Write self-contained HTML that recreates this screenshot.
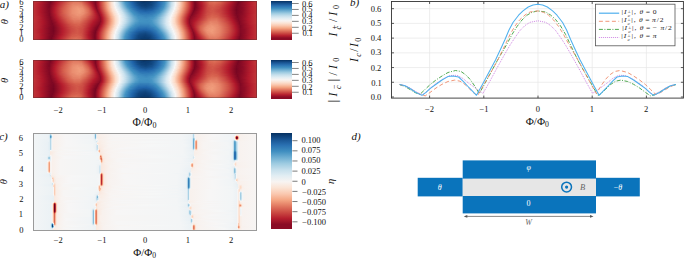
<!DOCTYPE html>
<html><head><meta charset="utf-8"><style>
html,body{margin:0;padding:0;background:#fff;}
body{width:685px;height:259px;position:relative;overflow:hidden;font-family:"Liberation Serif",serif;color:#111;}

.t{position:absolute;white-space:nowrap;line-height:1;left:0;top:0;}
.t .sb{font-size:70%;vertical-align:-0.3em;line-height:0;}
.t .sb0{font-size:70%;vertical-align:-0.3em;line-height:0;}
.t .ss{display:inline-block;vertical-align:middle;line-height:1.12;font-size:70%;text-align:left;margin-left:0.04em;}
.t .ss .sp{display:block;}
.t .ss .sb{display:block;font-size:100%;vertical-align:0;}
.frame{position:absolute;box-sizing:border-box;border:0.8px solid #444;}
</style></head><body>
<div style="position:absolute;left:33px;top:1px;width:224px;height:39px;overflow:hidden;">
<div style="position:absolute;left:0;top:0.00px;width:224px;height:1.60px;background:linear-gradient(90deg,#bf3338 0.5px,#b82531 5.5px,#a81529 9.5px,#840924 15.5px,#7c0722 17.5px,#b3192c 24.5px,#db6b55 37.5px,#e17860 42.5px,#db6b55 48.5px,#ae172a 57.5px,#840924 61.5px,#7f0823 62.5px,#b41c2d 65.5px,#dd7059 70.5px,#f6b191 74.5px,#fce2d2 78.5px,#f5f6f7 81.5px,#d5e7f1 84.5px,#8ac0db 88.5px,#4f9bc7 91.5px,#4291c2 92.5px,#1e61a5 99.5px,#0f437b 105.5px,#08366a 111.5px,#0d3f76 117.5px,#1a5899 123.5px,#2267ac 125.5px,#408fc1 131.5px,#5fa5cd 133.5px,#c5dfec 138.5px,#f5f6f7 142.5px,#fdd9c4 146.5px,#ec9374 151.5px,#ce4f45 155.5px,#b41c2d 158.5px,#810823 161.5px,#810823 162.5px,#b1182b 167.5px,#db6b55 176.5px,#de735c 181.5px,#d86551 186.5px,#c84440 192.5px,#ae172a 199.5px,#7c0722 205.5px,#8a0b25 209.5px,#b61f2e 217.5px,#bf3338 222.5px,#bf3338 223.5px)"></div>
<div style="position:absolute;left:0;top:1.00px;width:224px;height:1.60px;background:linear-gradient(90deg,#bf3338 0.5px,#b82531 5.5px,#a81529 9.5px,#7f0823 16.5px,#7c0722 17.5px,#b1182b 23.5px,#db6b55 36.5px,#e27b62 40.5px,#e27b62 45.5px,#dd7059 48.5px,#c2383a 54.5px,#b3192c 57.5px,#810823 62.5px,#b3192c 65.5px,#dd7059 70.5px,#f6b191 74.5px,#fce2d2 78.5px,#f6f7f7 81.5px,#d7e8f1 84.5px,#68abd0 90.5px,#4393c3 92.5px,#1f63a8 99.5px,#114781 104.5px,#09386d 110.5px,#0d3f76 117.5px,#1a5899 123.5px,#2267ac 125.5px,#408fc1 131.5px,#5fa5cd 133.5px,#c2ddec 138.5px,#deebf2 140.5px,#f5f6f7 142.5px,#fdd9c4 146.5px,#ec9374 151.5px,#ce4f45 155.5px,#b41c2d 158.5px,#810823 161.5px,#7f0823 162.5px,#b41c2d 168.5px,#d86551 176.5px,#dc6e57 181.5px,#d55d4c 187.5px,#b1182b 198.5px,#790622 205.5px,#a81529 214.5px,#b3192c 216.5px,#be3036 221.5px,#bf3338 223.5px)"></div>
<div style="position:absolute;left:0;top:2.00px;width:224px;height:1.60px;background:linear-gradient(90deg,#bf3338 0.5px,#ae172a 8.5px,#7f0823 16.5px,#7f0823 17.5px,#b3192c 23.5px,#db6b55 35.5px,#e48066 40.5px,#e48066 45.5px,#e17860 48.5px,#c6413e 54.5px,#ae172a 58.5px,#810823 62.5px,#b3192c 65.5px,#dd7059 70.5px,#f2a17f 73.5px,#fce0d0 78.5px,#f7f6f6 81.5px,#cce2ef 85.5px,#6bacd1 90.5px,#4997c5 92.5px,#2065ab 99.5px,#124984 104.5px,#0c3d73 108.5px,#0c3d73 115.5px,#134c87 120.5px,#266caf 126.5px,#408fc1 131.5px,#4c99c6 132.5px,#c5dfec 138.5px,#f5f6f7 142.5px,#fcd7c2 146.5px,#eb9172 151.5px,#ce4f45 155.5px,#b41c2d 158.5px,#810823 161.5px,#7c0722 162.5px,#b3192c 168.5px,#d6604d 176.5px,#da6853 181.5px,#d25849 187.5px,#b3192c 197.5px,#7c0722 204.5px,#790622 205.5px,#a81529 214.5px,#b3192c 216.5px,#be3036 221.5px,#bf3338 223.5px)"></div>
<div style="position:absolute;left:0;top:3.00px;width:224px;height:1.60px;background:linear-gradient(90deg,#bf3338 0.5px,#b41c2d 6.5px,#870a24 14.5px,#7f0823 16.5px,#930e26 19.5px,#ae172a 22.5px,#ce4f45 30.5px,#e58368 39.5px,#e6866a 45.5px,#e48066 48.5px,#cb4942 54.5px,#ab162a 59.5px,#810823 62.5px,#b3192c 65.5px,#dc6e57 70.5px,#f6af8e 74.5px,#fcdfcf 78.5px,#f7f5f4 81.5px,#d1e5f0 85.5px,#62a7ce 91.5px,#4393c3 93.5px,#2369ad 99.5px,#10457e 106.5px,#0c3d73 112.5px,#10457e 118.5px,#276eb0 126.5px,#4291c2 131.5px,#65a9cf 133.5px,#c7e0ed 138.5px,#f6f7f7 142.5px,#fcd7c2 146.5px,#eb9172 151.5px,#ce4f45 155.5px,#b41c2d 158.5px,#810823 161.5px,#7c0722 162.5px,#b1182b 168.5px,#d55d4c 176.5px,#d7634f 181.5px,#cf5246 187.5px,#ae172a 197.5px,#790622 204.5px,#960f27 211.5px,#b3192c 216.5px,#be3036 221.5px,#bf3338 223.5px)"></div>
<div style="position:absolute;left:0;top:4.00px;width:224px;height:1.60px;background:linear-gradient(90deg,#bf3338 0.5px,#b41c2d 6.5px,#870a24 14.5px,#7f0823 16.5px,#b3192c 22.5px,#dc6e57 34.5px,#e8896c 40.5px,#e98b6e 45.5px,#e6866a 48.5px,#d55d4c 53.5px,#b1182b 59.5px,#870a24 62.5px,#8d0c25 63.5px,#b1182b 65.5px,#d35a4a 69.5px,#f5ac8b 74.5px,#fcdecd 78.5px,#f8f4f2 81.5px,#deebf2 84.5px,#b3d6e8 87.5px,#59a1ca 92.5px,#3f8ec0 94.5px,#1e61a5 101.5px,#15508d 104.5px,#0f437b 108.5px,#0d3f76 112.5px,#114781 118.5px,#246aae 125.5px,#4695c4 131.5px,#cae1ee 138.5px,#f7f6f6 142.5px,#fac8af 147.5px,#f19e7d 150.5px,#d55d4c 154.5px,#b41c2d 158.5px,#810823 161.5px,#7c0722 162.5px,#ae172a 168.5px,#cf5246 175.5px,#d6604d 180.5px,#cf5246 186.5px,#b1182b 196.5px,#790622 204.5px,#960f27 211.5px,#b61f2e 217.5px,#be3036 221.5px,#bf3338 223.5px)"></div>
<div style="position:absolute;left:0;top:5.00px;width:224px;height:1.60px;background:linear-gradient(90deg,#bf3338 0.5px,#b61f2e 5.5px,#810823 15.5px,#7f0823 16.5px,#b41c2d 22.5px,#d55d4c 31.5px,#e8896c 39.5px,#ec9374 44.5px,#e6866a 49.5px,#d86551 53.5px,#c2383a 57.5px,#b41c2d 59.5px,#8a0b25 62.5px,#8a0b25 63.5px,#ae172a 65.5px,#db6b55 70.5px,#f5aa89 74.5px,#fdddcb 78.5px,#f5f6f7 82.5px,#cae1ee 86.5px,#75b2d4 91.5px,#4393c3 94.5px,#2065ab 101.5px,#114781 108.5px,#0f437b 113.5px,#15508d 119.5px,#266caf 125.5px,#408fc1 130.5px,#6eaed2 133.5px,#cce2ef 138.5px,#f0f4f6 141.5px,#f8f4f2 142.5px,#fcd3bc 146.5px,#f09c7b 150.5px,#d55d4c 154.5px,#b3192c 158.5px,#7f0823 161.5px,#7c0722 162.5px,#ae172a 168.5px,#cf5246 175.5px,#d55d4c 180.5px,#cb4942 187.5px,#ae172a 196.5px,#7c0722 203.5px,#7f0823 206.5px,#b3192c 216.5px,#bd2d35 221.5px,#bf3338 223.5px)"></div>
<div style="position:absolute;left:0;top:6.00px;width:224px;height:1.60px;background:linear-gradient(90deg,#bf3338 0.5px,#ae172a 7.5px,#810823 15.5px,#810823 16.5px,#b61f2e 22.5px,#d6604d 31.5px,#e98b6e 39.5px,#ee9677 44.5px,#e98b6e 49.5px,#d7634f 54.5px,#b1182b 60.5px,#900d26 62.5px,#870a24 63.5px,#ab162a 65.5px,#d86551 70.5px,#f5a886 74.5px,#fddcc9 78.5px,#f7f6f6 82.5px,#d1e5f0 86.5px,#7eb8d7 91.5px,#4c99c6 94.5px,#307ab6 98.5px,#2065ab 102.5px,#15508d 107.5px,#114781 112.5px,#15508d 118.5px,#266caf 124.5px,#4393c3 130.5px,#d2e6f0 138.5px,#f3f5f6 141.5px,#fbe3d4 144.5px,#f7b596 148.5px,#da6853 153.5px,#b1182b 158.5px,#7c0722 161.5px,#810823 163.5px,#b61f2e 169.5px,#cb4942 174.5px,#d05548 177.5px,#d25849 181.5px,#cb4942 186.5px,#b3192c 195.5px,#790622 203.5px,#8a0b25 209.5px,#b61f2e 217.5px,#bf3338 223.5px)"></div>
<div style="position:absolute;left:0;top:7.00px;width:224px;height:1.60px;background:linear-gradient(90deg,#bf3338 0.5px,#ae172a 7.5px,#870a24 14.5px,#840924 16.5px,#b1182b 21.5px,#ce4f45 28.5px,#e58368 37.5px,#eb9172 40.5px,#ef9979 45.5px,#eb9172 49.5px,#d6604d 55.5px,#b41c2d 60.5px,#870a24 63.5px,#b61f2e 66.5px,#de735c 71.5px,#f6b394 75.5px,#fce0d0 79.5px,#f8f4f2 82.5px,#e0ecf3 85.5px,#cae1ee 87.5px,#59a1ca 94.5px,#408fc1 96.5px,#1e61a5 104.5px,#175290 108.5px,#144e8a 113.5px,#1a5899 119.5px,#2870b1 124.5px,#4291c2 129.5px,#5ca3cb 131.5px,#c7e0ed 137.5px,#f6f7f7 141.5px,#fdd9c4 145.5px,#ec9374 150.5px,#d05548 154.5px,#ae172a 158.5px,#790622 161.5px,#930e26 165.5px,#b1182b 168.5px,#cb4942 174.5px,#d25849 179.5px,#cc4c44 185.5px,#b1182b 195.5px,#790622 203.5px,#8a0b25 209.5px,#b61f2e 217.5px,#bf3338 223.5px)"></div>
<div style="position:absolute;left:0;top:8.00px;width:224px;height:1.60px;background:linear-gradient(90deg,#bf3338 0.5px,#ae172a 7.5px,#870a24 14.5px,#840924 16.5px,#b3192c 21.5px,#d55d4c 30.5px,#ea8e70 39.5px,#f09c7b 45.5px,#ea8e70 50.5px,#d86551 55.5px,#ae172a 61.5px,#900d26 63.5px,#900d26 64.5px,#b3192c 66.5px,#dc6e57 71.5px,#f6af8e 75.5px,#fcdecd 79.5px,#f6f7f7 83.5px,#d1e5f0 87.5px,#4997c5 96.5px,#307ab6 100.5px,#1d5fa2 106.5px,#185493 112.5px,#1d5fa2 119.5px,#307ab6 125.5px,#4997c5 129.5px,#a9d1e5 135.5px,#cfe4ef 137.5px,#f7f5f4 141.5px,#fcd5bf 145.5px,#eb9172 150.5px,#d6604d 153.5px,#b61f2e 157.5px,#790622 161.5px,#9f1228 166.5px,#b72230 169.5px,#cb4942 174.5px,#d25849 179.5px,#c6413e 187.5px,#b1182b 195.5px,#760521 203.5px,#900d26 210.5px,#b61f2e 217.5px,#bf3338 223.5px)"></div>
<div style="position:absolute;left:0;top:9.00px;width:224px;height:1.60px;background:linear-gradient(90deg,#bf3338 0.5px,#ae172a 7.5px,#840924 15.5px,#840924 16.5px,#b3192c 21.5px,#d6604d 30.5px,#ea8e70 39.5px,#f09c7b 46.5px,#eb9172 50.5px,#db6b55 55.5px,#bb2a34 60.5px,#b41c2d 61.5px,#960f27 63.5px,#8d0c25 64.5px,#ae172a 66.5px,#da6853 71.5px,#f5aa89 75.5px,#fddcc9 79.5px,#f7f5f4 83.5px,#cce2ef 88.5px,#81bad8 93.5px,#4695c4 97.5px,#266caf 104.5px,#1c5c9f 112.5px,#1f63a8 118.5px,#3a87bd 126.5px,#4695c4 128.5px,#84bcd9 132.5px,#d4e6f1 137.5px,#f3f5f6 140.5px,#fbe3d4 143.5px,#f7b596 147.5px,#e27b62 151.5px,#cc4c44 154.5px,#b3192c 157.5px,#810823 160.5px,#7c0722 161.5px,#991027 165.5px,#b41c2d 168.5px,#c84440 173.5px,#cf5246 176.5px,#d05548 180.5px,#c6413e 187.5px,#ae172a 195.5px,#760521 203.5px,#900d26 210.5px,#b61f2e 217.5px,#bf3338 223.5px)"></div>
<div style="position:absolute;left:0;top:10.00px;width:224px;height:1.60px;background:linear-gradient(90deg,#bf3338 0.5px,#ae172a 7.5px,#840924 15.5px,#840924 16.5px,#b3192c 21.5px,#d6604d 30.5px,#ea8e70 39.5px,#f09c7b 46.5px,#eb9172 50.5px,#db6b55 55.5px,#c53e3d 59.5px,#ae172a 62.5px,#8d0c25 64.5px,#960f27 65.5px,#b61f2e 67.5px,#de735c 72.5px,#f3a481 75.5px,#fdd9c4 79.5px,#f5f6f7 84.5px,#d2e6f0 88.5px,#7bb6d6 94.5px,#4393c3 98.5px,#266caf 106.5px,#1f63a8 112.5px,#2870b1 120.5px,#3e8cbf 126.5px,#6eaed2 130.5px,#cfe4ef 136.5px,#f7f6f6 140.5px,#facab1 145.5px,#ec9374 149.5px,#d05548 153.5px,#ae172a 157.5px,#7c0722 160.5px,#9f1228 165.5px,#b61f2e 168.5px,#c84440 173.5px,#d05548 177.5px,#d05548 180.5px,#c53e3d 188.5px,#b1182b 195.5px,#790622 203.5px,#870a24 208.5px,#b61f2e 217.5px,#bf3338 223.5px)"></div>
<div style="position:absolute;left:0;top:11.00px;width:224px;height:1.60px;background:linear-gradient(90deg,#bf3338 0.5px,#ae172a 7.5px,#8d0c25 13.5px,#840924 16.5px,#b3192c 21.5px,#d86551 31.5px,#ea8e70 39.5px,#f09c7b 46.5px,#e8896c 51.5px,#df765e 54.5px,#cc4c44 58.5px,#b3192c 62.5px,#960f27 64.5px,#900d26 65.5px,#b1182b 67.5px,#db6b55 72.5px,#f5ac8b 76.5px,#fdddcb 80.5px,#f7f5f4 84.5px,#cfe4ef 89.5px,#4393c3 99.5px,#2870b1 107.5px,#266caf 115.5px,#307ab6 121.5px,#4393c3 126.5px,#7bb6d6 130.5px,#d5e7f1 136.5px,#f3f5f6 139.5px,#fdddcb 143.5px,#f19e7d 148.5px,#ce4f45 153.5px,#b61f2e 156.5px,#840924 159.5px,#7f0823 160.5px,#a21328 165.5px,#b72230 168.5px,#cc4c44 174.5px,#d25849 180.5px,#c84440 187.5px,#ab162a 196.5px,#790622 203.5px,#870a24 208.5px,#b61f2e 217.5px,#bf3338 223.5px)"></div>
<div style="position:absolute;left:0;top:12.00px;width:224px;height:1.60px;background:linear-gradient(90deg,#bf3338 0.5px,#b61f2e 5.5px,#a51429 9.5px,#810823 16.5px,#b61f2e 22.5px,#d25849 29.5px,#ea8e70 39.5px,#ef9979 46.5px,#ea8e70 50.5px,#d7634f 56.5px,#b61f2e 62.5px,#900d26 65.5px,#991027 66.5px,#b72230 68.5px,#df765e 73.5px,#f4a683 76.5px,#fdd9c4 80.5px,#f5f6f7 85.5px,#c7e0ed 90.5px,#84bcd9 95.5px,#4393c3 100.5px,#2e77b5 107.5px,#2b73b3 115.5px,#3681ba 121.5px,#4695c4 125.5px,#87beda 130.5px,#d1e5f0 135.5px,#f7f6f6 139.5px,#fdd9c4 143.5px,#ee9677 148.5px,#c94741 153.5px,#b1182b 156.5px,#7f0823 159.5px,#960f27 163.5px,#b41c2d 167.5px,#ce4f45 174.5px,#d35a4a 179.5px,#ce4f45 185.5px,#b3192c 195.5px,#790622 203.5px,#8d0c25 209.5px,#b3192c 216.5px,#bd2d35 221.5px,#bf3338 223.5px)"></div>
<div style="position:absolute;left:0;top:13.00px;width:224px;height:1.60px;background:linear-gradient(90deg,#bf3338 0.5px,#b41c2d 6.5px,#810823 16.5px,#b41c2d 22.5px,#c94741 27.5px,#e58368 37.5px,#ee9677 44.5px,#ea8e70 49.5px,#d6604d 56.5px,#ae172a 63.5px,#960f27 65.5px,#930e26 66.5px,#b3192c 68.5px,#dc6e57 73.5px,#f6af8e 77.5px,#fcdecd 81.5px,#f7f5f4 85.5px,#cfe4ef 90.5px,#59a1ca 99.5px,#4393c3 101.5px,#307ab6 109.5px,#337eb8 118.5px,#4291c2 123.5px,#68abd0 127.5px,#cae1ee 134.5px,#f3f5f6 138.5px,#f9ebe3 140.5px,#fcd3bc 143.5px,#eb9172 148.5px,#ce4f45 152.5px,#b61f2e 155.5px,#870a24 158.5px,#810823 159.5px,#b61f2e 167.5px,#cc4c44 173.5px,#d55d4c 179.5px,#cf5246 185.5px,#ba2832 193.5px,#a81529 197.5px,#7c0722 203.5px,#8d0c25 209.5px,#b41c2d 216.5px,#be3036 221.5px,#bf3338 223.5px)"></div>
<div style="position:absolute;left:0;top:14.00px;width:224px;height:1.60px;background:linear-gradient(90deg,#bf3338 0.5px,#ae172a 8.5px,#900d26 13.5px,#810823 16.5px,#b3192c 22.5px,#c84440 27.5px,#e48066 37.5px,#ec9374 44.5px,#eb9172 47.5px,#db6b55 54.5px,#b72230 62.5px,#a51429 64.5px,#8d0c25 66.5px,#ae172a 68.5px,#da6853 73.5px,#f5aa89 77.5px,#fddbc7 81.5px,#f5f6f7 86.5px,#c7e0ed 91.5px,#4c99c6 101.5px,#3b88be 105.5px,#3480b9 113.5px,#3a87bd 119.5px,#4997c5 123.5px,#75b2d4 127.5px,#dbeaf2 135.5px,#f7f6f6 138.5px,#fddbc7 142.5px,#ef9979 147.5px,#cb4942 152.5px,#b3192c 155.5px,#810823 158.5px,#b41c2d 166.5px,#cf5246 174.5px,#d6604d 178.5px,#d55d4c 183.5px,#bf3338 192.5px,#ab162a 197.5px,#840924 202.5px,#7c0722 204.5px,#991027 211.5px,#b41c2d 216.5px,#be3036 221.5px,#bf3338 223.5px)"></div>
<div style="position:absolute;left:0;top:15.00px;width:224px;height:1.60px;background:linear-gradient(90deg,#bf3338 0.5px,#b82531 5.5px,#a81529 9.5px,#840924 16.5px,#840924 17.5px,#b61f2e 23.5px,#d05548 30.5px,#e6866a 39.5px,#ea8e70 46.5px,#de735c 52.5px,#b1182b 63.5px,#930e26 66.5px,#960f27 67.5px,#b61f2e 69.5px,#d7634f 73.5px,#f6b191 78.5px,#fcdfcf 82.5px,#f6f7f7 86.5px,#cce2ef 91.5px,#5fa5cd 100.5px,#4291c2 104.5px,#3783bb 112.5px,#3e8cbf 119.5px,#4393c3 121.5px,#71b0d3 126.5px,#cce2ef 133.5px,#f2f5f6 137.5px,#f8f4f2 138.5px,#fcd7c2 142.5px,#ec9374 147.5px,#cf5246 151.5px,#ab162a 155.5px,#870a24 157.5px,#960f27 161.5px,#b61f2e 166.5px,#d25849 174.5px,#d86551 179.5px,#d35a4a 185.5px,#b41c2d 196.5px,#7c0722 204.5px,#9f1228 212.5px,#b3192c 215.5px,#bf3338 222.5px,#bf3338 223.5px)"></div>
<div style="position:absolute;left:0;top:16.00px;width:224px;height:1.60px;background:linear-gradient(90deg,#bf3338 0.5px,#b82531 5.5px,#ab162a 9.5px,#8d0c25 14.5px,#810823 17.5px,#b41c2d 23.5px,#d55d4c 32.5px,#e6866a 40.5px,#e8896c 46.5px,#dc6e57 52.5px,#b1182b 63.5px,#930e26 66.5px,#900d26 67.5px,#b3192c 69.5px,#dc6e57 74.5px,#f6af8e 78.5px,#fdddcb 82.5px,#f7f5f4 86.5px,#c5dfec 92.5px,#5ca3cb 101.5px,#4291c2 105.5px,#3b88be 113.5px,#4695c4 120.5px,#5ca3cb 123.5px,#96c7df 128.5px,#dbeaf2 134.5px,#f5f6f7 137.5px,#fcd3bc 142.5px,#f19e7d 146.5px,#cc4c44 151.5px,#b41c2d 154.5px,#870a24 157.5px,#b41c2d 165.5px,#d35a4a 174.5px,#da6853 178.5px,#d7634f 184.5px,#c43b3c 192.5px,#ab162a 198.5px,#7c0722 204.5px,#9c1127 211.5px,#b41c2d 216.5px,#bf3338 222.5px,#bf3338 223.5px)"></div>
<div style="position:absolute;left:0;top:17.00px;width:224px;height:1.60px;background:linear-gradient(90deg,#bf3338 0.5px,#b72230 6.5px,#9f1228 11.5px,#810823 17.5px,#b1182b 23.5px,#cc4c44 30.5px,#e37e64 39.5px,#e6866a 46.5px,#d86551 52.5px,#ae172a 63.5px,#8d0c25 67.5px,#b1182b 69.5px,#da6853 74.5px,#f5aa89 78.5px,#fddcc9 82.5px,#f8f4f2 86.5px,#dae9f2 90.5px,#6bacd1 100.5px,#59a1ca 102.5px,#4393c3 105.5px,#3e8cbf 113.5px,#4695c4 119.5px,#59a1ca 122.5px,#81bad8 126.5px,#d5e7f1 133.5px,#f7f6f6 137.5px,#fddcc9 141.5px,#f09c7b 146.5px,#cb4942 151.5px,#b1182b 154.5px,#900d26 156.5px,#8a0b25 157.5px,#b41c2d 164.5px,#d86551 175.5px,#dc6e57 178.5px,#dc6e57 183.5px,#c94741 191.5px,#b1182b 198.5px,#8d0c25 202.5px,#7f0823 205.5px,#b3192c 215.5px,#c13639 223.5px)"></div>
<div style="position:absolute;left:0;top:18.00px;width:224px;height:1.60px;background:linear-gradient(90deg,#c13639 0.5px,#b1182b 8.5px,#810823 17.5px,#991027 21.5px,#b41c2d 24.5px,#d6604d 34.5px,#e37e64 40.5px,#e48066 46.5px,#d6604d 52.5px,#b1182b 62.5px,#8d0c25 67.5px,#ae172a 69.5px,#da6853 74.5px,#f7b596 79.5px,#fddbc7 82.5px,#f8f4f2 86.5px,#e1edf3 89.5px,#c7e0ed 92.5px,#81bad8 98.5px,#529dc8 103.5px,#4291c2 107.5px,#4291c2 116.5px,#529dc8 120.5px,#68abd0 123.5px,#d8e9f1 133.5px,#f7f5f4 137.5px,#fddbc7 141.5px,#ef9979 146.5px,#d25849 150.5px,#ae172a 154.5px,#8a0b25 156.5px,#b3192c 163.5px,#db6b55 175.5px,#de735c 178.5px,#de735c 183.5px,#cf5246 190.5px,#b41c2d 198.5px,#8a0b25 203.5px,#7f0823 205.5px,#b3192c 215.5px,#c13639 223.5px)"></div>
<div style="position:absolute;left:0;top:19.00px;width:224px;height:1.60px;background:linear-gradient(90deg,#c13639 0.5px,#b72230 6.5px,#a81529 10.5px,#8a0b25 15.5px,#810823 18.5px,#b1182b 24.5px,#d55d4c 34.5px,#e17860 41.5px,#df765e 47.5px,#cb4942 54.5px,#b3192c 61.5px,#8d0c25 67.5px,#ae172a 69.5px,#d86551 74.5px,#f5a886 78.5px,#fddbc7 82.5px,#f8f4f2 86.5px,#dae9f2 90.5px,#62a7ce 101.5px,#4393c3 106.5px,#408fc1 114.5px,#4695c4 118.5px,#75b2d4 124.5px,#dae9f2 133.5px,#f8f4f2 137.5px,#fddbc7 141.5px,#ef9979 146.5px,#d05548 150.5px,#ae172a 154.5px,#8d0c25 156.5px,#b3192c 162.5px,#dd7059 175.5px,#e17860 178.5px,#e17860 183.5px,#ce4f45 191.5px,#b1182b 199.5px,#810823 205.5px,#991027 211.5px,#b3192c 215.5px,#c13639 223.5px)"></div>
<div style="position:absolute;left:0;top:20.00px;width:224px;height:1.60px;background:linear-gradient(90deg,#c13639 0.5px,#ae172a 9.5px,#870a24 16.5px,#7f0823 18.5px,#a21328 23.5px,#b41c2d 25.5px,#d55d4c 35.5px,#de735c 41.5px,#de735c 46.5px,#cc4c44 53.5px,#b3192c 60.5px,#8a0b25 67.5px,#ae172a 69.5px,#da6853 74.5px,#f7b596 79.5px,#fddbc7 82.5px,#f7f5f4 86.5px,#c5dfec 92.5px,#7eb8d7 98.5px,#59a1ca 102.5px,#4393c3 106.5px,#408fc1 114.5px,#4695c4 118.5px,#6bacd1 123.5px,#dae9f2 133.5px,#f3f5f6 136.5px,#f9eee7 138.5px,#fddbc7 141.5px,#ef9979 146.5px,#c84440 151.5px,#ae172a 154.5px,#8d0c25 156.5px,#b1182b 161.5px,#d6604d 171.5px,#e48066 177.5px,#e37e64 183.5px,#c43b3c 195.5px,#ae172a 200.5px,#8a0b25 204.5px,#810823 206.5px,#b41c2d 216.5px,#c13639 223.5px)"></div>
<div style="position:absolute;left:0;top:21.00px;width:224px;height:1.60px;background:linear-gradient(90deg,#c13639 0.5px,#ae172a 9.5px,#870a24 16.5px,#7f0823 18.5px,#930e26 22.5px,#b1182b 25.5px,#d25849 35.5px,#dc6e57 41.5px,#dc6e57 46.5px,#c94741 53.5px,#ae172a 60.5px,#8a0b25 66.5px,#900d26 67.5px,#b1182b 69.5px,#db6b55 74.5px,#f5aa89 78.5px,#fddcc9 82.5px,#f7f6f6 86.5px,#c0dceb 92.5px,#78b4d5 98.5px,#529dc8 102.5px,#408fc1 106.5px,#408fc1 116.5px,#4997c5 119.5px,#6bacd1 123.5px,#dae9f2 133.5px,#f8f4f2 137.5px,#fddcc9 141.5px,#f09c7b 146.5px,#d25849 150.5px,#b1182b 154.5px,#8d0c25 156.5px,#b41c2d 161.5px,#d86551 171.5px,#e6866a 177.5px,#e37e64 184.5px,#c94741 194.5px,#b1182b 200.5px,#810823 206.5px,#b41c2d 216.5px,#bf3338 222.5px,#bf3338 223.5px)"></div>
<div style="position:absolute;left:0;top:22.00px;width:224px;height:1.60px;background:linear-gradient(90deg,#bf3338 0.5px,#b72230 6.5px,#a81529 10.5px,#870a24 16.5px,#7c0722 19.5px,#b3192c 26.5px,#cf5246 35.5px,#da6853 41.5px,#da6853 46.5px,#c6413e 53.5px,#b1182b 59.5px,#870a24 66.5px,#b41c2d 69.5px,#dc6e57 74.5px,#f5ac8b 78.5px,#fdddcb 82.5px,#f5f6f7 86.5px,#c7e0ed 91.5px,#71b0d3 98.5px,#4c99c6 102.5px,#3e8cbf 106.5px,#3e8cbf 115.5px,#4695c4 119.5px,#65a9cf 123.5px,#d1e5f0 132.5px,#f7f5f4 137.5px,#fcd3bc 142.5px,#f19e7d 146.5px,#cc4c44 151.5px,#b3192c 154.5px,#900d26 156.5px,#9c1127 158.5px,#b61f2e 161.5px,#de735c 172.5px,#e98b6e 178.5px,#e48066 184.5px,#d25849 192.5px,#ae172a 201.5px,#810823 206.5px,#a21328 213.5px,#b41c2d 216.5px,#bf3338 222.5px,#bf3338 223.5px)"></div>
<div style="position:absolute;left:0;top:23.00px;width:224px;height:1.60px;background:linear-gradient(90deg,#bf3338 0.5px,#b72230 6.5px,#a81529 10.5px,#810823 17.5px,#7c0722 19.5px,#9f1228 24.5px,#b72230 28.5px,#d35a4a 38.5px,#d86551 45.5px,#cc4c44 51.5px,#b3192c 58.5px,#870a24 65.5px,#870a24 66.5px,#ab162a 68.5px,#d7634f 73.5px,#f6b191 78.5px,#fcdfcf 82.5px,#f8f4f2 85.5px,#e0ecf3 88.5px,#81bad8 96.5px,#68abd0 98.5px,#4393c3 102.5px,#3a87bd 107.5px,#3a87bd 115.5px,#4695c4 120.5px,#6bacd1 124.5px,#d7e8f1 133.5px,#f6f7f7 137.5px,#fcd7c2 142.5px,#ec9374 147.5px,#ce4f45 151.5px,#b61f2e 154.5px,#960f27 156.5px,#930e26 157.5px,#b1182b 160.5px,#de735c 171.5px,#ea8e70 177.5px,#e6866a 184.5px,#ce4f45 194.5px,#b1182b 201.5px,#840924 206.5px,#900d26 210.5px,#b61f2e 217.5px,#be3036 222.5px,#bf3338 223.5px)"></div>
<div style="position:absolute;left:0;top:24.00px;width:224px;height:1.60px;background:linear-gradient(90deg,#bf3338 0.5px,#b72230 6.5px,#9f1228 11.5px,#7f0823 18.5px,#7f0823 20.5px,#a21328 25.5px,#b61f2e 28.5px,#cf5246 37.5px,#d6604d 42.5px,#d6604d 46.5px,#c6413e 52.5px,#ae172a 58.5px,#810823 65.5px,#b3192c 68.5px,#db6b55 73.5px,#f7b596 78.5px,#fddbc7 81.5px,#f7f6f6 85.5px,#c5dfec 90.5px,#529dc8 99.5px,#3f8ec0 102.5px,#3681ba 107.5px,#3681ba 115.5px,#4695c4 121.5px,#6eaed2 125.5px,#d4e6f1 133.5px,#f5f6f7 137.5px,#fddbc7 142.5px,#f5aa89 146.5px,#d25849 151.5px,#ae172a 155.5px,#8d0c25 157.5px,#b1182b 160.5px,#d7634f 168.5px,#e8896c 174.5px,#ec9374 178.5px,#e8896c 184.5px,#cf5246 194.5px,#b82531 200.5px,#ab162a 202.5px,#810823 207.5px,#a51429 214.5px,#b41c2d 217.5px,#bf3338 223.5px)"></div>
<div style="position:absolute;left:0;top:25.00px;width:224px;height:1.60px;background:linear-gradient(90deg,#bf3338 0.5px,#b82531 5.5px,#a51429 10.5px,#810823 17.5px,#7c0722 20.5px,#b41c2d 28.5px,#cb4942 36.5px,#d55d4c 43.5px,#d05548 48.5px,#be3036 54.5px,#ab162a 58.5px,#810823 64.5px,#870a24 65.5px,#b61f2e 68.5px,#dd7059 73.5px,#f6af8e 77.5px,#fbe5d8 82.5px,#f8f3f0 84.5px,#e9f0f4 86.5px,#aed3e6 91.5px,#5ca3cb 97.5px,#3e8cbf 101.5px,#307ab6 107.5px,#327cb7 115.5px,#4393c3 122.5px,#b3d6e8 131.5px,#d8e9f1 134.5px,#f7f5f4 138.5px,#fcd5bf 143.5px,#eb9172 148.5px,#cc4c44 152.5px,#b3192c 155.5px,#930e26 157.5px,#960f27 158.5px,#ae172a 160.5px,#d6604d 167.5px,#ea8e70 174.5px,#ee9677 179.5px,#e58368 186.5px,#c94741 196.5px,#ae172a 202.5px,#810823 207.5px,#b41c2d 217.5px,#bf3338 223.5px)"></div>
<div style="position:absolute;left:0;top:26.00px;width:224px;height:1.60px;background:linear-gradient(90deg,#bf3338 0.5px,#b82531 5.5px,#ab162a 9.5px,#840924 16.5px,#790622 20.5px,#b61f2e 29.5px,#cf5246 39.5px,#d35a4a 45.5px,#cb4942 50.5px,#ae172a 57.5px,#870a24 62.5px,#7f0823 64.5px,#b1182b 67.5px,#df765e 73.5px,#f6b394 77.5px,#fce0d0 81.5px,#f7f6f6 84.5px,#d1e5f0 88.5px,#5fa5cd 96.5px,#4695c4 98.5px,#2e77b5 105.5px,#2b73b3 113.5px,#3783bb 120.5px,#4393c3 123.5px,#acd2e5 131.5px,#d4e6f1 134.5px,#f5f6f7 138.5px,#fdd9c4 143.5px,#f4a683 147.5px,#d05548 152.5px,#ab162a 156.5px,#991027 157.5px,#900d26 158.5px,#b61f2e 161.5px,#d7634f 167.5px,#ea8e70 173.5px,#ef9979 179.5px,#e8896c 185.5px,#d25849 194.5px,#b1182b 202.5px,#810823 207.5px,#b3192c 217.5px,#be3036 222.5px,#bf3338 223.5px)"></div>
<div style="position:absolute;left:0;top:27.00px;width:224px;height:1.60px;background:linear-gradient(90deg,#bf3338 0.5px,#b61f2e 6.5px,#870a24 15.5px,#790622 20.5px,#b41c2d 29.5px,#c84440 36.5px,#d25849 43.5px,#cc4c44 49.5px,#b3192c 56.5px,#840924 62.5px,#7f0823 63.5px,#840924 64.5px,#b61f2e 67.5px,#dc6e57 72.5px,#f5ac8b 76.5px,#fdddcb 80.5px,#f3f5f6 84.5px,#c7e0ed 88.5px,#7bb6d6 93.5px,#4393c3 97.5px,#2870b1 105.5px,#266caf 113.5px,#307ab6 119.5px,#4393c3 124.5px,#cfe4ef 134.5px,#f7f5f4 139.5px,#fcd3bc 144.5px,#f19e7d 148.5px,#d35a4a 152.5px,#b1182b 156.5px,#900d26 158.5px,#960f27 159.5px,#b3192c 161.5px,#d7634f 167.5px,#e58368 171.5px,#ef9979 176.5px,#ee9677 181.5px,#e48066 187.5px,#cb4942 196.5px,#b3192c 202.5px,#840924 207.5px,#9c1127 213.5px,#b61f2e 218.5px,#bf3338 223.5px)"></div>
<div style="position:absolute;left:0;top:28.00px;width:224px;height:1.60px;background:linear-gradient(90deg,#bf3338 0.5px,#ae172a 8.5px,#7f0823 17.5px,#790622 20.5px,#b41c2d 29.5px,#cb4942 38.5px,#d25849 44.5px,#cb4942 49.5px,#ba2832 54.5px,#a81529 57.5px,#810823 62.5px,#7c0722 63.5px,#ae172a 66.5px,#d86551 71.5px,#f6b191 76.5px,#fcdfcf 80.5px,#f7f6f6 83.5px,#cfe4ef 87.5px,#6eaed2 93.5px,#3e8cbf 97.5px,#2369ad 105.5px,#2065ab 113.5px,#2e77b5 120.5px,#4393c3 125.5px,#7bb6d6 129.5px,#d2e6f0 135.5px,#f5f6f7 139.5px,#fdd9c4 144.5px,#ec9374 149.5px,#cf5246 153.5px,#b61f2e 156.5px,#960f27 158.5px,#8d0c25 159.5px,#ae172a 161.5px,#d7634f 167.5px,#e98b6e 172.5px,#ee9677 175.5px,#f09c7b 179.5px,#e6866a 186.5px,#cf5246 195.5px,#ab162a 203.5px,#840924 207.5px,#900d26 211.5px,#b61f2e 218.5px,#bf3338 223.5px)"></div>
<div style="position:absolute;left:0;top:29.00px;width:224px;height:1.60px;background:linear-gradient(90deg,#bf3338 0.5px,#ae172a 8.5px,#7f0823 17.5px,#760521 20.5px,#b41c2d 29.5px,#cb4942 38.5px,#d25849 44.5px,#cb4942 49.5px,#b82531 54.5px,#a51429 57.5px,#810823 61.5px,#7c0722 62.5px,#810823 63.5px,#b3192c 66.5px,#db6b55 71.5px,#f5a886 75.5px,#fddbc7 79.5px,#f8f2ef 82.5px,#f3f5f6 83.5px,#c5dfec 87.5px,#71b0d3 92.5px,#4695c4 95.5px,#246aae 103.5px,#1c5c9f 110.5px,#1f63a8 116.5px,#307ab6 122.5px,#4695c4 126.5px,#81bad8 130.5px,#d7e8f1 136.5px,#f7f5f4 140.5px,#fddcc9 144.5px,#f09c7b 149.5px,#d25849 153.5px,#ae172a 157.5px,#8d0c25 159.5px,#a51429 161.5px,#b41c2d 162.5px,#d6604d 167.5px,#e58368 171.5px,#ee9677 174.5px,#f09c7b 179.5px,#e6866a 186.5px,#cf5246 195.5px,#ab162a 203.5px,#840924 207.5px,#900d26 211.5px,#b61f2e 218.5px,#bf3338 223.5px)"></div>
<div style="position:absolute;left:0;top:30.00px;width:224px;height:1.60px;background:linear-gradient(90deg,#bf3338 0.5px,#ae172a 8.5px,#7f0823 17.5px,#760521 20.5px,#b41c2d 29.5px,#cb4942 38.5px,#d25849 44.5px,#cb4942 49.5px,#b72230 54.5px,#9f1228 57.5px,#790622 62.5px,#b61f2e 66.5px,#dd7059 71.5px,#f6af8e 75.5px,#fcdecd 79.5px,#f7f5f4 82.5px,#cfe4ef 86.5px,#569fc9 93.5px,#3a87bd 96.5px,#1f63a8 103.5px,#1b5a9c 106.5px,#185493 112.5px,#1d5fa2 117.5px,#307ab6 123.5px,#4997c5 127.5px,#d1e5f0 136.5px,#f6f7f7 140.5px,#fcd5bf 145.5px,#eb9172 150.5px,#cc4c44 154.5px,#b3192c 157.5px,#900d26 159.5px,#900d26 160.5px,#ae172a 162.5px,#d86551 168.5px,#ea8e70 173.5px,#f09c7b 178.5px,#e6866a 186.5px,#cb4942 196.5px,#ab162a 203.5px,#840924 207.5px,#900d26 211.5px,#b61f2e 218.5px,#bf3338 223.5px)"></div>
<div style="position:absolute;left:0;top:31.00px;width:224px;height:1.60px;background:linear-gradient(90deg,#bf3338 0.5px,#ae172a 8.5px,#7f0823 17.5px,#790622 20.5px,#b41c2d 29.5px,#ce4f45 39.5px,#d25849 44.5px,#cb4942 49.5px,#b1182b 55.5px,#840924 60.5px,#790622 62.5px,#ae172a 65.5px,#d86551 70.5px,#f6b191 75.5px,#fdd9c4 78.5px,#f6f7f7 82.5px,#c7e0ed 86.5px,#4c99c6 93.5px,#307ab6 97.5px,#1c5c9f 103.5px,#185493 106.5px,#144e8a 112.5px,#1a5899 117.5px,#2870b1 122.5px,#4997c5 128.5px,#b8d8e9 135.5px,#d5e7f1 137.5px,#f2f5f6 140.5px,#f9eee7 142.5px,#fdd9c4 145.5px,#f4a683 149.5px,#cf5246 154.5px,#b61f2e 157.5px,#870a24 160.5px,#b41c2d 163.5px,#d6604d 168.5px,#eb9172 174.5px,#ef9979 179.5px,#e8896c 185.5px,#d55d4c 193.5px,#b72230 201.5px,#a81529 203.5px,#840924 207.5px,#900d26 211.5px,#b61f2e 218.5px,#bf3338 223.5px)"></div>
<div style="position:absolute;left:0;top:32.00px;width:224px;height:1.60px;background:linear-gradient(90deg,#bf3338 0.5px,#b61f2e 6.5px,#810823 16.5px,#790622 20.5px,#b61f2e 29.5px,#cf5246 39.5px,#d25849 44.5px,#ce4f45 48.5px,#bb2a34 53.5px,#b1182b 55.5px,#7c0722 61.5px,#7c0722 62.5px,#b1182b 65.5px,#e17860 71.5px,#f7b596 75.5px,#fbe3d4 79.5px,#f3f5f6 82.5px,#d2e6f0 85.5px,#4393c3 93.5px,#266caf 99.5px,#144e8a 106.5px,#114781 112.5px,#195696 118.5px,#246aae 122.5px,#4291c2 128.5px,#6bacd1 131.5px,#c2ddec 136.5px,#eff3f5 140.5px,#f7f6f6 141.5px,#fddcc9 145.5px,#ef9979 150.5px,#d05548 154.5px,#ab162a 158.5px,#870a24 160.5px,#900d26 161.5px,#b1182b 163.5px,#d7634f 169.5px,#e98b6e 174.5px,#ee9677 179.5px,#e58368 186.5px,#c53e3d 197.5px,#b1182b 202.5px,#810823 207.5px,#900d26 211.5px,#b61f2e 218.5px,#bf3338 223.5px)"></div>
<div style="position:absolute;left:0;top:33.00px;width:224px;height:1.60px;background:linear-gradient(90deg,#bf3338 0.5px,#b82531 5.5px,#a81529 9.5px,#7f0823 17.5px,#7c0722 20.5px,#b3192c 28.5px,#cf5246 38.5px,#d55d4c 43.5px,#cf5246 48.5px,#ae172a 55.5px,#7c0722 61.5px,#7f0823 62.5px,#b3192c 65.5px,#db6b55 70.5px,#f5aa89 74.5px,#fdddcb 78.5px,#f8f4f2 81.5px,#dae9f2 84.5px,#a7d0e4 87.5px,#4c99c6 92.5px,#3480b9 95.5px,#1f63a8 100.5px,#124984 106.5px,#0f437b 112.5px,#144e8a 117.5px,#246aae 123.5px,#4393c3 129.5px,#b8d8e9 136.5px,#e1edf3 139.5px,#f5f6f7 141.5px,#fdddcb 145.5px,#f09c7b 150.5px,#c94741 155.5px,#ae172a 158.5px,#8a0b25 160.5px,#8a0b25 161.5px,#b41c2d 164.5px,#d35a4a 169.5px,#df765e 172.5px,#e98b6e 175.5px,#eb9172 180.5px,#e48066 186.5px,#c43b3c 197.5px,#ae172a 202.5px,#7f0823 207.5px,#b3192c 217.5px,#be3036 222.5px,#bf3338 223.5px)"></div>
<div style="position:absolute;left:0;top:34.00px;width:224px;height:1.60px;background:linear-gradient(90deg,#bf3338 0.5px,#b82531 5.5px,#a81529 9.5px,#7f0823 17.5px,#790622 19.5px,#b1182b 27.5px,#d35a4a 39.5px,#d55d4c 45.5px,#cc4c44 49.5px,#ae172a 55.5px,#7c0722 61.5px,#810823 62.5px,#b41c2d 65.5px,#dc6e57 70.5px,#f5ac8b 74.5px,#fcdecd 78.5px,#f7f6f6 81.5px,#cae1ee 85.5px,#4695c4 92.5px,#246aae 98.5px,#114781 105.5px,#0d3f76 112.5px,#124984 117.5px,#1b5a9c 121.5px,#266caf 124.5px,#3f8ec0 129.5px,#68abd0 132.5px,#b3d6e8 136.5px,#deebf2 139.5px,#f8f4f2 142.5px,#fcd5bf 146.5px,#f19e7d 150.5px,#cb4942 155.5px,#b1182b 158.5px,#8d0c25 160.5px,#870a24 161.5px,#b1182b 164.5px,#dd7059 172.5px,#e8896c 176.5px,#e98b6e 181.5px,#e37e64 186.5px,#c2383a 197.5px,#ab162a 202.5px,#7f0823 207.5px,#9c1127 213.5px,#b41c2d 217.5px,#bf3338 223.5px)"></div>
<div style="position:absolute;left:0;top:35.00px;width:224px;height:1.60px;background:linear-gradient(90deg,#bf3338 0.5px,#b82531 5.5px,#b1182b 8.5px,#810823 16.5px,#790622 19.5px,#b41c2d 27.5px,#d35a4a 38.5px,#d7634f 44.5px,#d55d4c 47.5px,#bb2a34 53.5px,#b1182b 55.5px,#7c0722 61.5px,#810823 62.5px,#b41c2d 65.5px,#dd7059 70.5px,#f6af8e 74.5px,#fcdfcf 78.5px,#f6f7f7 81.5px,#c7e0ed 85.5px,#4f9bc7 91.5px,#4291c2 92.5px,#2369ad 98.5px,#10457e 105.5px,#0c3d73 111.5px,#10457e 117.5px,#276eb0 125.5px,#4393c3 130.5px,#62a7ce 132.5px,#d1e5f0 138.5px,#f7f5f4 142.5px,#fcd7c2 146.5px,#eb9172 151.5px,#cc4c44 155.5px,#b3192c 158.5px,#810823 161.5px,#b41c2d 165.5px,#dd7059 173.5px,#e58368 176.5px,#e6866a 181.5px,#e37e64 185.5px,#c43b3c 196.5px,#ae172a 201.5px,#810823 206.5px,#7f0823 207.5px,#9f1228 213.5px,#b72230 218.5px,#bf3338 223.5px)"></div>
<div style="position:absolute;left:0;top:36.00px;width:224px;height:1.60px;background:linear-gradient(90deg,#bf3338 0.5px,#b82531 5.5px,#b1182b 8.5px,#810823 16.5px,#790622 18.5px,#930e26 22.5px,#b3192c 26.5px,#d6604d 38.5px,#da6853 43.5px,#d35a4a 48.5px,#b3192c 55.5px,#7c0722 61.5px,#810823 62.5px,#b41c2d 65.5px,#dd7059 70.5px,#f2a17f 73.5px,#fce0d0 78.5px,#f5f6f7 81.5px,#c5dfec 85.5px,#4c99c6 91.5px,#3b88be 93.5px,#1e61a5 99.5px,#0f437b 105.5px,#0a3b70 111.5px,#0d3f76 116.5px,#1a5899 122.5px,#246aae 125.5px,#4997c5 131.5px,#cce2ef 138.5px,#f7f6f6 142.5px,#fcd7c2 146.5px,#eb9172 151.5px,#cc4c44 155.5px,#b3192c 158.5px,#810823 161.5px,#b61f2e 166.5px,#da6853 173.5px,#e37e64 176.5px,#e48066 183.5px,#d6604d 190.5px,#b3192c 200.5px,#7f0823 206.5px,#8d0c25 210.5px,#b3192c 216.5px,#bf3338 223.5px)"></div>
<div style="position:absolute;left:0;top:37.00px;width:224px;height:1.60px;background:linear-gradient(90deg,#bf3338 0.5px,#b82531 5.5px,#b1182b 8.5px,#810823 16.5px,#790622 18.5px,#b41c2d 26.5px,#d55d4c 36.5px,#dc6e57 42.5px,#d86551 47.5px,#ae172a 56.5px,#7f0823 61.5px,#810823 62.5px,#b41c2d 65.5px,#dd7059 70.5px,#f6b191 74.5px,#fce2d2 78.5px,#f5f6f7 81.5px,#d4e6f1 84.5px,#87beda 88.5px,#4c99c6 91.5px,#3b88be 93.5px,#2267ac 98.5px,#124984 103.5px,#0a3b70 108.5px,#0a3b70 115.5px,#175290 121.5px,#2870b1 126.5px,#4393c3 131.5px,#c7e0ed 138.5px,#ecf2f5 141.5px,#f6f7f7 142.5px,#fdd9c4 146.5px,#ec9374 151.5px,#ce4f45 155.5px,#b3192c 158.5px,#810823 161.5px,#b3192c 166.5px,#da6853 174.5px,#e17860 177.5px,#e27b62 182.5px,#dd7059 186.5px,#bf3338 196.5px,#b1182b 200.5px,#7c0722 206.5px,#9f1228 213.5px,#b61f2e 217.5px,#be3036 222.5px,#bf3338 223.5px)"></div>
<div style="position:absolute;left:0;top:38.00px;width:224px;height:1.60px;background:linear-gradient(90deg,#bf3338 0.5px,#b82531 5.5px,#a81529 9.5px,#7c0722 17.5px,#7c0722 18.5px,#b41c2d 25.5px,#d6604d 36.5px,#dd7059 40.5px,#dd7059 44.5px,#db6b55 47.5px,#b1182b 56.5px,#810823 61.5px,#810823 62.5px,#b41c2d 65.5px,#dd7059 70.5px,#f6b191 74.5px,#fce2d2 78.5px,#f5f6f7 81.5px,#c5dfec 85.5px,#4c99c6 91.5px,#3b88be 93.5px,#2267ac 98.5px,#124984 103.5px,#09386d 109.5px,#09386d 114.5px,#10457e 119.5px,#2267ac 125.5px,#4291c2 131.5px,#75b2d4 134.5px,#c5dfec 138.5px,#e0ecf3 140.5px,#f5f6f7 142.5px,#fdd9c4 146.5px,#ec9374 151.5px,#ce4f45 155.5px,#b41c2d 158.5px,#7f0823 161.5px,#a21328 165.5px,#b41c2d 167.5px,#db6b55 175.5px,#e17860 181.5px,#db6b55 186.5px,#b3192c 199.5px,#7c0722 206.5px,#a21328 213.5px,#b61f2e 217.5px,#bf3338 222.5px,#bf3338 223.5px)"></div>
</div>
<div style="position:absolute;left:33px;top:59.8px;width:224px;height:38.5px;overflow:hidden;">
<div style="position:absolute;left:0;top:0.00px;width:224px;height:1.59px;background:linear-gradient(90deg,#bf3338 0.5px,#b82531 5.5px,#a81529 9.5px,#840924 15.5px,#7c0722 17.5px,#b3192c 24.5px,#db6b55 37.5px,#e17860 42.5px,#db6b55 48.5px,#ae172a 57.5px,#840924 61.5px,#7f0823 62.5px,#b41c2d 65.5px,#dd7059 70.5px,#f6b191 74.5px,#fce2d2 78.5px,#f5f6f7 81.5px,#d5e7f1 84.5px,#8ac0db 88.5px,#4f9bc7 91.5px,#4291c2 92.5px,#1e61a5 99.5px,#0f437b 105.5px,#08366a 111.5px,#0d3f76 117.5px,#1a5899 123.5px,#2267ac 125.5px,#408fc1 131.5px,#5fa5cd 133.5px,#c5dfec 138.5px,#f5f6f7 142.5px,#fdd9c4 146.5px,#ec9374 151.5px,#ce4f45 155.5px,#b41c2d 158.5px,#810823 161.5px,#810823 162.5px,#b1182b 167.5px,#db6b55 176.5px,#de735c 181.5px,#d86551 186.5px,#c84440 192.5px,#ae172a 199.5px,#7c0722 205.5px,#8a0b25 209.5px,#b61f2e 217.5px,#bf3338 222.5px,#bf3338 223.5px)"></div>
<div style="position:absolute;left:0;top:0.99px;width:224px;height:1.59px;background:linear-gradient(90deg,#bf3338 0.5px,#b82531 5.5px,#a81529 9.5px,#7f0823 16.5px,#7c0722 17.5px,#b1182b 23.5px,#db6b55 36.5px,#e27b62 40.5px,#e27b62 45.5px,#dd7059 48.5px,#c2383a 54.5px,#b3192c 57.5px,#810823 62.5px,#b3192c 65.5px,#dd7059 70.5px,#f6b191 74.5px,#fce2d2 78.5px,#f6f7f7 81.5px,#d7e8f1 84.5px,#68abd0 90.5px,#4393c3 92.5px,#1f63a8 99.5px,#114781 104.5px,#09386d 110.5px,#0d3f76 117.5px,#1a5899 123.5px,#2267ac 125.5px,#408fc1 131.5px,#5fa5cd 133.5px,#c2ddec 138.5px,#deebf2 140.5px,#f5f6f7 142.5px,#fdd9c4 146.5px,#ec9374 151.5px,#ce4f45 155.5px,#b41c2d 158.5px,#810823 161.5px,#7f0823 162.5px,#b41c2d 168.5px,#d86551 176.5px,#dc6e57 181.5px,#d55d4c 187.5px,#b1182b 198.5px,#790622 205.5px,#a81529 214.5px,#b3192c 216.5px,#be3036 221.5px,#bf3338 223.5px)"></div>
<div style="position:absolute;left:0;top:1.97px;width:224px;height:1.59px;background:linear-gradient(90deg,#bf3338 0.5px,#ae172a 8.5px,#7f0823 16.5px,#7f0823 17.5px,#b3192c 23.5px,#db6b55 35.5px,#e48066 40.5px,#e48066 45.5px,#e17860 48.5px,#c6413e 54.5px,#ae172a 58.5px,#810823 62.5px,#b3192c 65.5px,#dd7059 70.5px,#f2a17f 73.5px,#fce0d0 78.5px,#f7f6f6 81.5px,#cce2ef 85.5px,#6bacd1 90.5px,#4997c5 92.5px,#2065ab 99.5px,#124984 104.5px,#0c3d73 108.5px,#0c3d73 115.5px,#134c87 120.5px,#266caf 126.5px,#408fc1 131.5px,#4c99c6 132.5px,#c5dfec 138.5px,#f5f6f7 142.5px,#fcd7c2 146.5px,#eb9172 151.5px,#ce4f45 155.5px,#b41c2d 158.5px,#810823 161.5px,#7c0722 162.5px,#b3192c 168.5px,#d6604d 176.5px,#da6853 181.5px,#d25849 187.5px,#b3192c 197.5px,#7c0722 204.5px,#790622 205.5px,#a81529 214.5px,#b3192c 216.5px,#be3036 221.5px,#bf3338 223.5px)"></div>
<div style="position:absolute;left:0;top:2.96px;width:224px;height:1.59px;background:linear-gradient(90deg,#bf3338 0.5px,#b41c2d 6.5px,#870a24 14.5px,#7f0823 16.5px,#930e26 19.5px,#ae172a 22.5px,#ce4f45 30.5px,#e58368 39.5px,#e6866a 45.5px,#e48066 48.5px,#cb4942 54.5px,#ab162a 59.5px,#810823 62.5px,#b3192c 65.5px,#dc6e57 70.5px,#f6af8e 74.5px,#fcdfcf 78.5px,#f7f5f4 81.5px,#d1e5f0 85.5px,#62a7ce 91.5px,#4393c3 93.5px,#2369ad 99.5px,#10457e 106.5px,#0c3d73 112.5px,#10457e 118.5px,#276eb0 126.5px,#4291c2 131.5px,#65a9cf 133.5px,#c7e0ed 138.5px,#f6f7f7 142.5px,#fcd7c2 146.5px,#eb9172 151.5px,#ce4f45 155.5px,#b41c2d 158.5px,#810823 161.5px,#7c0722 162.5px,#b1182b 168.5px,#d55d4c 176.5px,#d7634f 181.5px,#cf5246 187.5px,#ae172a 197.5px,#790622 204.5px,#960f27 211.5px,#b3192c 216.5px,#be3036 221.5px,#bf3338 223.5px)"></div>
<div style="position:absolute;left:0;top:3.95px;width:224px;height:1.59px;background:linear-gradient(90deg,#bf3338 0.5px,#b41c2d 6.5px,#870a24 14.5px,#7f0823 16.5px,#b3192c 22.5px,#dc6e57 34.5px,#e8896c 40.5px,#e98b6e 45.5px,#e6866a 48.5px,#d55d4c 53.5px,#b1182b 59.5px,#870a24 62.5px,#8d0c25 63.5px,#b1182b 65.5px,#d35a4a 69.5px,#f5ac8b 74.5px,#fcdecd 78.5px,#f8f4f2 81.5px,#deebf2 84.5px,#b3d6e8 87.5px,#59a1ca 92.5px,#3f8ec0 94.5px,#1e61a5 101.5px,#15508d 104.5px,#0f437b 108.5px,#0d3f76 112.5px,#114781 118.5px,#246aae 125.5px,#4695c4 131.5px,#cae1ee 138.5px,#f7f6f6 142.5px,#fac8af 147.5px,#f19e7d 150.5px,#d55d4c 154.5px,#b41c2d 158.5px,#810823 161.5px,#7c0722 162.5px,#ae172a 168.5px,#cf5246 175.5px,#d6604d 180.5px,#cf5246 186.5px,#b1182b 196.5px,#790622 204.5px,#960f27 211.5px,#b61f2e 217.5px,#be3036 221.5px,#bf3338 223.5px)"></div>
<div style="position:absolute;left:0;top:4.94px;width:224px;height:1.59px;background:linear-gradient(90deg,#bf3338 0.5px,#b61f2e 5.5px,#810823 15.5px,#7f0823 16.5px,#b41c2d 22.5px,#d55d4c 31.5px,#e8896c 39.5px,#ec9374 44.5px,#e6866a 49.5px,#d86551 53.5px,#c2383a 57.5px,#b41c2d 59.5px,#8a0b25 62.5px,#8a0b25 63.5px,#ae172a 65.5px,#db6b55 70.5px,#f5aa89 74.5px,#fdddcb 78.5px,#f5f6f7 82.5px,#cae1ee 86.5px,#75b2d4 91.5px,#4393c3 94.5px,#2065ab 101.5px,#114781 108.5px,#0f437b 113.5px,#15508d 119.5px,#266caf 125.5px,#408fc1 130.5px,#6eaed2 133.5px,#cce2ef 138.5px,#f0f4f6 141.5px,#f8f4f2 142.5px,#fcd3bc 146.5px,#f09c7b 150.5px,#d55d4c 154.5px,#b3192c 158.5px,#7f0823 161.5px,#7c0722 162.5px,#ae172a 168.5px,#cf5246 175.5px,#d55d4c 180.5px,#cb4942 187.5px,#ae172a 196.5px,#7c0722 203.5px,#7f0823 206.5px,#b3192c 216.5px,#bd2d35 221.5px,#bf3338 223.5px)"></div>
<div style="position:absolute;left:0;top:5.92px;width:224px;height:1.59px;background:linear-gradient(90deg,#bf3338 0.5px,#ae172a 7.5px,#810823 15.5px,#810823 16.5px,#b61f2e 22.5px,#d6604d 31.5px,#e98b6e 39.5px,#ee9677 44.5px,#e98b6e 49.5px,#d7634f 54.5px,#b1182b 60.5px,#900d26 62.5px,#870a24 63.5px,#ab162a 65.5px,#d86551 70.5px,#f5a886 74.5px,#fddcc9 78.5px,#f7f6f6 82.5px,#d1e5f0 86.5px,#7eb8d7 91.5px,#4c99c6 94.5px,#307ab6 98.5px,#2065ab 102.5px,#15508d 107.5px,#114781 112.5px,#15508d 118.5px,#266caf 124.5px,#4393c3 130.5px,#d2e6f0 138.5px,#f3f5f6 141.5px,#fbe3d4 144.5px,#f7b596 148.5px,#da6853 153.5px,#b1182b 158.5px,#7c0722 161.5px,#810823 163.5px,#b61f2e 169.5px,#cb4942 174.5px,#d05548 177.5px,#d25849 181.5px,#cb4942 186.5px,#b3192c 195.5px,#790622 203.5px,#8a0b25 209.5px,#b61f2e 217.5px,#bf3338 223.5px)"></div>
<div style="position:absolute;left:0;top:6.91px;width:224px;height:1.59px;background:linear-gradient(90deg,#bf3338 0.5px,#ae172a 7.5px,#870a24 14.5px,#840924 16.5px,#b1182b 21.5px,#ce4f45 28.5px,#e58368 37.5px,#eb9172 40.5px,#ef9979 45.5px,#eb9172 49.5px,#d6604d 55.5px,#b41c2d 60.5px,#870a24 63.5px,#b61f2e 66.5px,#de735c 71.5px,#f6b394 75.5px,#fce0d0 79.5px,#f8f4f2 82.5px,#e0ecf3 85.5px,#cae1ee 87.5px,#59a1ca 94.5px,#408fc1 96.5px,#1e61a5 104.5px,#175290 108.5px,#144e8a 113.5px,#1a5899 119.5px,#2870b1 124.5px,#4291c2 129.5px,#5ca3cb 131.5px,#c7e0ed 137.5px,#f6f7f7 141.5px,#fdd9c4 145.5px,#ec9374 150.5px,#d05548 154.5px,#ae172a 158.5px,#790622 161.5px,#930e26 165.5px,#b1182b 168.5px,#cb4942 174.5px,#d25849 179.5px,#cc4c44 185.5px,#b1182b 195.5px,#790622 203.5px,#8a0b25 209.5px,#b61f2e 217.5px,#bf3338 223.5px)"></div>
<div style="position:absolute;left:0;top:7.90px;width:224px;height:1.59px;background:linear-gradient(90deg,#bf3338 0.5px,#ae172a 7.5px,#870a24 14.5px,#840924 16.5px,#b3192c 21.5px,#d55d4c 30.5px,#ea8e70 39.5px,#f09c7b 45.5px,#ea8e70 50.5px,#d86551 55.5px,#ae172a 61.5px,#900d26 63.5px,#900d26 64.5px,#b3192c 66.5px,#dc6e57 71.5px,#f6af8e 75.5px,#fcdecd 79.5px,#f6f7f7 83.5px,#d1e5f0 87.5px,#4997c5 96.5px,#307ab6 100.5px,#1d5fa2 106.5px,#185493 112.5px,#1d5fa2 119.5px,#307ab6 125.5px,#4997c5 129.5px,#a9d1e5 135.5px,#cfe4ef 137.5px,#f7f5f4 141.5px,#fcd5bf 145.5px,#eb9172 150.5px,#d6604d 153.5px,#b61f2e 157.5px,#790622 161.5px,#9f1228 166.5px,#b72230 169.5px,#cb4942 174.5px,#d25849 179.5px,#c6413e 187.5px,#b1182b 195.5px,#760521 203.5px,#900d26 210.5px,#b61f2e 217.5px,#bf3338 223.5px)"></div>
<div style="position:absolute;left:0;top:8.88px;width:224px;height:1.59px;background:linear-gradient(90deg,#bf3338 0.5px,#ae172a 7.5px,#840924 15.5px,#840924 16.5px,#b3192c 21.5px,#d6604d 30.5px,#ea8e70 39.5px,#f09c7b 46.5px,#eb9172 50.5px,#db6b55 55.5px,#bb2a34 60.5px,#b41c2d 61.5px,#960f27 63.5px,#8d0c25 64.5px,#ae172a 66.5px,#da6853 71.5px,#f5aa89 75.5px,#fddcc9 79.5px,#f7f5f4 83.5px,#cce2ef 88.5px,#81bad8 93.5px,#4695c4 97.5px,#266caf 104.5px,#1c5c9f 112.5px,#1f63a8 118.5px,#3a87bd 126.5px,#4695c4 128.5px,#84bcd9 132.5px,#d4e6f1 137.5px,#f3f5f6 140.5px,#fbe3d4 143.5px,#f7b596 147.5px,#e27b62 151.5px,#cc4c44 154.5px,#b3192c 157.5px,#810823 160.5px,#7c0722 161.5px,#991027 165.5px,#b41c2d 168.5px,#c84440 173.5px,#cf5246 176.5px,#d05548 180.5px,#c6413e 187.5px,#ae172a 195.5px,#760521 203.5px,#900d26 210.5px,#b61f2e 217.5px,#bf3338 223.5px)"></div>
<div style="position:absolute;left:0;top:9.87px;width:224px;height:1.59px;background:linear-gradient(90deg,#bf3338 0.5px,#ae172a 7.5px,#840924 15.5px,#840924 16.5px,#b3192c 21.5px,#d6604d 30.5px,#ea8e70 39.5px,#f09c7b 46.5px,#eb9172 50.5px,#db6b55 55.5px,#c53e3d 59.5px,#ae172a 62.5px,#8d0c25 64.5px,#960f27 65.5px,#b61f2e 67.5px,#de735c 72.5px,#f3a481 75.5px,#fdd9c4 79.5px,#f5f6f7 84.5px,#d2e6f0 88.5px,#7bb6d6 94.5px,#4393c3 98.5px,#266caf 106.5px,#1f63a8 112.5px,#2870b1 120.5px,#3e8cbf 126.5px,#6eaed2 130.5px,#cfe4ef 136.5px,#f7f6f6 140.5px,#facab1 145.5px,#ec9374 149.5px,#d05548 153.5px,#ae172a 157.5px,#7c0722 160.5px,#9f1228 165.5px,#b61f2e 168.5px,#c84440 173.5px,#d05548 177.5px,#d05548 180.5px,#c53e3d 188.5px,#b1182b 195.5px,#790622 203.5px,#870a24 208.5px,#b61f2e 217.5px,#bf3338 223.5px)"></div>
<div style="position:absolute;left:0;top:10.86px;width:224px;height:1.59px;background:linear-gradient(90deg,#bf3338 0.5px,#ae172a 7.5px,#8d0c25 13.5px,#840924 16.5px,#b3192c 21.5px,#d86551 31.5px,#ea8e70 39.5px,#f09c7b 46.5px,#e8896c 51.5px,#df765e 54.5px,#cc4c44 58.5px,#b3192c 62.5px,#960f27 64.5px,#900d26 65.5px,#b1182b 67.5px,#db6b55 72.5px,#f5ac8b 76.5px,#fdddcb 80.5px,#f7f5f4 84.5px,#cfe4ef 89.5px,#4393c3 99.5px,#2870b1 107.5px,#266caf 115.5px,#307ab6 121.5px,#4393c3 126.5px,#7bb6d6 130.5px,#d5e7f1 136.5px,#f3f5f6 139.5px,#fdddcb 143.5px,#f19e7d 148.5px,#ce4f45 153.5px,#b61f2e 156.5px,#840924 159.5px,#7f0823 160.5px,#a21328 165.5px,#b72230 168.5px,#cc4c44 174.5px,#d25849 180.5px,#c84440 187.5px,#ab162a 196.5px,#790622 203.5px,#870a24 208.5px,#b61f2e 217.5px,#bf3338 223.5px)"></div>
<div style="position:absolute;left:0;top:11.85px;width:224px;height:1.59px;background:linear-gradient(90deg,#bf3338 0.5px,#b61f2e 5.5px,#a51429 9.5px,#810823 16.5px,#b61f2e 22.5px,#d25849 29.5px,#ea8e70 39.5px,#ef9979 46.5px,#ea8e70 50.5px,#d7634f 56.5px,#b61f2e 62.5px,#900d26 65.5px,#991027 66.5px,#b72230 68.5px,#df765e 73.5px,#f4a683 76.5px,#fdd9c4 80.5px,#f5f6f7 85.5px,#c7e0ed 90.5px,#84bcd9 95.5px,#4393c3 100.5px,#2e77b5 107.5px,#2b73b3 115.5px,#3681ba 121.5px,#4695c4 125.5px,#87beda 130.5px,#d1e5f0 135.5px,#f7f6f6 139.5px,#fdd9c4 143.5px,#ee9677 148.5px,#c94741 153.5px,#b1182b 156.5px,#7f0823 159.5px,#960f27 163.5px,#b41c2d 167.5px,#ce4f45 174.5px,#d35a4a 179.5px,#ce4f45 185.5px,#b3192c 195.5px,#790622 203.5px,#8d0c25 209.5px,#b3192c 216.5px,#bd2d35 221.5px,#bf3338 223.5px)"></div>
<div style="position:absolute;left:0;top:12.83px;width:224px;height:1.59px;background:linear-gradient(90deg,#bf3338 0.5px,#b41c2d 6.5px,#810823 16.5px,#b41c2d 22.5px,#c94741 27.5px,#e58368 37.5px,#ee9677 44.5px,#ea8e70 49.5px,#d6604d 56.5px,#ae172a 63.5px,#960f27 65.5px,#930e26 66.5px,#b3192c 68.5px,#dc6e57 73.5px,#f6af8e 77.5px,#fcdecd 81.5px,#f7f5f4 85.5px,#cfe4ef 90.5px,#59a1ca 99.5px,#4393c3 101.5px,#307ab6 109.5px,#337eb8 118.5px,#4291c2 123.5px,#68abd0 127.5px,#cae1ee 134.5px,#f3f5f6 138.5px,#f9ebe3 140.5px,#fcd3bc 143.5px,#eb9172 148.5px,#ce4f45 152.5px,#b61f2e 155.5px,#870a24 158.5px,#810823 159.5px,#b61f2e 167.5px,#cc4c44 173.5px,#d55d4c 179.5px,#cf5246 185.5px,#ba2832 193.5px,#a81529 197.5px,#7c0722 203.5px,#8d0c25 209.5px,#b41c2d 216.5px,#be3036 221.5px,#bf3338 223.5px)"></div>
<div style="position:absolute;left:0;top:13.82px;width:224px;height:1.59px;background:linear-gradient(90deg,#bf3338 0.5px,#ae172a 8.5px,#900d26 13.5px,#810823 16.5px,#b3192c 22.5px,#c84440 27.5px,#e48066 37.5px,#ec9374 44.5px,#eb9172 47.5px,#db6b55 54.5px,#b72230 62.5px,#a51429 64.5px,#8d0c25 66.5px,#ae172a 68.5px,#da6853 73.5px,#f5aa89 77.5px,#fddbc7 81.5px,#f5f6f7 86.5px,#c7e0ed 91.5px,#4c99c6 101.5px,#3b88be 105.5px,#3480b9 113.5px,#3a87bd 119.5px,#4997c5 123.5px,#75b2d4 127.5px,#dbeaf2 135.5px,#f7f6f6 138.5px,#fddbc7 142.5px,#ef9979 147.5px,#cb4942 152.5px,#b3192c 155.5px,#810823 158.5px,#b41c2d 166.5px,#cf5246 174.5px,#d6604d 178.5px,#d55d4c 183.5px,#bf3338 192.5px,#ab162a 197.5px,#840924 202.5px,#7c0722 204.5px,#991027 211.5px,#b41c2d 216.5px,#be3036 221.5px,#bf3338 223.5px)"></div>
<div style="position:absolute;left:0;top:14.81px;width:224px;height:1.59px;background:linear-gradient(90deg,#bf3338 0.5px,#b82531 5.5px,#a81529 9.5px,#840924 16.5px,#840924 17.5px,#b61f2e 23.5px,#d05548 30.5px,#e6866a 39.5px,#ea8e70 46.5px,#de735c 52.5px,#b1182b 63.5px,#930e26 66.5px,#960f27 67.5px,#b61f2e 69.5px,#d7634f 73.5px,#f6b191 78.5px,#fcdfcf 82.5px,#f6f7f7 86.5px,#cce2ef 91.5px,#5fa5cd 100.5px,#4291c2 104.5px,#3783bb 112.5px,#3e8cbf 119.5px,#4393c3 121.5px,#71b0d3 126.5px,#cce2ef 133.5px,#f2f5f6 137.5px,#f8f4f2 138.5px,#fcd7c2 142.5px,#ec9374 147.5px,#cf5246 151.5px,#ab162a 155.5px,#870a24 157.5px,#960f27 161.5px,#b61f2e 166.5px,#d25849 174.5px,#d86551 179.5px,#d35a4a 185.5px,#b41c2d 196.5px,#7c0722 204.5px,#9f1228 212.5px,#b3192c 215.5px,#bf3338 222.5px,#bf3338 223.5px)"></div>
<div style="position:absolute;left:0;top:15.79px;width:224px;height:1.59px;background:linear-gradient(90deg,#bf3338 0.5px,#b82531 5.5px,#ab162a 9.5px,#8d0c25 14.5px,#810823 17.5px,#b41c2d 23.5px,#d55d4c 32.5px,#e6866a 40.5px,#e8896c 46.5px,#dc6e57 52.5px,#b1182b 63.5px,#930e26 66.5px,#900d26 67.5px,#b3192c 69.5px,#dc6e57 74.5px,#f6af8e 78.5px,#fdddcb 82.5px,#f7f5f4 86.5px,#c5dfec 92.5px,#5ca3cb 101.5px,#4291c2 105.5px,#3b88be 113.5px,#4695c4 120.5px,#5ca3cb 123.5px,#96c7df 128.5px,#dbeaf2 134.5px,#f5f6f7 137.5px,#fcd3bc 142.5px,#f19e7d 146.5px,#cc4c44 151.5px,#b41c2d 154.5px,#870a24 157.5px,#b41c2d 165.5px,#d35a4a 174.5px,#da6853 178.5px,#d7634f 184.5px,#c43b3c 192.5px,#ab162a 198.5px,#7c0722 204.5px,#9c1127 211.5px,#b41c2d 216.5px,#bf3338 222.5px,#bf3338 223.5px)"></div>
<div style="position:absolute;left:0;top:16.78px;width:224px;height:1.59px;background:linear-gradient(90deg,#bf3338 0.5px,#b72230 6.5px,#9f1228 11.5px,#810823 17.5px,#b1182b 23.5px,#cc4c44 30.5px,#e37e64 39.5px,#e6866a 46.5px,#d86551 52.5px,#ae172a 63.5px,#8d0c25 67.5px,#b1182b 69.5px,#da6853 74.5px,#f5aa89 78.5px,#fddcc9 82.5px,#f8f4f2 86.5px,#dae9f2 90.5px,#6bacd1 100.5px,#59a1ca 102.5px,#4393c3 105.5px,#3e8cbf 113.5px,#4695c4 119.5px,#59a1ca 122.5px,#81bad8 126.5px,#d5e7f1 133.5px,#f7f6f6 137.5px,#fddcc9 141.5px,#f09c7b 146.5px,#cb4942 151.5px,#b1182b 154.5px,#900d26 156.5px,#8a0b25 157.5px,#b41c2d 164.5px,#d86551 175.5px,#dc6e57 178.5px,#dc6e57 183.5px,#c94741 191.5px,#b1182b 198.5px,#8d0c25 202.5px,#7f0823 205.5px,#b3192c 215.5px,#c13639 223.5px)"></div>
<div style="position:absolute;left:0;top:17.77px;width:224px;height:1.59px;background:linear-gradient(90deg,#c13639 0.5px,#b1182b 8.5px,#810823 17.5px,#991027 21.5px,#b41c2d 24.5px,#d6604d 34.5px,#e37e64 40.5px,#e48066 46.5px,#d6604d 52.5px,#b1182b 62.5px,#8d0c25 67.5px,#ae172a 69.5px,#da6853 74.5px,#f7b596 79.5px,#fddbc7 82.5px,#f8f4f2 86.5px,#e1edf3 89.5px,#c7e0ed 92.5px,#81bad8 98.5px,#529dc8 103.5px,#4291c2 107.5px,#4291c2 116.5px,#529dc8 120.5px,#68abd0 123.5px,#d8e9f1 133.5px,#f7f5f4 137.5px,#fddbc7 141.5px,#ef9979 146.5px,#d25849 150.5px,#ae172a 154.5px,#8a0b25 156.5px,#b3192c 163.5px,#db6b55 175.5px,#de735c 178.5px,#de735c 183.5px,#cf5246 190.5px,#b41c2d 198.5px,#8a0b25 203.5px,#7f0823 205.5px,#b3192c 215.5px,#c13639 223.5px)"></div>
<div style="position:absolute;left:0;top:18.76px;width:224px;height:1.59px;background:linear-gradient(90deg,#c13639 0.5px,#b72230 6.5px,#a81529 10.5px,#8a0b25 15.5px,#810823 18.5px,#b1182b 24.5px,#d55d4c 34.5px,#e17860 41.5px,#df765e 47.5px,#cb4942 54.5px,#b3192c 61.5px,#8d0c25 67.5px,#ae172a 69.5px,#d86551 74.5px,#f5a886 78.5px,#fddbc7 82.5px,#f8f4f2 86.5px,#dae9f2 90.5px,#62a7ce 101.5px,#4393c3 106.5px,#408fc1 114.5px,#4695c4 118.5px,#75b2d4 124.5px,#dae9f2 133.5px,#f8f4f2 137.5px,#fddbc7 141.5px,#ef9979 146.5px,#d05548 150.5px,#ae172a 154.5px,#8d0c25 156.5px,#b3192c 162.5px,#dd7059 175.5px,#e17860 178.5px,#e17860 183.5px,#ce4f45 191.5px,#b1182b 199.5px,#810823 205.5px,#991027 211.5px,#b3192c 215.5px,#c13639 223.5px)"></div>
<div style="position:absolute;left:0;top:19.74px;width:224px;height:1.59px;background:linear-gradient(90deg,#c13639 0.5px,#ae172a 9.5px,#870a24 16.5px,#7f0823 18.5px,#a21328 23.5px,#b41c2d 25.5px,#d55d4c 35.5px,#de735c 41.5px,#de735c 46.5px,#cc4c44 53.5px,#b3192c 60.5px,#8a0b25 67.5px,#ae172a 69.5px,#da6853 74.5px,#f7b596 79.5px,#fddbc7 82.5px,#f7f5f4 86.5px,#c5dfec 92.5px,#7eb8d7 98.5px,#59a1ca 102.5px,#4393c3 106.5px,#408fc1 114.5px,#4695c4 118.5px,#6bacd1 123.5px,#dae9f2 133.5px,#f3f5f6 136.5px,#f9eee7 138.5px,#fddbc7 141.5px,#ef9979 146.5px,#c84440 151.5px,#ae172a 154.5px,#8d0c25 156.5px,#b1182b 161.5px,#d6604d 171.5px,#e48066 177.5px,#e37e64 183.5px,#c43b3c 195.5px,#ae172a 200.5px,#8a0b25 204.5px,#810823 206.5px,#b41c2d 216.5px,#c13639 223.5px)"></div>
<div style="position:absolute;left:0;top:20.73px;width:224px;height:1.59px;background:linear-gradient(90deg,#c13639 0.5px,#ae172a 9.5px,#870a24 16.5px,#7f0823 18.5px,#930e26 22.5px,#b1182b 25.5px,#d25849 35.5px,#dc6e57 41.5px,#dc6e57 46.5px,#c94741 53.5px,#ae172a 60.5px,#8a0b25 66.5px,#900d26 67.5px,#b1182b 69.5px,#db6b55 74.5px,#f5aa89 78.5px,#fddcc9 82.5px,#f7f6f6 86.5px,#c0dceb 92.5px,#78b4d5 98.5px,#529dc8 102.5px,#408fc1 106.5px,#408fc1 116.5px,#4997c5 119.5px,#6bacd1 123.5px,#dae9f2 133.5px,#f8f4f2 137.5px,#fddcc9 141.5px,#f09c7b 146.5px,#d25849 150.5px,#b1182b 154.5px,#8d0c25 156.5px,#b41c2d 161.5px,#d86551 171.5px,#e6866a 177.5px,#e37e64 184.5px,#c94741 194.5px,#b1182b 200.5px,#810823 206.5px,#b41c2d 216.5px,#bf3338 222.5px,#bf3338 223.5px)"></div>
<div style="position:absolute;left:0;top:21.72px;width:224px;height:1.59px;background:linear-gradient(90deg,#bf3338 0.5px,#b72230 6.5px,#a81529 10.5px,#870a24 16.5px,#7c0722 19.5px,#b3192c 26.5px,#cf5246 35.5px,#da6853 41.5px,#da6853 46.5px,#c6413e 53.5px,#b1182b 59.5px,#870a24 66.5px,#b41c2d 69.5px,#dc6e57 74.5px,#f5ac8b 78.5px,#fdddcb 82.5px,#f5f6f7 86.5px,#c7e0ed 91.5px,#71b0d3 98.5px,#4c99c6 102.5px,#3e8cbf 106.5px,#3e8cbf 115.5px,#4695c4 119.5px,#65a9cf 123.5px,#d1e5f0 132.5px,#f7f5f4 137.5px,#fcd3bc 142.5px,#f19e7d 146.5px,#cc4c44 151.5px,#b3192c 154.5px,#900d26 156.5px,#9c1127 158.5px,#b61f2e 161.5px,#de735c 172.5px,#e98b6e 178.5px,#e48066 184.5px,#d25849 192.5px,#ae172a 201.5px,#810823 206.5px,#a21328 213.5px,#b41c2d 216.5px,#bf3338 222.5px,#bf3338 223.5px)"></div>
<div style="position:absolute;left:0;top:22.71px;width:224px;height:1.59px;background:linear-gradient(90deg,#bf3338 0.5px,#b72230 6.5px,#a81529 10.5px,#810823 17.5px,#7c0722 19.5px,#9f1228 24.5px,#b72230 28.5px,#d35a4a 38.5px,#d86551 45.5px,#cc4c44 51.5px,#b3192c 58.5px,#870a24 65.5px,#870a24 66.5px,#ab162a 68.5px,#d7634f 73.5px,#f6b191 78.5px,#fcdfcf 82.5px,#f8f4f2 85.5px,#e0ecf3 88.5px,#81bad8 96.5px,#68abd0 98.5px,#4393c3 102.5px,#3a87bd 107.5px,#3a87bd 115.5px,#4695c4 120.5px,#6bacd1 124.5px,#d7e8f1 133.5px,#f6f7f7 137.5px,#fcd7c2 142.5px,#ec9374 147.5px,#ce4f45 151.5px,#b61f2e 154.5px,#960f27 156.5px,#930e26 157.5px,#b1182b 160.5px,#de735c 171.5px,#ea8e70 177.5px,#e6866a 184.5px,#ce4f45 194.5px,#b1182b 201.5px,#840924 206.5px,#900d26 210.5px,#b61f2e 217.5px,#be3036 222.5px,#bf3338 223.5px)"></div>
<div style="position:absolute;left:0;top:23.69px;width:224px;height:1.59px;background:linear-gradient(90deg,#bf3338 0.5px,#b72230 6.5px,#9f1228 11.5px,#7f0823 18.5px,#7f0823 20.5px,#a21328 25.5px,#b61f2e 28.5px,#cf5246 37.5px,#d6604d 42.5px,#d6604d 46.5px,#c6413e 52.5px,#ae172a 58.5px,#810823 65.5px,#b3192c 68.5px,#db6b55 73.5px,#f7b596 78.5px,#fddbc7 81.5px,#f7f6f6 85.5px,#c5dfec 90.5px,#529dc8 99.5px,#3f8ec0 102.5px,#3681ba 107.5px,#3681ba 115.5px,#4695c4 121.5px,#6eaed2 125.5px,#d4e6f1 133.5px,#f5f6f7 137.5px,#fddbc7 142.5px,#f5aa89 146.5px,#d25849 151.5px,#ae172a 155.5px,#8d0c25 157.5px,#b1182b 160.5px,#d7634f 168.5px,#e8896c 174.5px,#ec9374 178.5px,#e8896c 184.5px,#cf5246 194.5px,#b82531 200.5px,#ab162a 202.5px,#810823 207.5px,#a51429 214.5px,#b41c2d 217.5px,#bf3338 223.5px)"></div>
<div style="position:absolute;left:0;top:24.68px;width:224px;height:1.59px;background:linear-gradient(90deg,#bf3338 0.5px,#b82531 5.5px,#a51429 10.5px,#810823 17.5px,#7c0722 20.5px,#b41c2d 28.5px,#cb4942 36.5px,#d55d4c 43.5px,#d05548 48.5px,#be3036 54.5px,#ab162a 58.5px,#810823 64.5px,#870a24 65.5px,#b61f2e 68.5px,#dd7059 73.5px,#f6af8e 77.5px,#fbe5d8 82.5px,#f8f3f0 84.5px,#e9f0f4 86.5px,#aed3e6 91.5px,#5ca3cb 97.5px,#3e8cbf 101.5px,#307ab6 107.5px,#327cb7 115.5px,#4393c3 122.5px,#b3d6e8 131.5px,#d8e9f1 134.5px,#f7f5f4 138.5px,#fcd5bf 143.5px,#eb9172 148.5px,#cc4c44 152.5px,#b3192c 155.5px,#930e26 157.5px,#960f27 158.5px,#ae172a 160.5px,#d6604d 167.5px,#ea8e70 174.5px,#ee9677 179.5px,#e58368 186.5px,#c94741 196.5px,#ae172a 202.5px,#810823 207.5px,#b41c2d 217.5px,#bf3338 223.5px)"></div>
<div style="position:absolute;left:0;top:25.67px;width:224px;height:1.59px;background:linear-gradient(90deg,#bf3338 0.5px,#b82531 5.5px,#ab162a 9.5px,#840924 16.5px,#790622 20.5px,#b61f2e 29.5px,#cf5246 39.5px,#d35a4a 45.5px,#cb4942 50.5px,#ae172a 57.5px,#870a24 62.5px,#7f0823 64.5px,#b1182b 67.5px,#df765e 73.5px,#f6b394 77.5px,#fce0d0 81.5px,#f7f6f6 84.5px,#d1e5f0 88.5px,#5fa5cd 96.5px,#4695c4 98.5px,#2e77b5 105.5px,#2b73b3 113.5px,#3783bb 120.5px,#4393c3 123.5px,#acd2e5 131.5px,#d4e6f1 134.5px,#f5f6f7 138.5px,#fdd9c4 143.5px,#f4a683 147.5px,#d05548 152.5px,#ab162a 156.5px,#991027 157.5px,#900d26 158.5px,#b61f2e 161.5px,#d7634f 167.5px,#ea8e70 173.5px,#ef9979 179.5px,#e8896c 185.5px,#d25849 194.5px,#b1182b 202.5px,#810823 207.5px,#b3192c 217.5px,#be3036 222.5px,#bf3338 223.5px)"></div>
<div style="position:absolute;left:0;top:26.65px;width:224px;height:1.59px;background:linear-gradient(90deg,#bf3338 0.5px,#b61f2e 6.5px,#870a24 15.5px,#790622 20.5px,#b41c2d 29.5px,#c84440 36.5px,#d25849 43.5px,#cc4c44 49.5px,#b3192c 56.5px,#840924 62.5px,#7f0823 63.5px,#840924 64.5px,#b61f2e 67.5px,#dc6e57 72.5px,#f5ac8b 76.5px,#fdddcb 80.5px,#f3f5f6 84.5px,#c7e0ed 88.5px,#7bb6d6 93.5px,#4393c3 97.5px,#2870b1 105.5px,#266caf 113.5px,#307ab6 119.5px,#4393c3 124.5px,#cfe4ef 134.5px,#f7f5f4 139.5px,#fcd3bc 144.5px,#f19e7d 148.5px,#d35a4a 152.5px,#b1182b 156.5px,#900d26 158.5px,#960f27 159.5px,#b3192c 161.5px,#d7634f 167.5px,#e58368 171.5px,#ef9979 176.5px,#ee9677 181.5px,#e48066 187.5px,#cb4942 196.5px,#b3192c 202.5px,#840924 207.5px,#9c1127 213.5px,#b61f2e 218.5px,#bf3338 223.5px)"></div>
<div style="position:absolute;left:0;top:27.64px;width:224px;height:1.59px;background:linear-gradient(90deg,#bf3338 0.5px,#ae172a 8.5px,#7f0823 17.5px,#790622 20.5px,#b41c2d 29.5px,#cb4942 38.5px,#d25849 44.5px,#cb4942 49.5px,#ba2832 54.5px,#a81529 57.5px,#810823 62.5px,#7c0722 63.5px,#ae172a 66.5px,#d86551 71.5px,#f6b191 76.5px,#fcdfcf 80.5px,#f7f6f6 83.5px,#cfe4ef 87.5px,#6eaed2 93.5px,#3e8cbf 97.5px,#2369ad 105.5px,#2065ab 113.5px,#2e77b5 120.5px,#4393c3 125.5px,#7bb6d6 129.5px,#d2e6f0 135.5px,#f5f6f7 139.5px,#fdd9c4 144.5px,#ec9374 149.5px,#cf5246 153.5px,#b61f2e 156.5px,#960f27 158.5px,#8d0c25 159.5px,#ae172a 161.5px,#d7634f 167.5px,#e98b6e 172.5px,#ee9677 175.5px,#f09c7b 179.5px,#e6866a 186.5px,#cf5246 195.5px,#ab162a 203.5px,#840924 207.5px,#900d26 211.5px,#b61f2e 218.5px,#bf3338 223.5px)"></div>
<div style="position:absolute;left:0;top:28.63px;width:224px;height:1.59px;background:linear-gradient(90deg,#bf3338 0.5px,#ae172a 8.5px,#7f0823 17.5px,#760521 20.5px,#b41c2d 29.5px,#cb4942 38.5px,#d25849 44.5px,#cb4942 49.5px,#b82531 54.5px,#a51429 57.5px,#810823 61.5px,#7c0722 62.5px,#810823 63.5px,#b3192c 66.5px,#db6b55 71.5px,#f5a886 75.5px,#fddbc7 79.5px,#f8f2ef 82.5px,#f3f5f6 83.5px,#c5dfec 87.5px,#71b0d3 92.5px,#4695c4 95.5px,#246aae 103.5px,#1c5c9f 110.5px,#1f63a8 116.5px,#307ab6 122.5px,#4695c4 126.5px,#81bad8 130.5px,#d7e8f1 136.5px,#f7f5f4 140.5px,#fddcc9 144.5px,#f09c7b 149.5px,#d25849 153.5px,#ae172a 157.5px,#8d0c25 159.5px,#a51429 161.5px,#b41c2d 162.5px,#d6604d 167.5px,#e58368 171.5px,#ee9677 174.5px,#f09c7b 179.5px,#e6866a 186.5px,#cf5246 195.5px,#ab162a 203.5px,#840924 207.5px,#900d26 211.5px,#b61f2e 218.5px,#bf3338 223.5px)"></div>
<div style="position:absolute;left:0;top:29.62px;width:224px;height:1.59px;background:linear-gradient(90deg,#bf3338 0.5px,#ae172a 8.5px,#7f0823 17.5px,#760521 20.5px,#b41c2d 29.5px,#cb4942 38.5px,#d25849 44.5px,#cb4942 49.5px,#b72230 54.5px,#9f1228 57.5px,#790622 62.5px,#b61f2e 66.5px,#dd7059 71.5px,#f6af8e 75.5px,#fcdecd 79.5px,#f7f5f4 82.5px,#cfe4ef 86.5px,#569fc9 93.5px,#3a87bd 96.5px,#1f63a8 103.5px,#1b5a9c 106.5px,#185493 112.5px,#1d5fa2 117.5px,#307ab6 123.5px,#4997c5 127.5px,#d1e5f0 136.5px,#f6f7f7 140.5px,#fcd5bf 145.5px,#eb9172 150.5px,#cc4c44 154.5px,#b3192c 157.5px,#900d26 159.5px,#900d26 160.5px,#ae172a 162.5px,#d86551 168.5px,#ea8e70 173.5px,#f09c7b 178.5px,#e6866a 186.5px,#cb4942 196.5px,#ab162a 203.5px,#840924 207.5px,#900d26 211.5px,#b61f2e 218.5px,#bf3338 223.5px)"></div>
<div style="position:absolute;left:0;top:30.60px;width:224px;height:1.59px;background:linear-gradient(90deg,#bf3338 0.5px,#ae172a 8.5px,#7f0823 17.5px,#790622 20.5px,#b41c2d 29.5px,#ce4f45 39.5px,#d25849 44.5px,#cb4942 49.5px,#b1182b 55.5px,#840924 60.5px,#790622 62.5px,#ae172a 65.5px,#d86551 70.5px,#f6b191 75.5px,#fdd9c4 78.5px,#f6f7f7 82.5px,#c7e0ed 86.5px,#4c99c6 93.5px,#307ab6 97.5px,#1c5c9f 103.5px,#185493 106.5px,#144e8a 112.5px,#1a5899 117.5px,#2870b1 122.5px,#4997c5 128.5px,#b8d8e9 135.5px,#d5e7f1 137.5px,#f2f5f6 140.5px,#f9eee7 142.5px,#fdd9c4 145.5px,#f4a683 149.5px,#cf5246 154.5px,#b61f2e 157.5px,#870a24 160.5px,#b41c2d 163.5px,#d6604d 168.5px,#eb9172 174.5px,#ef9979 179.5px,#e8896c 185.5px,#d55d4c 193.5px,#b72230 201.5px,#a81529 203.5px,#840924 207.5px,#900d26 211.5px,#b61f2e 218.5px,#bf3338 223.5px)"></div>
<div style="position:absolute;left:0;top:31.59px;width:224px;height:1.59px;background:linear-gradient(90deg,#bf3338 0.5px,#b61f2e 6.5px,#810823 16.5px,#790622 20.5px,#b61f2e 29.5px,#cf5246 39.5px,#d25849 44.5px,#ce4f45 48.5px,#bb2a34 53.5px,#b1182b 55.5px,#7c0722 61.5px,#7c0722 62.5px,#b1182b 65.5px,#e17860 71.5px,#f7b596 75.5px,#fbe3d4 79.5px,#f3f5f6 82.5px,#d2e6f0 85.5px,#4393c3 93.5px,#266caf 99.5px,#144e8a 106.5px,#114781 112.5px,#195696 118.5px,#246aae 122.5px,#4291c2 128.5px,#6bacd1 131.5px,#c2ddec 136.5px,#eff3f5 140.5px,#f7f6f6 141.5px,#fddcc9 145.5px,#ef9979 150.5px,#d05548 154.5px,#ab162a 158.5px,#870a24 160.5px,#900d26 161.5px,#b1182b 163.5px,#d7634f 169.5px,#e98b6e 174.5px,#ee9677 179.5px,#e58368 186.5px,#c53e3d 197.5px,#b1182b 202.5px,#810823 207.5px,#900d26 211.5px,#b61f2e 218.5px,#bf3338 223.5px)"></div>
<div style="position:absolute;left:0;top:32.58px;width:224px;height:1.59px;background:linear-gradient(90deg,#bf3338 0.5px,#b82531 5.5px,#a81529 9.5px,#7f0823 17.5px,#7c0722 20.5px,#b3192c 28.5px,#cf5246 38.5px,#d55d4c 43.5px,#cf5246 48.5px,#ae172a 55.5px,#7c0722 61.5px,#7f0823 62.5px,#b3192c 65.5px,#db6b55 70.5px,#f5aa89 74.5px,#fdddcb 78.5px,#f8f4f2 81.5px,#dae9f2 84.5px,#a7d0e4 87.5px,#4c99c6 92.5px,#3480b9 95.5px,#1f63a8 100.5px,#124984 106.5px,#0f437b 112.5px,#144e8a 117.5px,#246aae 123.5px,#4393c3 129.5px,#b8d8e9 136.5px,#e1edf3 139.5px,#f5f6f7 141.5px,#fdddcb 145.5px,#f09c7b 150.5px,#c94741 155.5px,#ae172a 158.5px,#8a0b25 160.5px,#8a0b25 161.5px,#b41c2d 164.5px,#d35a4a 169.5px,#df765e 172.5px,#e98b6e 175.5px,#eb9172 180.5px,#e48066 186.5px,#c43b3c 197.5px,#ae172a 202.5px,#7f0823 207.5px,#b3192c 217.5px,#be3036 222.5px,#bf3338 223.5px)"></div>
<div style="position:absolute;left:0;top:33.56px;width:224px;height:1.59px;background:linear-gradient(90deg,#bf3338 0.5px,#b82531 5.5px,#a81529 9.5px,#7f0823 17.5px,#790622 19.5px,#b1182b 27.5px,#d35a4a 39.5px,#d55d4c 45.5px,#cc4c44 49.5px,#ae172a 55.5px,#7c0722 61.5px,#810823 62.5px,#b41c2d 65.5px,#dc6e57 70.5px,#f5ac8b 74.5px,#fcdecd 78.5px,#f7f6f6 81.5px,#cae1ee 85.5px,#4695c4 92.5px,#246aae 98.5px,#114781 105.5px,#0d3f76 112.5px,#124984 117.5px,#1b5a9c 121.5px,#266caf 124.5px,#3f8ec0 129.5px,#68abd0 132.5px,#b3d6e8 136.5px,#deebf2 139.5px,#f8f4f2 142.5px,#fcd5bf 146.5px,#f19e7d 150.5px,#cb4942 155.5px,#b1182b 158.5px,#8d0c25 160.5px,#870a24 161.5px,#b1182b 164.5px,#dd7059 172.5px,#e8896c 176.5px,#e98b6e 181.5px,#e37e64 186.5px,#c2383a 197.5px,#ab162a 202.5px,#7f0823 207.5px,#9c1127 213.5px,#b41c2d 217.5px,#bf3338 223.5px)"></div>
<div style="position:absolute;left:0;top:34.55px;width:224px;height:1.59px;background:linear-gradient(90deg,#bf3338 0.5px,#b82531 5.5px,#b1182b 8.5px,#810823 16.5px,#790622 19.5px,#b41c2d 27.5px,#d35a4a 38.5px,#d7634f 44.5px,#d55d4c 47.5px,#bb2a34 53.5px,#b1182b 55.5px,#7c0722 61.5px,#810823 62.5px,#b41c2d 65.5px,#dd7059 70.5px,#f6af8e 74.5px,#fcdfcf 78.5px,#f6f7f7 81.5px,#c7e0ed 85.5px,#4f9bc7 91.5px,#4291c2 92.5px,#2369ad 98.5px,#10457e 105.5px,#0c3d73 111.5px,#10457e 117.5px,#276eb0 125.5px,#4393c3 130.5px,#62a7ce 132.5px,#d1e5f0 138.5px,#f7f5f4 142.5px,#fcd7c2 146.5px,#eb9172 151.5px,#cc4c44 155.5px,#b3192c 158.5px,#810823 161.5px,#b41c2d 165.5px,#dd7059 173.5px,#e58368 176.5px,#e6866a 181.5px,#e37e64 185.5px,#c43b3c 196.5px,#ae172a 201.5px,#810823 206.5px,#7f0823 207.5px,#9f1228 213.5px,#b72230 218.5px,#bf3338 223.5px)"></div>
<div style="position:absolute;left:0;top:35.54px;width:224px;height:1.59px;background:linear-gradient(90deg,#bf3338 0.5px,#b82531 5.5px,#b1182b 8.5px,#810823 16.5px,#790622 18.5px,#930e26 22.5px,#b3192c 26.5px,#d6604d 38.5px,#da6853 43.5px,#d35a4a 48.5px,#b3192c 55.5px,#7c0722 61.5px,#810823 62.5px,#b41c2d 65.5px,#dd7059 70.5px,#f2a17f 73.5px,#fce0d0 78.5px,#f5f6f7 81.5px,#c5dfec 85.5px,#4c99c6 91.5px,#3b88be 93.5px,#1e61a5 99.5px,#0f437b 105.5px,#0a3b70 111.5px,#0d3f76 116.5px,#1a5899 122.5px,#246aae 125.5px,#4997c5 131.5px,#cce2ef 138.5px,#f7f6f6 142.5px,#fcd7c2 146.5px,#eb9172 151.5px,#cc4c44 155.5px,#b3192c 158.5px,#810823 161.5px,#b61f2e 166.5px,#da6853 173.5px,#e37e64 176.5px,#e48066 183.5px,#d6604d 190.5px,#b3192c 200.5px,#7f0823 206.5px,#8d0c25 210.5px,#b3192c 216.5px,#bf3338 223.5px)"></div>
<div style="position:absolute;left:0;top:36.53px;width:224px;height:1.59px;background:linear-gradient(90deg,#bf3338 0.5px,#b82531 5.5px,#b1182b 8.5px,#810823 16.5px,#790622 18.5px,#b41c2d 26.5px,#d55d4c 36.5px,#dc6e57 42.5px,#d86551 47.5px,#ae172a 56.5px,#7f0823 61.5px,#810823 62.5px,#b41c2d 65.5px,#dd7059 70.5px,#f6b191 74.5px,#fce2d2 78.5px,#f5f6f7 81.5px,#d4e6f1 84.5px,#87beda 88.5px,#4c99c6 91.5px,#3b88be 93.5px,#2267ac 98.5px,#124984 103.5px,#0a3b70 108.5px,#0a3b70 115.5px,#175290 121.5px,#2870b1 126.5px,#4393c3 131.5px,#c7e0ed 138.5px,#ecf2f5 141.5px,#f6f7f7 142.5px,#fdd9c4 146.5px,#ec9374 151.5px,#ce4f45 155.5px,#b3192c 158.5px,#810823 161.5px,#b3192c 166.5px,#da6853 174.5px,#e17860 177.5px,#e27b62 182.5px,#dd7059 186.5px,#bf3338 196.5px,#b1182b 200.5px,#7c0722 206.5px,#9f1228 213.5px,#b61f2e 217.5px,#be3036 222.5px,#bf3338 223.5px)"></div>
<div style="position:absolute;left:0;top:37.51px;width:224px;height:1.59px;background:linear-gradient(90deg,#bf3338 0.5px,#b82531 5.5px,#a81529 9.5px,#7c0722 17.5px,#7c0722 18.5px,#b41c2d 25.5px,#d6604d 36.5px,#dd7059 40.5px,#dd7059 44.5px,#db6b55 47.5px,#b1182b 56.5px,#810823 61.5px,#810823 62.5px,#b41c2d 65.5px,#dd7059 70.5px,#f6b191 74.5px,#fce2d2 78.5px,#f5f6f7 81.5px,#c5dfec 85.5px,#4c99c6 91.5px,#3b88be 93.5px,#2267ac 98.5px,#124984 103.5px,#09386d 109.5px,#09386d 114.5px,#10457e 119.5px,#2267ac 125.5px,#4291c2 131.5px,#75b2d4 134.5px,#c5dfec 138.5px,#e0ecf3 140.5px,#f5f6f7 142.5px,#fdd9c4 146.5px,#ec9374 151.5px,#ce4f45 155.5px,#b41c2d 158.5px,#7f0823 161.5px,#a21328 165.5px,#b41c2d 167.5px,#db6b55 175.5px,#e17860 181.5px,#db6b55 186.5px,#b3192c 199.5px,#7c0722 206.5px,#a21328 213.5px,#b61f2e 217.5px,#bf3338 222.5px,#bf3338 223.5px)"></div>
</div>
<div class="frame" style="left:33px;top:1px;width:224px;height:39px;border-color:rgba(40,40,40,0.3)"></div>
<div class="frame" style="left:33px;top:59.8px;width:224px;height:38.5px;border-color:rgba(40,40,40,0.3)"></div>
<div style="position:absolute;left:33px;top:132.5px;width:224px;height:98px;overflow:hidden;">
<div style="position:absolute;left:0;top:0.00px;width:224px;height:1.60px;background:linear-gradient(90deg,#f2f5f6 0.5px,#eaf1f5 15.5px,#e6eff4 16.5px,#d2e6f0 17.5px,#f3f5f6 18.5px,#f9f0eb 19.5px,#f8f1ed 21.5px,#f7f6f6 33.5px,#f0f4f6 58.5px,#edf2f5 60.5px,#e0ecf3 61.5px,#bddbea 62.5px,#f6f7f7 63.5px,#f9ede5 64.5px,#f7f5f4 76.5px,#f3f5f6 148.5px,#ecf2f5 158.5px,#e6eff4 159.5px,#d2e6f0 160.5px,#f3f5f6 161.5px,#f8f1ed 162.5px,#f7f6f6 182.5px,#f0f4f6 198.5px,#eaf1f5 202.5px,#f9f0eb 203.5px,#f7f5f4 223.5px)"></div>
<div style="position:absolute;left:0;top:1.00px;width:224px;height:1.60px;background:linear-gradient(90deg,#f2f5f6 0.5px,#eaf1f5 15.5px,#e1edf3 16.5px,#b1d5e7 17.5px,#deebf2 18.5px,#f8f3f0 19.5px,#f9efe9 20.5px,#f7f5f4 27.5px,#f2f5f6 57.5px,#edf2f5 60.5px,#d5e7f1 61.5px,#87beda 62.5px,#e6eff4 63.5px,#f9eee7 64.5px,#f9f0eb 68.5px,#f7f5f4 78.5px,#f3f5f6 148.5px,#ecf2f5 158.5px,#e1edf3 159.5px,#b8d8e9 160.5px,#e7f0f4 161.5px,#f8f2ef 162.5px,#f8f1ed 164.5px,#f7f6f6 180.5px,#f0f4f6 198.5px,#ecf2f5 202.5px,#f9eee7 203.5px,#f8f3f0 211.5px,#f7f5f4 223.5px)"></div>
<div style="position:absolute;left:0;top:2.00px;width:224px;height:1.60px;background:linear-gradient(90deg,#f2f5f6 0.5px,#ecf2f5 14.5px,#e9f0f4 15.5px,#d8e9f1 16.5px,#7bb6d6 17.5px,#b3d6e8 18.5px,#f5f6f7 19.5px,#f9f0eb 20.5px,#f7f6f6 32.5px,#f0f4f6 59.5px,#edf2f5 60.5px,#d2e6f0 61.5px,#78b4d5 62.5px,#e4eef4 63.5px,#f9eee7 64.5px,#f9f0eb 68.5px,#f7f5f4 79.5px,#f3f5f6 148.5px,#ecf2f5 158.5px,#e0ecf3 159.5px,#b1d5e7 160.5px,#e4eef4 161.5px,#f8f2ef 162.5px,#f8f1ed 164.5px,#f7f6f6 180.5px,#f0f4f6 198.5px,#eff3f5 201.5px,#f7f5f4 202.5px,#fcd7c2 203.5px,#fdddcb 204.5px,#fae9df 205.5px,#f9f0eb 206.5px,#f8f3f0 213.5px,#f7f5f4 223.5px)"></div>
<div style="position:absolute;left:0;top:3.00px;width:224px;height:1.60px;background:linear-gradient(90deg,#f2f5f6 0.5px,#ecf2f5 14.5px,#e9f0f4 15.5px,#d2e6f0 16.5px,#4695c4 17.5px,#87beda 18.5px,#edf2f5 19.5px,#f9f0eb 20.5px,#f7f6f6 32.5px,#f0f4f6 59.5px,#edf2f5 60.5px,#d2e6f0 61.5px,#78b4d5 62.5px,#e4eef4 63.5px,#f9eee7 64.5px,#f9f0eb 68.5px,#f7f6f6 82.5px,#f3f5f6 148.5px,#ecf2f5 158.5px,#e0ecf3 159.5px,#b3d6e8 160.5px,#e4eef4 161.5px,#f8f2ef 162.5px,#f8f1ed 164.5px,#f7f6f6 180.5px,#f0f4f6 198.5px,#eff3f5 200.5px,#f8f3f0 201.5px,#f9c4a9 202.5px,#be3036 203.5px,#d05548 204.5px,#fac8af 205.5px,#f9ebe3 206.5px,#f8f1ed 207.5px,#f7f5f4 223.5px)"></div>
<div style="position:absolute;left:0;top:4.00px;width:224px;height:1.60px;background:linear-gradient(90deg,#f2f5f6 0.5px,#ecf2f5 14.5px,#e9f0f4 15.5px,#d4e6f1 16.5px,#569fc9 17.5px,#98c8e0 18.5px,#f0f4f6 19.5px,#f9f0eb 20.5px,#f7f6f6 32.5px,#f0f4f6 59.5px,#edf2f5 60.5px,#d4e6f1 61.5px,#7eb8d7 62.5px,#e4eef4 63.5px,#f9ede5 64.5px,#f7f5f4 78.5px,#f3f5f6 148.5px,#ecf2f5 158.5px,#e0ecf3 159.5px,#b3d6e8 160.5px,#e0ecf3 161.5px,#f8f4f2 162.5px,#f9f0eb 163.5px,#f7f5f4 175.5px,#f2f5f6 196.5px,#eff3f5 200.5px,#f9eee7 201.5px,#e98b6e 202.5px,#67001f 203.5px,#810823 204.5px,#f5a886 205.5px,#fae9df 206.5px,#f8f1ed 207.5px,#f7f5f4 223.5px)"></div>
<div style="position:absolute;left:0;top:5.00px;width:224px;height:1.60px;background:linear-gradient(90deg,#f2f5f6 0.5px,#ecf2f5 14.5px,#e9f0f4 15.5px,#ddebf2 16.5px,#9bc9e0 17.5px,#cfe4ef 18.5px,#f7f5f4 19.5px,#f9f0eb 20.5px,#f7f6f6 32.5px,#f0f4f6 59.5px,#edf2f5 60.5px,#dae9f2 61.5px,#9dcbe1 62.5px,#ecf2f5 63.5px,#f9efe9 64.5px,#f9eee7 66.5px,#f8f4f2 75.5px,#f6f7f7 116.5px,#f2f5f6 151.5px,#eaf1f5 158.5px,#d8e9f1 159.5px,#8dc2dc 160.5px,#bbdaea 161.5px,#f2f5f6 162.5px,#f9f0eb 163.5px,#f7f5f4 175.5px,#f2f5f6 196.5px,#eff3f5 200.5px,#f8f1ed 201.5px,#f2a17f 202.5px,#6a011f 203.5px,#9f1228 204.5px,#f6b394 205.5px,#faeae1 206.5px,#f8f1ed 207.5px,#f7f5f4 223.5px)"></div>
<div style="position:absolute;left:0;top:6.00px;width:224px;height:1.60px;background:linear-gradient(90deg,#f2f5f6 0.5px,#eaf1f5 15.5px,#e1edf3 16.5px,#b1d5e7 17.5px,#deebf2 18.5px,#f8f3f0 19.5px,#f9f0eb 20.5px,#f7f6f6 32.5px,#f2f5f6 57.5px,#eff3f5 60.5px,#e7f0f4 61.5px,#d8e9f1 62.5px,#f5f6f7 63.5px,#f6f7f7 64.5px,#f9efe9 65.5px,#f7f5f4 80.5px,#f3f5f6 148.5px,#eaf1f5 158.5px,#d5e7f1 159.5px,#71b0d3 160.5px,#a7d0e4 161.5px,#f7f6f6 162.5px,#fae8de 163.5px,#f9efe9 164.5px,#f8f4f2 170.5px,#f3f5f6 194.5px,#eaf1f5 201.5px,#f9ebe3 202.5px,#e6866a 203.5px,#ee9677 204.5px,#fcdecd 205.5px,#f9efe9 206.5px,#f8f2ef 208.5px,#f7f5f4 223.5px)"></div>
<div style="position:absolute;left:0;top:7.00px;width:224px;height:1.60px;background:linear-gradient(90deg,#f2f5f6 0.5px,#eaf1f5 15.5px,#e1edf3 16.5px,#b6d7e8 17.5px,#e0ecf3 18.5px,#f8f2ef 19.5px,#f8f1ed 21.5px,#f7f6f6 33.5px,#f0f4f6 59.5px,#e7f0f4 62.5px,#f3f5f6 63.5px,#e9f0f4 64.5px,#f8f1ed 65.5px,#f9eee7 66.5px,#f7f5f4 78.5px,#f3f5f6 148.5px,#eaf1f5 158.5px,#d5e7f1 159.5px,#6eaed2 160.5px,#b3d6e8 161.5px,#fddbc7 162.5px,#f8bfa4 163.5px,#fae7dc 164.5px,#f8f1ed 165.5px,#f7f6f6 179.5px,#f0f4f6 197.5px,#eaf1f5 199.5px,#dae9f2 200.5px,#b1d5e7 201.5px,#d5e7f1 202.5px,#f9efe9 203.5px,#fae7dc 204.5px,#f8f1ed 205.5px,#f7f5f4 223.5px)"></div>
<div style="position:absolute;left:0;top:8.00px;width:224px;height:1.60px;background:linear-gradient(90deg,#f2f5f6 0.5px,#eaf1f5 15.5px,#e1edf3 16.5px,#b6d7e8 17.5px,#e0ecf3 18.5px,#f8f2ef 19.5px,#f8f1ed 21.5px,#f7f6f6 33.5px,#f0f4f6 60.5px,#eaf1f5 62.5px,#d7e8f1 63.5px,#eaf1f5 64.5px,#f8f1ed 65.5px,#f9ede5 66.5px,#f8f4f2 75.5px,#f6f7f7 116.5px,#f2f5f6 151.5px,#eaf1f5 158.5px,#d5e7f1 159.5px,#6eaed2 160.5px,#c0dceb 161.5px,#f7b596 162.5px,#ee9677 163.5px,#fce2d2 164.5px,#f8f1ed 165.5px,#f7f6f6 179.5px,#f0f4f6 197.5px,#e7f0f4 199.5px,#c7e0ed 200.5px,#68abd0 201.5px,#7eb8d7 202.5px,#c7e0ed 203.5px,#e1edf3 204.5px,#f3f5f6 205.5px,#f8f2ef 206.5px,#f7f5f4 223.5px)"></div>
<div style="position:absolute;left:0;top:9.00px;width:224px;height:1.60px;background:linear-gradient(90deg,#f2f5f6 0.5px,#eaf1f5 14.5px,#e1edf3 16.5px,#b6d7e8 17.5px,#e0ecf3 18.5px,#f8f2ef 19.5px,#f8f1ed 21.5px,#f7f6f6 33.5px,#f0f4f6 60.5px,#e7f0f4 63.5px,#f9efe9 64.5px,#f9ede5 66.5px,#f8f4f2 76.5px,#f6f7f7 111.5px,#f3f5f6 149.5px,#eaf1f5 158.5px,#d5e7f1 159.5px,#6eaed2 160.5px,#c2ddec 161.5px,#f6af8e 162.5px,#ea8e70 163.5px,#fce0d0 164.5px,#f9f0eb 165.5px,#f8f4f2 170.5px,#f3f5f6 194.5px,#eff3f5 198.5px,#e7f0f4 199.5px,#c2ddec 200.5px,#59a1ca 201.5px,#65a9cf 202.5px,#aed3e6 203.5px,#d4e6f1 204.5px,#f0f4f6 205.5px,#f8f2ef 206.5px,#f7f5f4 223.5px)"></div>
<div style="position:absolute;left:0;top:10.00px;width:224px;height:1.60px;background:linear-gradient(90deg,#f2f5f6 0.5px,#eaf1f5 14.5px,#e1edf3 16.5px,#b6d7e8 17.5px,#e0ecf3 18.5px,#f8f2ef 19.5px,#f8f1ed 21.5px,#f7f6f6 33.5px,#f0f4f6 60.5px,#eff3f5 63.5px,#fbe6da 64.5px,#f9efe9 68.5px,#f7f5f4 80.5px,#f3f5f6 149.5px,#eaf1f5 158.5px,#d5e7f1 159.5px,#6eaed2 160.5px,#c2ddec 161.5px,#f6af8e 162.5px,#ea8e70 163.5px,#fce0d0 164.5px,#f9f0eb 165.5px,#f8f4f2 170.5px,#f3f5f6 194.5px,#eff3f5 198.5px,#e7f0f4 199.5px,#c2ddec 200.5px,#569fc9 201.5px,#62a7ce 202.5px,#acd2e5 203.5px,#d2e6f0 204.5px,#f0f4f6 205.5px,#f8f2ef 206.5px,#f7f5f4 223.5px)"></div>
<div style="position:absolute;left:0;top:11.00px;width:224px;height:1.60px;background:linear-gradient(90deg,#f2f5f6 0.5px,#eaf1f5 14.5px,#e1edf3 16.5px,#b6d7e8 17.5px,#e0ecf3 18.5px,#f8f3f0 19.5px,#f9f0eb 20.5px,#f7f6f6 32.5px,#f2f5f6 59.5px,#ecf2f5 62.5px,#ddebf2 63.5px,#f5f6f7 64.5px,#f9eee7 65.5px,#f9ede5 67.5px,#f8f4f2 75.5px,#f6f7f7 122.5px,#f2f5f6 152.5px,#eaf1f5 158.5px,#d5e7f1 159.5px,#6eaed2 160.5px,#c2ddec 161.5px,#f6af8e 162.5px,#ea8e70 163.5px,#fce0d0 164.5px,#f9f0eb 165.5px,#f8f4f2 170.5px,#f3f5f6 194.5px,#eff3f5 198.5px,#e7f0f4 199.5px,#c2ddec 200.5px,#569fc9 201.5px,#62a7ce 202.5px,#a9d1e5 203.5px,#d2e6f0 204.5px,#f0f4f6 205.5px,#f8f2ef 206.5px,#f7f5f4 223.5px)"></div>
<div style="position:absolute;left:0;top:12.00px;width:224px;height:1.60px;background:linear-gradient(90deg,#f2f5f6 0.5px,#eaf1f5 14.5px,#e1edf3 16.5px,#b6d7e8 17.5px,#e0ecf3 18.5px,#f8f3f0 19.5px,#f9f0eb 20.5px,#f7f6f6 32.5px,#f2f5f6 59.5px,#ecf2f5 62.5px,#c5dfec 64.5px,#f9f0eb 65.5px,#f9ebe3 66.5px,#f8f4f2 76.5px,#f6f7f7 117.5px,#f2f5f6 152.5px,#eaf1f5 158.5px,#d5e7f1 159.5px,#6eaed2 160.5px,#c2ddec 161.5px,#f6af8e 162.5px,#ea8e70 163.5px,#fce0d0 164.5px,#f9f0eb 165.5px,#f8f4f2 170.5px,#f3f5f6 194.5px,#eff3f5 198.5px,#e7f0f4 199.5px,#c2ddec 200.5px,#569fc9 201.5px,#62a7ce 202.5px,#a9d1e5 203.5px,#d2e6f0 204.5px,#f0f4f6 205.5px,#f8f2ef 206.5px,#f7f5f4 223.5px)"></div>
<div style="position:absolute;left:0;top:13.00px;width:224px;height:1.60px;background:linear-gradient(90deg,#f2f5f6 0.5px,#eaf1f5 14.5px,#e1edf3 16.5px,#b6d7e8 17.5px,#e0ecf3 18.5px,#f8f3f0 19.5px,#f9f0eb 20.5px,#f7f6f6 32.5px,#f2f5f6 59.5px,#ecf2f5 62.5px,#d4e6f1 63.5px,#c2ddec 64.5px,#f9efe9 65.5px,#f9ebe3 66.5px,#f8f4f2 76.5px,#f6f7f7 117.5px,#f2f5f6 152.5px,#eaf1f5 158.5px,#d5e7f1 159.5px,#6eaed2 160.5px,#c2ddec 161.5px,#f6af8e 162.5px,#ea8e70 163.5px,#fce0d0 164.5px,#f9f0eb 165.5px,#f8f4f2 170.5px,#f2f5f6 196.5px,#eff3f5 198.5px,#e7f0f4 199.5px,#c2ddec 200.5px,#569fc9 201.5px,#62a7ce 202.5px,#a9d1e5 203.5px,#d2e6f0 204.5px,#f0f4f6 205.5px,#f8f2ef 206.5px,#f7f5f4 223.5px)"></div>
<div style="position:absolute;left:0;top:14.00px;width:224px;height:1.60px;background:linear-gradient(90deg,#f2f5f6 0.5px,#eaf1f5 14.5px,#e1edf3 16.5px,#b6d7e8 17.5px,#e0ecf3 18.5px,#f8f3f0 19.5px,#f9f0eb 20.5px,#f7f5f4 28.5px,#f2f5f6 59.5px,#ecf2f5 62.5px,#d4e6f1 63.5px,#c2ddec 64.5px,#f9efe9 65.5px,#faeae1 66.5px,#f8f3f0 74.5px,#f7f6f6 95.5px,#f3f5f6 149.5px,#eaf1f5 158.5px,#d5e7f1 159.5px,#71b0d3 160.5px,#c5dfec 161.5px,#f6af8e 162.5px,#ea8e70 163.5px,#fce0d0 164.5px,#f9f0eb 165.5px,#f8f4f2 170.5px,#f2f5f6 196.5px,#eff3f5 198.5px,#e7f0f4 199.5px,#c2ddec 200.5px,#569fc9 201.5px,#62a7ce 202.5px,#a9d1e5 203.5px,#d2e6f0 204.5px,#f0f4f6 205.5px,#f8f2ef 206.5px,#f7f5f4 223.5px)"></div>
<div style="position:absolute;left:0;top:15.00px;width:224px;height:1.60px;background:linear-gradient(90deg,#f2f5f6 0.5px,#eaf1f5 14.5px,#e1edf3 16.5px,#b6d7e8 17.5px,#e0ecf3 18.5px,#f8f3f0 19.5px,#f9f0eb 20.5px,#f7f5f4 28.5px,#f2f5f6 60.5px,#ecf2f5 62.5px,#c5dfec 64.5px,#f9ede5 65.5px,#fae8de 66.5px,#f8f1ed 71.5px,#f7f6f6 87.5px,#f3f5f6 149.5px,#eaf1f5 158.5px,#d7e8f1 159.5px,#81bad8 160.5px,#cce2ef 161.5px,#f7b596 162.5px,#f09c7b 163.5px,#fce2d2 164.5px,#f9f0eb 165.5px,#f8f4f2 170.5px,#f2f5f6 196.5px,#eff3f5 198.5px,#e7f0f4 199.5px,#c2ddec 200.5px,#569fc9 201.5px,#62a7ce 202.5px,#a9d1e5 203.5px,#d1e5f0 204.5px,#f0f4f6 205.5px,#f8f2ef 206.5px,#f7f5f4 223.5px)"></div>
<div style="position:absolute;left:0;top:16.00px;width:224px;height:1.60px;background:linear-gradient(90deg,#f2f5f6 0.5px,#eaf1f5 14.5px,#e1edf3 16.5px,#bbdaea 17.5px,#e3edf3 18.5px,#f8f2ef 19.5px,#f8f1ed 21.5px,#f7f6f6 31.5px,#f2f5f6 60.5px,#edf2f5 62.5px,#d7e8f1 63.5px,#cfe4ef 64.5px,#f3f5f6 65.5px,#fcdecd 66.5px,#fae9df 67.5px,#f9f0eb 71.5px,#f7f5f4 81.5px,#f3f5f6 149.5px,#ecf2f5 158.5px,#e0ecf3 159.5px,#b8d8e9 160.5px,#e6eff4 161.5px,#fcd7c2 162.5px,#facab1 163.5px,#fae8de 164.5px,#f8f1ed 165.5px,#f7f6f6 181.5px,#f0f4f6 197.5px,#e7f0f4 199.5px,#c2ddec 200.5px,#529dc8 201.5px,#62a7ce 202.5px,#a9d1e5 203.5px,#d1e5f0 204.5px,#f0f4f6 205.5px,#f8f2ef 206.5px,#f7f5f4 223.5px)"></div>
<div style="position:absolute;left:0;top:17.00px;width:224px;height:1.60px;background:linear-gradient(90deg,#f2f5f6 0.5px,#eaf1f5 14.5px,#e4eef4 16.5px,#f6f7f7 17.5px,#f3f5f6 18.5px,#f8f1ed 19.5px,#f8f3f0 23.5px,#f6f7f7 40.5px,#f0f4f6 61.5px,#eff3f5 62.5px,#e3edf3 63.5px,#e3edf3 64.5px,#fcdfcf 65.5px,#f7b596 66.5px,#fbe5d8 67.5px,#f9ede5 68.5px,#f8f4f2 78.5px,#f6f7f7 113.5px,#f3f5f6 149.5px,#e9f0f4 159.5px,#e3edf3 160.5px,#f8f2ef 161.5px,#faeae1 162.5px,#faeae1 163.5px,#f8f1ed 165.5px,#f7f6f6 181.5px,#f0f4f6 197.5px,#eff3f5 198.5px,#e6eff4 199.5px,#c0dceb 200.5px,#4c99c6 201.5px,#59a1ca 202.5px,#a7d0e4 203.5px,#d1e5f0 204.5px,#f0f4f6 205.5px,#f8f2ef 206.5px,#f7f5f4 223.5px)"></div>
<div style="position:absolute;left:0;top:18.00px;width:224px;height:1.60px;background:linear-gradient(90deg,#f2f5f6 0.5px,#eaf1f5 14.5px,#e7f0f4 16.5px,#f9ede5 17.5px,#f7f5f4 27.5px,#f2f5f6 60.5px,#edf2f5 63.5px,#f2f5f6 64.5px,#fdddcb 65.5px,#f6b394 66.5px,#fbe5d8 67.5px,#f9ebe3 68.5px,#f8f3f0 75.5px,#f7f6f6 96.5px,#f3f5f6 149.5px,#e9f0f4 160.5px,#f9efe9 161.5px,#f7f5f4 175.5px,#f2f5f6 195.5px,#edf2f5 198.5px,#e6eff4 199.5px,#b6d7e8 200.5px,#3885bc 201.5px,#3c8abe 202.5px,#96c7df 203.5px,#cce2ef 204.5px,#f0f4f6 205.5px,#f8f2ef 206.5px,#f7f5f4 223.5px)"></div>
<div style="position:absolute;left:0;top:19.00px;width:224px;height:1.60px;background:linear-gradient(90deg,#f2f5f6 0.5px,#eaf1f5 14.5px,#e7f0f4 16.5px,#faeae1 17.5px,#f8f4f2 24.5px,#f5f6f7 55.5px,#f0f4f6 64.5px,#f8f3f0 65.5px,#fddcc9 66.5px,#fae8de 67.5px,#f8f1ed 72.5px,#f7f6f6 88.5px,#f3f5f6 149.5px,#eaf1f5 160.5px,#f9eee7 161.5px,#f8f4f2 171.5px,#f2f5f6 195.5px,#edf2f5 198.5px,#e4eef4 199.5px,#a9d1e5 200.5px,#2b73b3 201.5px,#2b73b3 202.5px,#84bcd9 203.5px,#cae1ee 204.5px,#eff3f5 205.5px,#f8f2ef 206.5px,#f7f5f4 223.5px)"></div>
<div style="position:absolute;left:0;top:20.00px;width:224px;height:1.60px;background:linear-gradient(90deg,#f2f5f6 0.5px,#eaf1f5 14.5px,#e7f0f4 16.5px,#faeae1 17.5px,#f8f2ef 22.5px,#f7f6f6 33.5px,#f2f5f6 61.5px,#eff3f5 66.5px,#fae8de 67.5px,#f8f3f0 75.5px,#f7f6f6 96.5px,#f3f5f6 149.5px,#eaf1f5 160.5px,#f9eee7 161.5px,#f8f4f2 170.5px,#f2f5f6 195.5px,#edf2f5 198.5px,#e4eef4 199.5px,#a9d1e5 200.5px,#276eb0 201.5px,#2870b1 202.5px,#7eb8d7 203.5px,#cae1ee 204.5px,#eff3f5 205.5px,#f8f2ef 206.5px,#f7f5f4 223.5px)"></div>
<div style="position:absolute;left:0;top:21.00px;width:224px;height:1.60px;background:linear-gradient(90deg,#f2f5f6 0.5px,#e9f0f4 15.5px,#e6eff4 16.5px,#f9ede5 17.5px,#f8f4f2 24.5px,#f5f6f7 55.5px,#f0f4f6 66.5px,#fbe3d4 67.5px,#f9eee7 70.5px,#f8f4f2 79.5px,#f6f7f7 114.5px,#f2f5f6 151.5px,#e9f0f4 160.5px,#f9efe9 161.5px,#f7f5f4 175.5px,#f2f5f6 195.5px,#edf2f5 198.5px,#e4eef4 199.5px,#a7d0e4 200.5px,#276eb0 201.5px,#276eb0 202.5px,#7eb8d7 203.5px,#c7e0ed 204.5px,#eff3f5 205.5px,#f8f2ef 206.5px,#f7f5f4 223.5px)"></div>
<div style="position:absolute;left:0;top:22.00px;width:224px;height:1.60px;background:linear-gradient(90deg,#f2f5f6 0.5px,#eaf1f5 14.5px,#e1edf3 16.5px,#f7f6f6 17.5px,#f9efe9 19.5px,#f7f5f4 26.5px,#f2f5f6 61.5px,#f0f4f6 65.5px,#f8f1ed 66.5px,#f6b394 67.5px,#fbccb4 68.5px,#fae8de 69.5px,#f9eee7 70.5px,#f8f4f2 79.5px,#f6f7f7 120.5px,#f2f5f6 151.5px,#e7f0f4 160.5px,#f9f0eb 161.5px,#f7f6f6 180.5px,#f0f4f6 197.5px,#e4eef4 199.5px,#a7d0e4 200.5px,#276eb0 201.5px,#276eb0 202.5px,#7eb8d7 203.5px,#c7e0ed 204.5px,#eff3f5 205.5px,#f8f2ef 206.5px,#f7f5f4 223.5px)"></div>
<div style="position:absolute;left:0;top:23.00px;width:224px;height:1.60px;background:linear-gradient(90deg,#f2f5f6 0.5px,#ecf2f5 13.5px,#e7f0f4 14.5px,#d8e9f1 15.5px,#d1e5f0 16.5px,#e7f0f4 17.5px,#f7f5f4 18.5px,#f9f0eb 19.5px,#f7f6f6 31.5px,#f2f5f6 61.5px,#f2f5f6 65.5px,#fbe6da 66.5px,#dd7059 67.5px,#f4a683 68.5px,#fbe4d6 69.5px,#f9ede5 70.5px,#f8f4f2 78.5px,#f6f7f7 125.5px,#f0f4f6 154.5px,#e9f0f4 159.5px,#ddebf2 160.5px,#f6f7f7 161.5px,#f8f1ed 162.5px,#f7f6f6 182.5px,#f0f4f6 197.5px,#e4eef4 199.5px,#a7d0e4 200.5px,#276eb0 201.5px,#276eb0 202.5px,#7eb8d7 203.5px,#c7e0ed 204.5px,#eff3f5 205.5px,#f8f2ef 206.5px,#f7f5f4 223.5px)"></div>
<div style="position:absolute;left:0;top:24.00px;width:224px;height:1.60px;background:linear-gradient(90deg,#f2f5f6 0.5px,#eaf1f5 13.5px,#e1edf3 14.5px,#acd2e5 15.5px,#9dcbe1 16.5px,#e0ecf3 17.5px,#f7f6f6 18.5px,#f9f0eb 19.5px,#f7f6f6 31.5px,#f2f5f6 62.5px,#f2f5f6 65.5px,#fbe3d4 66.5px,#ef9979 67.5px,#ec9374 68.5px,#fce0d0 69.5px,#f9ede5 70.5px,#f8f4f2 79.5px,#f6f7f7 120.5px,#f2f5f6 151.5px,#ecf2f5 158.5px,#e7f0f4 159.5px,#d4e6f1 160.5px,#eff3f5 161.5px,#f8f2ef 162.5px,#f8f1ed 164.5px,#f7f6f6 180.5px,#f0f4f6 197.5px,#e4eef4 199.5px,#a7d0e4 200.5px,#276eb0 201.5px,#2870b1 202.5px,#7eb8d7 203.5px,#cae1ee 204.5px,#eff3f5 205.5px,#f8f2ef 206.5px,#f7f5f4 223.5px)"></div>
<div style="position:absolute;left:0;top:25.00px;width:224px;height:1.60px;background:linear-gradient(90deg,#f2f5f6 0.5px,#eaf1f5 13.5px,#e1edf3 14.5px,#a9d1e5 15.5px,#9dcbe1 16.5px,#deebf2 17.5px,#f7f6f6 18.5px,#f9f0eb 19.5px,#f7f6f6 31.5px,#f2f5f6 62.5px,#f2f5f6 65.5px,#fbe4d6 66.5px,#e98b6e 67.5px,#dc6e57 68.5px,#fcd5bf 69.5px,#faeae1 70.5px,#f8f1ed 74.5px,#f7f6f6 88.5px,#f3f5f6 148.5px,#e9f0f4 159.5px,#ddebf2 160.5px,#f6f7f7 161.5px,#f8f1ed 162.5px,#f7f6f6 182.5px,#f0f4f6 197.5px,#e4eef4 199.5px,#a9d1e5 200.5px,#2b73b3 201.5px,#2c75b4 202.5px,#84bcd9 203.5px,#cae1ee 204.5px,#f0f4f6 205.5px,#f8f2ef 206.5px,#f7f5f4 223.5px)"></div>
<div style="position:absolute;left:0;top:26.00px;width:224px;height:1.60px;background:linear-gradient(90deg,#f2f5f6 0.5px,#eaf1f5 13.5px,#e7f0f4 14.5px,#d8e9f1 15.5px,#d1e5f0 16.5px,#f7f6f6 18.5px,#f9f0eb 19.5px,#f7f5f4 27.5px,#f2f5f6 62.5px,#f0f4f6 65.5px,#f9ede5 66.5px,#f6b394 67.5px,#db6b55 68.5px,#fac8af 69.5px,#fae9df 70.5px,#f9efe9 72.5px,#f7f5f4 84.5px,#f3f5f6 148.5px,#eaf1f5 159.5px,#f9f0eb 160.5px,#f7f6f6 181.5px,#f0f4f6 197.5px,#e6eff4 199.5px,#bddbea 200.5px,#4695c4 201.5px,#529dc8 202.5px,#a5cee3 203.5px,#d4e6f1 204.5px,#f2f5f6 205.5px,#f8f2ef 206.5px,#f7f5f4 223.5px)"></div>
<div style="position:absolute;left:0;top:27.00px;width:224px;height:1.60px;background:linear-gradient(90deg,#f2f5f6 0.5px,#ecf2f5 15.5px,#f9ebe3 16.5px,#e9f0f4 17.5px,#f7f6f6 18.5px,#f9f0eb 19.5px,#f7f5f4 27.5px,#f2f5f6 62.5px,#eff3f5 65.5px,#f6f7f7 66.5px,#fce0d0 67.5px,#eb9172 68.5px,#facab1 69.5px,#fae9df 70.5px,#f9efe9 72.5px,#f7f5f4 84.5px,#f3f5f6 148.5px,#eaf1f5 159.5px,#f9eee7 160.5px,#f8f4f2 169.5px,#f2f5f6 195.5px,#eaf1f5 199.5px,#deebf2 200.5px,#c2ddec 201.5px,#dae9f2 202.5px,#eaf1f5 204.5px,#f7f6f6 205.5px,#f8f2ef 206.5px,#f7f5f4 223.5px)"></div>
<div style="position:absolute;left:0;top:28.00px;width:224px;height:1.60px;background:linear-gradient(90deg,#f2f5f6 0.5px,#ecf2f5 13.5px,#f6f7f7 14.5px,#fae8de 15.5px,#fbd0b9 16.5px,#f3f5f6 17.5px,#f7f5f4 18.5px,#f9f0eb 19.5px,#f7f5f4 27.5px,#f2f5f6 62.5px,#f2f5f6 66.5px,#fae8de 67.5px,#f2a17f 68.5px,#fbceb7 69.5px,#fae9df 70.5px,#f9efe9 72.5px,#f7f5f4 84.5px,#f3f5f6 147.5px,#eaf1f5 159.5px,#f9eee7 160.5px,#f8f4f2 169.5px,#f2f5f6 195.5px,#e9f0f4 200.5px,#e4eef4 201.5px,#f8f3f0 202.5px,#f8f4f2 204.5px,#f8f2ef 208.5px,#f7f5f4 223.5px)"></div>
<div style="position:absolute;left:0;top:29.00px;width:224px;height:1.60px;background:linear-gradient(90deg,#f2f5f6 0.5px,#edf2f5 13.5px,#f9f0eb 14.5px,#fbccb4 15.5px,#f5a886 16.5px,#f8f2ef 17.5px,#f8f4f2 18.5px,#f9f0eb 19.5px,#f7f5f4 27.5px,#f2f5f6 62.5px,#f0f4f6 66.5px,#f8f2ef 67.5px,#fac8af 68.5px,#fcdecd 69.5px,#faeae1 70.5px,#f8f1ed 74.5px,#f7f6f6 90.5px,#f3f5f6 147.5px,#eff3f5 157.5px,#f3f5f6 158.5px,#f0f4f6 159.5px,#f9eee7 160.5px,#f8f4f2 169.5px,#f2f5f6 195.5px,#edf2f5 200.5px,#f0f4f6 201.5px,#faeae1 202.5px,#f8f1ed 204.5px,#f7f5f4 223.5px)"></div>
<div style="position:absolute;left:0;top:30.00px;width:224px;height:1.60px;background:linear-gradient(90deg,#f2f5f6 0.5px,#ecf2f5 12.5px,#eff3f5 13.5px,#f9efe9 14.5px,#f9c4a9 15.5px,#f09c7b 16.5px,#f8f1ed 17.5px,#f8f4f2 18.5px,#f9f0eb 19.5px,#f7f5f4 27.5px,#f2f5f6 62.5px,#f0f4f6 67.5px,#fbe4d6 68.5px,#f9eee7 71.5px,#f8f4f2 80.5px,#f6f7f7 121.5px,#f0f4f6 152.5px,#edf2f5 156.5px,#f7f5f4 157.5px,#fce0d0 158.5px,#facab1 159.5px,#fae8de 160.5px,#f9efe9 161.5px,#f7f5f4 173.5px,#f2f5f6 195.5px,#edf2f5 199.5px,#f2f5f6 200.5px,#f9efe9 201.5px,#fdddcb 202.5px,#f9ebe3 203.5px,#f8f1ed 204.5px,#f7f5f4 223.5px)"></div>
<div style="position:absolute;left:0;top:31.00px;width:224px;height:1.60px;background:linear-gradient(90deg,#f2f5f6 0.5px,#ecf2f5 12.5px,#eff3f5 13.5px,#f9eee7 14.5px,#f9c4a9 15.5px,#f09c7b 16.5px,#f9f0eb 17.5px,#f8f4f2 18.5px,#f9f0eb 19.5px,#f7f5f4 27.5px,#f2f5f6 62.5px,#ecf2f5 67.5px,#fae7dc 68.5px,#f8f1ed 74.5px,#f7f6f6 90.5px,#f3f5f6 147.5px,#eff3f5 156.5px,#f9efe9 157.5px,#f7b799 158.5px,#f19e7d 159.5px,#fbe3d4 160.5px,#f9efe9 161.5px,#f8f3f0 166.5px,#f6f7f7 187.5px,#edf2f5 199.5px,#f3f5f6 200.5px,#f9ede5 201.5px,#fddbc7 202.5px,#faeae1 203.5px,#f8f1ed 204.5px,#f7f5f4 223.5px)"></div>
<div style="position:absolute;left:0;top:32.00px;width:224px;height:1.60px;background:linear-gradient(90deg,#f2f5f6 0.5px,#ecf2f5 12.5px,#eff3f5 13.5px,#f9eee7 14.5px,#f9c4a9 15.5px,#f09c7b 16.5px,#f9f0eb 17.5px,#f8f4f2 18.5px,#f9f0eb 19.5px,#f7f5f4 27.5px,#f2f5f6 63.5px,#edf2f5 65.5px,#e0ecf3 66.5px,#e4eef4 67.5px,#fae8de 68.5px,#f8f3f0 77.5px,#f7f6f6 98.5px,#f3f5f6 146.5px,#edf2f5 156.5px,#f9eee7 157.5px,#f6af8e 158.5px,#ee9677 159.5px,#fbe3d4 160.5px,#f9f0eb 161.5px,#f7f5f4 173.5px,#f2f5f6 195.5px,#eff3f5 200.5px,#f7f5f4 201.5px,#fbe4d6 202.5px,#f9eee7 203.5px,#f8f1ed 205.5px,#f7f5f4 223.5px)"></div>
<div style="position:absolute;left:0;top:33.00px;width:224px;height:1.60px;background:linear-gradient(90deg,#f2f5f6 0.5px,#ecf2f5 12.5px,#eff3f5 13.5px,#f9eee7 14.5px,#f9c4a9 15.5px,#f09c7b 16.5px,#f9f0eb 17.5px,#f8f4f2 18.5px,#f9f0eb 19.5px,#f7f5f4 27.5px,#f2f5f6 62.5px,#ecf2f5 65.5px,#d5e7f1 66.5px,#deebf2 67.5px,#fae8de 68.5px,#f8f3f0 77.5px,#f7f6f6 98.5px,#f3f5f6 146.5px,#edf2f5 156.5px,#f8f1ed 157.5px,#f9c4a9 158.5px,#f5ac8b 159.5px,#fbe5d8 160.5px,#f9f0eb 161.5px,#f7f5f4 173.5px,#f2f5f6 195.5px,#e9f0f4 201.5px,#f9f0eb 202.5px,#f7f5f4 223.5px)"></div>
<div style="position:absolute;left:0;top:34.00px;width:224px;height:1.60px;background:linear-gradient(90deg,#f2f5f6 0.5px,#ecf2f5 12.5px,#eff3f5 13.5px,#f9eee7 14.5px,#f9c4a9 15.5px,#f09c7b 16.5px,#f9f0eb 17.5px,#f8f4f2 18.5px,#f9f0eb 19.5px,#f7f5f4 27.5px,#f2f5f6 62.5px,#ecf2f5 65.5px,#d2e6f0 66.5px,#ddebf2 67.5px,#fae8de 68.5px,#f8f3f0 77.5px,#f7f6f6 98.5px,#f3f5f6 146.5px,#ecf2f5 156.5px,#f2f5f6 157.5px,#f9efe9 158.5px,#fcdecd 159.5px,#f9ebe3 160.5px,#f8f1ed 162.5px,#f7f6f6 178.5px,#f0f4f6 197.5px,#e6eff4 200.5px,#d8e9f1 201.5px,#f0f4f6 202.5px,#f8f4f2 203.5px,#f8f1ed 205.5px,#f7f5f4 223.5px)"></div>
<div style="position:absolute;left:0;top:35.00px;width:224px;height:1.60px;background:linear-gradient(90deg,#f2f5f6 0.5px,#ecf2f5 12.5px,#eff3f5 13.5px,#f9eee7 14.5px,#f9c4a9 15.5px,#f09c7b 16.5px,#f9f0eb 17.5px,#f8f4f2 18.5px,#f9f0eb 19.5px,#f7f5f4 27.5px,#f2f5f6 62.5px,#ecf2f5 65.5px,#d2e6f0 66.5px,#ddebf2 67.5px,#fae8de 68.5px,#f8f1ed 75.5px,#f7f6f6 89.5px,#f3f5f6 146.5px,#eaf1f5 157.5px,#f9ebe3 158.5px,#f8f3f0 164.5px,#f5f6f7 189.5px,#ecf2f5 199.5px,#ddebf2 200.5px,#a5cee3 201.5px,#f2f5f6 203.5px,#f8f2ef 204.5px,#f7f5f4 223.5px)"></div>
<div style="position:absolute;left:0;top:36.00px;width:224px;height:1.60px;background:linear-gradient(90deg,#f2f5f6 0.5px,#ecf2f5 12.5px,#eff3f5 13.5px,#f9eee7 14.5px,#f9c4a9 15.5px,#f09c7b 16.5px,#f9f0eb 17.5px,#f8f4f2 18.5px,#f9f0eb 19.5px,#f7f5f4 27.5px,#f2f5f6 62.5px,#ecf2f5 65.5px,#d2e6f0 66.5px,#dbeaf2 67.5px,#fae8de 68.5px,#f8f1ed 75.5px,#f7f6f6 89.5px,#f3f5f6 145.5px,#eaf1f5 157.5px,#f9eee7 158.5px,#f8f4f2 167.5px,#f3f5f6 194.5px,#ecf2f5 199.5px,#d8e9f1 200.5px,#8ac0db 201.5px,#b3d6e8 202.5px,#edf2f5 203.5px,#f8f2ef 204.5px,#f7f5f4 223.5px)"></div>
<div style="position:absolute;left:0;top:37.00px;width:224px;height:1.60px;background:linear-gradient(90deg,#f2f5f6 0.5px,#ecf2f5 12.5px,#eff3f5 13.5px,#f9efe9 14.5px,#f9c4a9 15.5px,#f09c7b 16.5px,#f8f1ed 17.5px,#f8f4f2 18.5px,#f9f0eb 19.5px,#f7f5f4 27.5px,#f2f5f6 62.5px,#ecf2f5 65.5px,#d2e6f0 66.5px,#ddebf2 67.5px,#fae8de 68.5px,#f8f1ed 75.5px,#f7f6f6 89.5px,#f3f5f6 145.5px,#e9f0f4 157.5px,#f9efe9 158.5px,#f7f5f4 172.5px,#f2f5f6 195.5px,#ecf2f5 199.5px,#d8e9f1 200.5px,#87beda 201.5px,#b1d5e7 202.5px,#edf2f5 203.5px,#f8f2ef 204.5px,#f7f5f4 223.5px)"></div>
<div style="position:absolute;left:0;top:38.00px;width:224px;height:1.60px;background:linear-gradient(90deg,#f2f5f6 0.5px,#edf2f5 13.5px,#f9f0eb 14.5px,#fbccb4 15.5px,#f5a886 16.5px,#f8f2ef 17.5px,#f8f4f2 18.5px,#f9f0eb 19.5px,#f7f5f4 27.5px,#f2f5f6 62.5px,#ecf2f5 65.5px,#d2e6f0 66.5px,#ddebf2 67.5px,#fae7dc 68.5px,#f8f1ed 74.5px,#f7f6f6 90.5px,#f3f5f6 145.5px,#eaf1f5 155.5px,#e4eef4 157.5px,#f9f0eb 158.5px,#f7f6f6 177.5px,#f2f5f6 195.5px,#ecf2f5 199.5px,#d8e9f1 200.5px,#87beda 201.5px,#aed3e6 202.5px,#edf2f5 203.5px,#f8f2ef 204.5px,#f7f5f4 223.5px)"></div>
<div style="position:absolute;left:0;top:39.00px;width:224px;height:1.60px;background:linear-gradient(90deg,#f2f5f6 0.5px,#ecf2f5 13.5px,#f6f7f7 14.5px,#fae8de 15.5px,#fbceb7 16.5px,#f3f5f6 17.5px,#f7f5f4 18.5px,#f9f0eb 19.5px,#f7f5f4 27.5px,#f2f5f6 62.5px,#ecf2f5 65.5px,#d5e7f1 66.5px,#e6eff4 67.5px,#fcdfcf 68.5px,#faeae1 70.5px,#f8f1ed 74.5px,#f7f6f6 90.5px,#f3f5f6 145.5px,#ecf2f5 154.5px,#e4eef4 155.5px,#cfe4ef 156.5px,#e9f0f4 157.5px,#f8f4f2 158.5px,#f9f0eb 159.5px,#f7f6f6 176.5px,#f2f5f6 196.5px,#ecf2f5 199.5px,#dbeaf2 200.5px,#90c4dd 201.5px,#b3d6e8 202.5px,#edf2f5 203.5px,#f8f2ef 204.5px,#f7f5f4 223.5px)"></div>
<div style="position:absolute;left:0;top:40.00px;width:224px;height:1.60px;background:linear-gradient(90deg,#f2f5f6 0.5px,#ecf2f5 14.5px,#eff3f5 15.5px,#e7f0f4 16.5px,#eaf1f5 17.5px,#f7f5f4 18.5px,#f9efe9 19.5px,#f7f5f4 26.5px,#f2f5f6 62.5px,#eff3f5 65.5px,#e3edf3 66.5px,#fbe6da 67.5px,#ef9979 68.5px,#f9c4a9 69.5px,#fbe5d8 70.5px,#f9ede5 71.5px,#f8f4f2 79.5px,#f6f7f7 126.5px,#eff3f5 152.5px,#ecf2f5 154.5px,#deebf2 155.5px,#a9d1e5 156.5px,#d2e6f0 157.5px,#f5f6f7 158.5px,#f8f1ed 159.5px,#f7f6f6 179.5px,#f0f4f6 197.5px,#edf2f5 199.5px,#e3edf3 200.5px,#bbdaea 201.5px,#f2f5f6 203.5px,#f8f2ef 204.5px,#f7f5f4 223.5px)"></div>
<div style="position:absolute;left:0;top:41.00px;width:224px;height:1.60px;background:linear-gradient(90deg,#f2f5f6 0.5px,#eaf1f5 15.5px,#e3edf3 16.5px,#edf2f5 17.5px,#f8f3f0 18.5px,#f9efe9 19.5px,#f7f5f4 27.5px,#f2f5f6 62.5px,#f2f5f6 66.5px,#f7b99c 67.5px,#c53e3d 68.5px,#ef9979 69.5px,#fcdfcf 70.5px,#f9ebe3 71.5px,#f8f1ed 74.5px,#f7f6f6 90.5px,#f3f5f6 144.5px,#eaf1f5 154.5px,#ddebf2 155.5px,#a5cee3 156.5px,#f3f5f6 158.5px,#f8f1ed 159.5px,#f7f6f6 177.5px,#f0f4f6 197.5px,#edf2f5 199.5px,#e6eff4 200.5px,#d1e5f0 201.5px,#c2ddec 202.5px,#f5f6f7 203.5px,#f8f2ef 204.5px,#f7f5f4 223.5px)"></div>
<div style="position:absolute;left:0;top:42.00px;width:224px;height:1.60px;background:linear-gradient(90deg,#f2f5f6 0.5px,#eaf1f5 15.5px,#e6eff4 16.5px,#d7e8f1 17.5px,#f9efe9 18.5px,#f9ede5 19.5px,#f8f3f0 23.5px,#f7f6f6 37.5px,#f2f5f6 65.5px,#f5f6f7 66.5px,#f5ac8b 67.5px,#ba2832 68.5px,#ea8e70 69.5px,#fcdecd 70.5px,#f9ebe3 71.5px,#f8f1ed 74.5px,#f7f6f6 90.5px,#f3f5f6 144.5px,#eaf1f5 154.5px,#deebf2 155.5px,#b3d6e8 156.5px,#dae9f2 157.5px,#f6f7f7 158.5px,#f8f1ed 159.5px,#f7f6f6 177.5px,#f0f4f6 197.5px,#e7f0f4 200.5px,#d2e6f0 201.5px,#c5dfec 202.5px,#f6f7f7 203.5px,#f8f1ed 204.5px,#f7f5f4 223.5px)"></div>
<div style="position:absolute;left:0;top:43.00px;width:224px;height:1.60px;background:linear-gradient(90deg,#f2f5f6 0.5px,#eaf1f5 15.5px,#e4eef4 17.5px,#fae9df 18.5px,#f9ede5 20.5px,#f8f3f0 24.5px,#f6f7f7 41.5px,#f2f5f6 65.5px,#f5f6f7 66.5px,#f5aa89 67.5px,#b82531 68.5px,#e98b6e 69.5px,#fcdecd 70.5px,#f9ebe3 71.5px,#f8f1ed 74.5px,#f7f6f6 90.5px,#f3f5f6 144.5px,#ecf2f5 153.5px,#d1e5f0 156.5px,#f2f5f6 157.5px,#f8f2ef 158.5px,#f8f4f2 167.5px,#f3f5f6 194.5px,#edf2f5 199.5px,#e7f0f4 200.5px,#c5dfec 202.5px,#f6f7f7 203.5px,#f8f1ed 204.5px,#f7f5f4 223.5px)"></div>
<div style="position:absolute;left:0;top:44.00px;width:224px;height:1.60px;background:linear-gradient(90deg,#f2f5f6 0.5px,#ecf2f5 15.5px,#e9f0f4 17.5px,#edf2f5 18.5px,#fdddcb 19.5px,#fbe3d4 20.5px,#f9ede5 21.5px,#f8f2ef 23.5px,#f7f6f6 36.5px,#f2f5f6 65.5px,#f5f6f7 66.5px,#f5aa89 67.5px,#b82531 68.5px,#e98b6e 69.5px,#fcdecd 70.5px,#f9ebe3 71.5px,#f8f1ed 74.5px,#f7f6f6 90.5px,#f3f5f6 144.5px,#edf2f5 152.5px,#e9f0f4 153.5px,#d4e6f1 154.5px,#98c8e0 155.5px,#cae1ee 156.5px,#eff3f5 157.5px,#f8f2ef 158.5px,#f8f4f2 167.5px,#f3f5f6 195.5px,#edf2f5 199.5px,#e7f0f4 200.5px,#d4e6f1 201.5px,#c7e0ed 202.5px,#f7f6f6 203.5px,#f8f1ed 204.5px,#f7f5f4 223.5px)"></div>
<div style="position:absolute;left:0;top:45.00px;width:224px;height:1.60px;background:linear-gradient(90deg,#f2f5f6 0.5px,#ecf2f5 15.5px,#eaf1f5 17.5px,#f3f5f6 18.5px,#fac8af 19.5px,#fcd7c2 20.5px,#faeae1 21.5px,#f9f0eb 22.5px,#f7f6f6 34.5px,#f2f5f6 62.5px,#f5f6f7 66.5px,#f5aa89 67.5px,#b82531 68.5px,#e98b6e 69.5px,#fcdecd 70.5px,#f9ebe3 71.5px,#f8f1ed 74.5px,#f7f6f6 90.5px,#f3f5f6 144.5px,#edf2f5 152.5px,#e6eff4 153.5px,#b6d7e8 154.5px,#3e8cbf 155.5px,#81bad8 156.5px,#e1edf3 157.5px,#f8f3f0 158.5px,#f8f1ed 160.5px,#f7f6f6 176.5px,#f2f5f6 196.5px,#eff3f5 199.5px,#e9f0f4 200.5px,#d7e8f1 201.5px,#d2e6f0 202.5px,#f9efe9 203.5px,#f9ebe3 204.5px,#f8f1ed 206.5px,#f7f5f4 223.5px)"></div>
<div style="position:absolute;left:0;top:46.00px;width:224px;height:1.60px;background:linear-gradient(90deg,#f2f5f6 0.5px,#ecf2f5 16.5px,#eaf1f5 17.5px,#f5f6f7 18.5px,#fae8de 19.5px,#fcd3bc 20.5px,#fae9df 21.5px,#f8f1ed 23.5px,#f7f6f6 35.5px,#f2f5f6 62.5px,#f5f6f7 66.5px,#f5aa89 67.5px,#b82531 68.5px,#e98b6e 69.5px,#fcdecd 70.5px,#f9ebe3 71.5px,#f8f2ef 75.5px,#f7f6f6 94.5px,#f3f5f6 143.5px,#edf2f5 152.5px,#e4eef4 153.5px,#aed3e6 154.5px,#3681ba 155.5px,#6eaed2 156.5px,#deebf2 157.5px,#f8f3f0 158.5px,#f8f2ef 160.5px,#f6f7f7 183.5px,#f0f4f6 198.5px,#eaf1f5 200.5px,#e1edf3 201.5px,#e7f0f4 202.5px,#fddbc7 203.5px,#fce0d0 204.5px,#f9eee7 205.5px,#f8f2ef 207.5px,#f7f5f4 223.5px)"></div>
<div style="position:absolute;left:0;top:47.00px;width:224px;height:1.60px;background:linear-gradient(90deg,#f2f5f6 0.5px,#edf2f5 14.5px,#ecf2f5 17.5px,#f6f7f7 18.5px,#fae8de 19.5px,#fcd3bc 20.5px,#fae9df 21.5px,#f8f1ed 23.5px,#f7f6f6 35.5px,#f2f5f6 62.5px,#f5f6f7 66.5px,#f5aa89 67.5px,#b82531 68.5px,#e98b6e 69.5px,#fcdecd 70.5px,#f9ebe3 71.5px,#f8f2ef 75.5px,#f7f6f6 94.5px,#f3f5f6 143.5px,#ecf2f5 152.5px,#e4eef4 153.5px,#acd2e5 154.5px,#3480b9 155.5px,#6bacd1 156.5px,#deebf2 157.5px,#f8f3f0 158.5px,#f8f2ef 160.5px,#f7f6f6 179.5px,#f0f4f6 198.5px,#eaf1f5 201.5px,#f5f6f7 202.5px,#fcd5bf 203.5px,#fcdfcf 204.5px,#f9eee7 205.5px,#f8f2ef 207.5px,#f7f5f4 223.5px)"></div>
<div style="position:absolute;left:0;top:48.00px;width:224px;height:1.60px;background:linear-gradient(90deg,#f2f5f6 0.5px,#edf2f5 14.5px,#ecf2f5 17.5px,#f5f6f7 18.5px,#f9ebe3 19.5px,#fdd9c4 20.5px,#fae9df 21.5px,#f8f1ed 23.5px,#f7f6f6 35.5px,#f2f5f6 62.5px,#f5f6f7 66.5px,#f5aa89 67.5px,#b82531 68.5px,#e98b6e 69.5px,#fcdecd 70.5px,#f9ebe3 71.5px,#f8f2ef 75.5px,#f7f6f6 94.5px,#f3f5f6 143.5px,#ecf2f5 152.5px,#e4eef4 153.5px,#acd2e5 154.5px,#337eb8 155.5px,#6bacd1 156.5px,#deebf2 157.5px,#f8f3f0 158.5px,#f8f2ef 160.5px,#f7f6f6 179.5px,#f0f4f6 198.5px,#ecf2f5 201.5px,#f3f5f6 203.5px,#faeae1 204.5px,#f9f0eb 205.5px,#f7f5f4 223.5px)"></div>
<div style="position:absolute;left:0;top:49.00px;width:224px;height:1.60px;background:linear-gradient(90deg,#f2f5f6 0.5px,#ecf2f5 17.5px,#f0f4f6 19.5px,#fae9df 20.5px,#f8f2ef 24.5px,#f7f6f6 37.5px,#f2f5f6 65.5px,#f5f6f7 66.5px,#f5aa89 67.5px,#ba2832 68.5px,#ea8e70 69.5px,#fcdecd 70.5px,#f9ebe3 71.5px,#f8f2ef 75.5px,#f7f6f6 94.5px,#f3f5f6 143.5px,#ecf2f5 152.5px,#e4eef4 153.5px,#acd2e5 154.5px,#337eb8 155.5px,#6bacd1 156.5px,#deebf2 157.5px,#f8f3f0 158.5px,#f8f2ef 160.5px,#f7f6f6 179.5px,#f0f4f6 199.5px,#eaf1f5 203.5px,#f9f0eb 204.5px,#f7f5f4 223.5px)"></div>
<div style="position:absolute;left:0;top:50.00px;width:224px;height:1.60px;background:linear-gradient(90deg,#f2f5f6 0.5px,#ecf2f5 16.5px,#e9f0f4 18.5px,#d2e6f0 19.5px,#f6f7f7 20.5px,#fbe4d6 21.5px,#f9f0eb 23.5px,#f7f6f6 32.5px,#f2f5f6 62.5px,#f2f5f6 65.5px,#f6f7f7 66.5px,#f5ac8b 67.5px,#ba2832 68.5px,#ea8e70 69.5px,#fcdecd 70.5px,#f9ebe3 71.5px,#f8f2ef 75.5px,#f7f6f6 94.5px,#f3f5f6 143.5px,#ecf2f5 152.5px,#e4eef4 153.5px,#acd2e5 154.5px,#337eb8 155.5px,#6bacd1 156.5px,#deebf2 157.5px,#f8f3f0 158.5px,#f8f2ef 160.5px,#f7f6f6 179.5px,#f0f4f6 199.5px,#e9f0f4 203.5px,#f9f0eb 204.5px,#f7f5f4 223.5px)"></div>
<div style="position:absolute;left:0;top:51.00px;width:224px;height:1.60px;background:linear-gradient(90deg,#f3f5f6 0.5px,#eaf1f5 17.5px,#e6eff4 18.5px,#d5e7f1 19.5px,#f9eee7 20.5px,#fdd9c4 21.5px,#f9efe9 23.5px,#f7f5f4 30.5px,#f2f5f6 62.5px,#f0f4f6 64.5px,#f5f6f7 65.5px,#f8f3f0 66.5px,#f6b191 67.5px,#c43b3c 68.5px,#ef9979 69.5px,#fcdfcf 70.5px,#f9ebe3 71.5px,#f8f2ef 75.5px,#f7f6f6 94.5px,#f3f5f6 143.5px,#ecf2f5 152.5px,#e4eef4 153.5px,#acd2e5 154.5px,#337eb8 155.5px,#6bacd1 156.5px,#deebf2 157.5px,#f8f3f0 158.5px,#f8f2ef 160.5px,#f7f6f6 179.5px,#f0f4f6 199.5px,#e7f0f4 204.5px,#f9f0eb 205.5px,#f9f0eb 208.5px,#f8f4f2 217.5px,#f7f5f4 223.5px)"></div>
<div style="position:absolute;left:0;top:52.00px;width:224px;height:1.60px;background:linear-gradient(90deg,#f3f5f6 0.5px,#eaf1f5 17.5px,#e6eff4 19.5px,#fcdfcf 20.5px,#fbd0b9 21.5px,#fbe4d6 22.5px,#f9efe9 23.5px,#f7f5f4 30.5px,#f2f5f6 62.5px,#f3f5f6 64.5px,#f9ede5 65.5px,#fac8af 67.5px,#ec9374 68.5px,#f9c6ac 69.5px,#fbe5d8 70.5px,#f9ede5 71.5px,#f8f4f2 79.5px,#f6f7f7 126.5px,#eff3f5 150.5px,#ecf2f5 152.5px,#e4eef4 153.5px,#acd2e5 154.5px,#337eb8 155.5px,#6bacd1 156.5px,#deebf2 157.5px,#f8f3f0 158.5px,#f8f2ef 160.5px,#f7f6f6 179.5px,#f0f4f6 199.5px,#e9f0f4 204.5px,#f9f0eb 205.5px,#fbe6da 207.5px,#fae9df 208.5px,#f8f1ed 209.5px,#f7f5f4 223.5px)"></div>
<div style="position:absolute;left:0;top:53.00px;width:224px;height:1.60px;background:linear-gradient(90deg,#f3f5f6 0.5px,#ecf2f5 16.5px,#eaf1f5 19.5px,#fddcc9 20.5px,#fbceb7 21.5px,#fbe4d6 22.5px,#f9efe9 23.5px,#f7f5f4 30.5px,#f2f5f6 62.5px,#f5f6f7 64.5px,#fce2d2 65.5px,#f7b799 66.5px,#fdddcb 67.5px,#fddcc9 68.5px,#fbe6da 69.5px,#f9eee7 71.5px,#f7f5f4 82.5px,#f3f5f6 143.5px,#ecf2f5 152.5px,#e4eef4 153.5px,#acd2e5 154.5px,#3480b9 155.5px,#6eaed2 156.5px,#deebf2 157.5px,#f8f3f0 158.5px,#f8f2ef 160.5px,#f7f6f6 179.5px,#f2f5f6 198.5px,#e9f0f4 204.5px,#f9efe9 205.5px,#fae8de 206.5px,#fddcc9 207.5px,#f9efe9 209.5px,#f8f2ef 211.5px,#f7f5f4 223.5px)"></div>
<div style="position:absolute;left:0;top:54.00px;width:224px;height:1.60px;background:linear-gradient(90deg,#f3f5f6 0.5px,#ecf2f5 19.5px,#f7f5f4 20.5px,#fbceb7 21.5px,#fbe3d4 22.5px,#f9eee7 23.5px,#f8f3f0 26.5px,#f6f7f7 43.5px,#f0f4f6 63.5px,#f5f6f7 64.5px,#fcdfcf 65.5px,#f6af8e 66.5px,#fce0d0 67.5px,#faeae1 69.5px,#f8f1ed 73.5px,#f7f6f6 89.5px,#f3f5f6 143.5px,#ecf2f5 152.5px,#e4eef4 153.5px,#b1d5e7 154.5px,#3a87bd 155.5px,#7eb8d7 156.5px,#e1edf3 157.5px,#f8f3f0 158.5px,#f8f2ef 160.5px,#f7f6f6 179.5px,#f2f5f6 199.5px,#eaf1f5 204.5px,#f9eee7 205.5px,#fae7dc 206.5px,#fddbc7 207.5px,#fbe3d4 208.5px,#f9efe9 209.5px,#f8f2ef 211.5px,#f7f5f4 223.5px)"></div>
<div style="position:absolute;left:0;top:55.00px;width:224px;height:1.60px;background:linear-gradient(90deg,#f3f5f6 0.5px,#ecf2f5 19.5px,#f7f5f4 20.5px,#fbceb7 21.5px,#fbe3d4 22.5px,#f9eee7 23.5px,#f8f3f0 26.5px,#f6f7f7 43.5px,#f0f4f6 63.5px,#f5f6f7 64.5px,#fcdfcf 65.5px,#f6b191 66.5px,#f8bb9e 67.5px,#fbe6da 68.5px,#f9eee7 70.5px,#f8f4f2 79.5px,#f6f7f7 120.5px,#f0f4f6 148.5px,#e7f0f4 153.5px,#c2ddec 154.5px,#68abd0 155.5px,#bbdaea 156.5px,#eff3f5 157.5px,#f8f2ef 158.5px,#f7f6f6 182.5px,#f0f4f6 200.5px,#edf2f5 204.5px,#f2f5f6 205.5px,#fbe5d8 206.5px,#fcdecd 207.5px,#f9f0eb 209.5px,#f8f4f2 218.5px,#f7f5f4 223.5px)"></div>
<div style="position:absolute;left:0;top:56.00px;width:224px;height:1.60px;background:linear-gradient(90deg,#f3f5f6 0.5px,#ecf2f5 19.5px,#f7f5f4 20.5px,#fbccb4 21.5px,#fbe3d4 22.5px,#f9eee7 23.5px,#f8f3f0 27.5px,#f6f7f7 41.5px,#f0f4f6 63.5px,#f3f5f6 64.5px,#fbe3d4 65.5px,#f8bb9e 66.5px,#f9c2a7 67.5px,#fae7dc 68.5px,#f9ede5 69.5px,#f7f5f4 80.5px,#f3f5f6 143.5px,#eaf1f5 153.5px,#d4e6f1 154.5px,#a0cce2 155.5px,#e6eff4 156.5px,#f8f3f0 157.5px,#f8f1ed 159.5px,#f7f6f6 175.5px,#f2f5f6 199.5px,#edf2f5 203.5px,#f6f7f7 204.5px,#fcdfcf 206.5px,#fae9df 207.5px,#f8f1ed 209.5px,#f7f5f4 223.5px)"></div>
<div style="position:absolute;left:0;top:57.00px;width:224px;height:1.60px;background:linear-gradient(90deg,#f3f5f6 0.5px,#ecf2f5 19.5px,#f8f4f2 20.5px,#fbccb4 21.5px,#fbe3d4 22.5px,#f9eee7 23.5px,#f7f5f4 30.5px,#f2f5f6 61.5px,#f2f5f6 64.5px,#f9efe9 65.5px,#f8bb9e 66.5px,#fddbc7 67.5px,#fae9df 68.5px,#f8f1ed 72.5px,#f7f6f6 88.5px,#f3f5f6 143.5px,#eaf1f5 153.5px,#d7e8f1 154.5px,#a9d1e5 155.5px,#edf2f5 156.5px,#f8f1ed 157.5px,#f7f6f6 177.5px,#f2f5f6 199.5px,#edf2f5 203.5px,#f7f5f4 204.5px,#fae7dc 205.5px,#fcdecd 206.5px,#f9efe9 207.5px,#f8f2ef 209.5px,#f7f5f4 223.5px)"></div>
<div style="position:absolute;left:0;top:58.00px;width:224px;height:1.60px;background:linear-gradient(90deg,#f3f5f6 0.5px,#ecf2f5 19.5px,#f8f4f2 20.5px,#fbccb4 21.5px,#fbe3d4 22.5px,#f9eee7 23.5px,#f7f5f4 30.5px,#f2f5f6 60.5px,#f0f4f6 65.5px,#fbe3d4 66.5px,#f9eee7 69.5px,#f8f4f2 78.5px,#f6f7f7 119.5px,#f0f4f6 148.5px,#eaf1f5 153.5px,#d7e8f1 154.5px,#a9d1e5 155.5px,#eff3f5 156.5px,#f8f1ed 157.5px,#f7f6f6 177.5px,#f2f5f6 199.5px,#edf2f5 203.5px,#f7f5f4 204.5px,#fae8de 205.5px,#fbe6da 206.5px,#edf2f5 207.5px,#f8f4f2 209.5px,#f8f2ef 212.5px,#f7f5f4 223.5px)"></div>
<div style="position:absolute;left:0;top:59.00px;width:224px;height:1.60px;background:linear-gradient(90deg,#f3f5f6 0.5px,#ecf2f5 19.5px,#f8f4f2 20.5px,#fbccb4 21.5px,#fbe3d4 22.5px,#f9eee7 23.5px,#f7f5f4 30.5px,#f2f5f6 60.5px,#edf2f5 65.5px,#fae8de 66.5px,#f8f2ef 73.5px,#f7f6f6 91.5px,#f3f5f6 143.5px,#eaf1f5 153.5px,#d7e8f1 154.5px,#a9d1e5 155.5px,#eff3f5 156.5px,#f8f1ed 157.5px,#f7f6f6 177.5px,#f2f5f6 199.5px,#edf2f5 203.5px,#f7f5f4 204.5px,#faeae1 205.5px,#f7f6f6 206.5px,#bddbea 207.5px,#d5e7f1 208.5px,#f5f6f7 209.5px,#f8f2ef 210.5px,#f7f5f4 223.5px)"></div>
<div style="position:absolute;left:0;top:60.00px;width:224px;height:1.60px;background:linear-gradient(90deg,#f3f5f6 0.5px,#ecf2f5 19.5px,#f8f4f2 20.5px,#fbccb4 21.5px,#fbe3d4 22.5px,#f9eee7 23.5px,#f7f5f4 30.5px,#f2f5f6 60.5px,#ecf2f5 65.5px,#fae9df 66.5px,#f8f4f2 76.5px,#f6f7f7 123.5px,#f0f4f6 148.5px,#eaf1f5 153.5px,#d7e8f1 154.5px,#a9d1e5 155.5px,#eff3f5 156.5px,#f8f1ed 157.5px,#f7f6f6 177.5px,#f2f5f6 199.5px,#edf2f5 203.5px,#f7f5f4 204.5px,#f9ede5 205.5px,#f0f4f6 206.5px,#a7d0e4 207.5px,#c7e0ed 208.5px,#f2f5f6 209.5px,#f8f2ef 211.5px,#f7f5f4 223.5px)"></div>
<div style="position:absolute;left:0;top:61.00px;width:224px;height:1.60px;background:linear-gradient(90deg,#f3f5f6 0.5px,#ecf2f5 19.5px,#f7f6f6 20.5px,#fbd0b9 21.5px,#fbe3d4 22.5px,#f9eee7 23.5px,#f7f5f4 30.5px,#f2f5f6 60.5px,#e6eff4 64.5px,#faeae1 65.5px,#f8f4f2 77.5px,#f6f7f7 118.5px,#f0f4f6 148.5px,#eaf1f5 153.5px,#d7e8f1 154.5px,#a9d1e5 155.5px,#eff3f5 156.5px,#f8f1ed 157.5px,#f7f6f6 177.5px,#f2f5f6 199.5px,#edf2f5 203.5px,#f7f5f4 204.5px,#f9ede5 205.5px,#eff3f5 206.5px,#a2cde3 207.5px,#f2f5f6 209.5px,#f8f2ef 211.5px,#f7f5f4 223.5px)"></div>
<div style="position:absolute;left:0;top:62.00px;width:224px;height:1.60px;background:linear-gradient(90deg,#f3f5f6 0.5px,#eaf1f5 19.5px,#f0f4f6 20.5px,#fcdecd 21.5px,#f9eee7 23.5px,#f7f5f4 30.5px,#f2f5f6 59.5px,#ecf2f5 62.5px,#dae9f2 63.5px,#bddbea 64.5px,#f6f7f7 65.5px,#f9ede5 66.5px,#f7f5f4 80.5px,#f3f5f6 143.5px,#eaf1f5 153.5px,#d7e8f1 154.5px,#a9d1e5 155.5px,#eff3f5 156.5px,#f8f1ed 157.5px,#f7f6f6 177.5px,#f2f5f6 199.5px,#edf2f5 203.5px,#f7f5f4 204.5px,#f9ede5 205.5px,#eff3f5 206.5px,#a2cde3 207.5px,#c5dfec 208.5px,#f2f5f6 209.5px,#f8f2ef 211.5px,#f7f5f4 223.5px)"></div>
<div style="position:absolute;left:0;top:63.00px;width:224px;height:1.60px;background:linear-gradient(90deg,#f3f5f6 0.5px,#eaf1f5 18.5px,#e9f0f4 20.5px,#fae8de 21.5px,#f9f0eb 24.5px,#f7f6f6 33.5px,#f0f4f6 61.5px,#eaf1f5 62.5px,#c2ddec 63.5px,#84bcd9 64.5px,#e4eef4 65.5px,#f9efe9 66.5px,#f9eee7 68.5px,#f8f4f2 77.5px,#f6f7f7 112.5px,#f2f5f6 146.5px,#eaf1f5 153.5px,#d7e8f1 154.5px,#a9d1e5 155.5px,#eff3f5 156.5px,#f8f1ed 157.5px,#f7f6f6 177.5px,#f2f5f6 199.5px,#edf2f5 203.5px,#f7f5f4 204.5px,#f9ede5 205.5px,#eff3f5 206.5px,#a2cde3 207.5px,#c5dfec 208.5px,#f2f5f6 209.5px,#f8f2ef 211.5px,#f7f5f4 223.5px)"></div>
<div style="position:absolute;left:0;top:64.00px;width:224px;height:1.60px;background:linear-gradient(90deg,#f3f5f6 0.5px,#eaf1f5 18.5px,#e7f0f4 20.5px,#faeae1 21.5px,#f8f4f2 28.5px,#f3f5f6 54.5px,#eff3f5 61.5px,#e9f0f4 62.5px,#bddbea 63.5px,#78b4d5 64.5px,#e1edf3 65.5px,#f9f0eb 66.5px,#f9ede5 67.5px,#f8f4f2 76.5px,#f6f7f7 117.5px,#f0f4f6 148.5px,#eaf1f5 153.5px,#d7e8f1 154.5px,#a9d1e5 155.5px,#eff3f5 156.5px,#f8f1ed 157.5px,#f7f6f6 177.5px,#f2f5f6 199.5px,#edf2f5 203.5px,#f7f5f4 204.5px,#f9ede5 205.5px,#eff3f5 206.5px,#a2cde3 207.5px,#c5dfec 208.5px,#f2f5f6 209.5px,#f8f2ef 211.5px,#f7f5f4 223.5px)"></div>
<div style="position:absolute;left:0;top:65.00px;width:224px;height:1.60px;background:linear-gradient(90deg,#f3f5f6 0.5px,#eaf1f5 18.5px,#e7f0f4 20.5px,#faeae1 21.5px,#f8f4f2 28.5px,#f3f5f6 54.5px,#eff3f5 61.5px,#e9f0f4 62.5px,#bddbea 63.5px,#b1d5e7 64.5px,#e0ecf3 65.5px,#f9f0eb 66.5px,#f9efe9 68.5px,#f7f5f4 80.5px,#f3f5f6 143.5px,#eaf1f5 153.5px,#d7e8f1 154.5px,#a9d1e5 155.5px,#eff3f5 156.5px,#f8f1ed 157.5px,#f7f6f6 177.5px,#f2f5f6 199.5px,#edf2f5 203.5px,#f7f5f4 204.5px,#f9ede5 205.5px,#eff3f5 206.5px,#a5cee3 207.5px,#c7e0ed 208.5px,#f2f5f6 209.5px,#f8f2ef 211.5px,#f7f5f4 223.5px)"></div>
<div style="position:absolute;left:0;top:66.00px;width:224px;height:1.60px;background:linear-gradient(90deg,#f3f5f6 0.5px,#eaf1f5 18.5px,#e7f0f4 20.5px,#faeae1 21.5px,#f8f4f2 28.5px,#f3f5f6 54.5px,#eff3f5 61.5px,#e9f0f4 62.5px,#c2ddec 63.5px,#bbdaea 64.5px,#e3edf3 65.5px,#f9f0eb 66.5px,#f9efe9 68.5px,#f7f5f4 80.5px,#f3f5f6 143.5px,#eaf1f5 153.5px,#d8e9f1 154.5px,#b1d5e7 155.5px,#f0f4f6 156.5px,#f8f1ed 157.5px,#f7f6f6 177.5px,#f2f5f6 199.5px,#edf2f5 203.5px,#f7f5f4 204.5px,#f9ebe3 205.5px,#f3f5f6 206.5px,#b1d5e7 207.5px,#cfe4ef 208.5px,#f3f5f6 209.5px,#f8f2ef 211.5px,#f7f5f4 223.5px)"></div>
<div style="position:absolute;left:0;top:67.00px;width:224px;height:1.60px;background:linear-gradient(90deg,#f3f5f6 0.5px,#ecf2f5 17.5px,#e9f0f4 20.5px,#fae9df 21.5px,#f8f1ed 25.5px,#f7f6f6 35.5px,#f0f4f6 60.5px,#eaf1f5 62.5px,#d8e9f1 63.5px,#f3f5f6 65.5px,#f9efe9 66.5px,#f8f1ed 70.5px,#f7f6f6 86.5px,#f3f5f6 143.5px,#eaf1f5 153.5px,#e0ecf3 154.5px,#f7f5f4 156.5px,#f9f0eb 157.5px,#f7f6f6 174.5px,#f2f5f6 199.5px,#edf2f5 203.5px,#f7f5f4 204.5px,#fae9df 205.5px,#f9ede5 206.5px,#ddebf2 207.5px,#e4eef4 208.5px,#f7f6f6 209.5px,#f8f2ef 210.5px,#f7f5f4 223.5px)"></div>
<div style="position:absolute;left:0;top:68.00px;width:224px;height:1.60px;background:linear-gradient(90deg,#f3f5f6 0.5px,#ecf2f5 17.5px,#ecf2f5 20.5px,#fbe6da 21.5px,#f9f0eb 24.5px,#f7f6f6 33.5px,#f0f4f6 60.5px,#e9f0f4 63.5px,#f9efe9 64.5px,#f9eee7 67.5px,#f7f5f4 78.5px,#f3f5f6 143.5px,#e9f0f4 154.5px,#ecf2f5 155.5px,#f9eee7 156.5px,#f8f4f2 164.5px,#f3f5f6 197.5px,#edf2f5 203.5px,#f7f5f4 204.5px,#fbe6da 205.5px,#fce0d0 206.5px,#f8f3f0 207.5px,#f8f4f2 222.5px,#f7f5f4 223.5px)"></div>
<div style="position:absolute;left:0;top:69.00px;width:224px;height:1.60px;background:linear-gradient(90deg,#f3f5f6 0.5px,#ecf2f5 18.5px,#f2f5f6 19.5px,#f9efe9 20.5px,#f8bb9e 21.5px,#fbd0b9 22.5px,#fae7dc 23.5px,#f9efe9 24.5px,#f7f5f4 31.5px,#f0f4f6 59.5px,#eff3f5 63.5px,#fae9df 64.5px,#f8f2ef 71.5px,#f7f6f6 88.5px,#f3f5f6 143.5px,#ecf2f5 154.5px,#f7f6f6 155.5px,#faeae1 156.5px,#f9f0eb 157.5px,#f7f6f6 174.5px,#f2f5f6 199.5px,#edf2f5 203.5px,#f7f5f4 204.5px,#fbe6da 205.5px,#fdddcb 206.5px,#f9ede5 207.5px,#f8f2ef 209.5px,#f7f5f4 223.5px)"></div>
<div style="position:absolute;left:0;top:70.00px;width:224px;height:1.60px;background:linear-gradient(90deg,#f3f5f6 0.5px,#edf2f5 18.5px,#f9f0eb 19.5px,#f6b394 20.5px,#b61f2e 21.5px,#da6853 22.5px,#fcd3bc 23.5px,#f9ede5 24.5px,#f8f2ef 26.5px,#f7f6f6 37.5px,#f0f4f6 59.5px,#f2f5f6 61.5px,#f9f0eb 62.5px,#fdd9c4 63.5px,#fae8de 64.5px,#f9f0eb 68.5px,#f7f5f4 80.5px,#f3f5f6 143.5px,#ecf2f5 153.5px,#deebf2 155.5px,#f6f7f7 156.5px,#f8f2ef 157.5px,#f8f4f2 166.5px,#f3f5f6 197.5px,#edf2f5 203.5px,#f7f5f4 204.5px,#fbe5d8 205.5px,#fdd9c4 206.5px,#fbe6da 207.5px,#f9eee7 208.5px,#f8f2ef 210.5px,#f7f5f4 223.5px)"></div>
<div style="position:absolute;left:0;top:71.00px;width:224px;height:1.60px;background:linear-gradient(90deg,#f3f5f6 0.5px,#ecf2f5 17.5px,#eff3f5 18.5px,#f9ebe3 19.5px,#e98b6e 20.5px,#700320 21.5px,#bf3338 22.5px,#f9c6ac 23.5px,#f9ebe3 24.5px,#f8f1ed 25.5px,#f7f6f6 35.5px,#f0f4f6 59.5px,#f3f5f6 61.5px,#fbe6da 62.5px,#f9c6ac 63.5px,#fbe6da 64.5px,#f9eee7 66.5px,#f8f4f2 75.5px,#f6f7f7 116.5px,#f2f5f6 146.5px,#eaf1f5 153.5px,#dae9f2 154.5px,#a2cde3 155.5px,#d4e6f1 156.5px,#f6f7f7 157.5px,#f8f1ed 158.5px,#f7f6f6 176.5px,#f2f5f6 199.5px,#edf2f5 203.5px,#f7f5f4 204.5px,#fbe4d6 205.5px,#f8bb9e 206.5px,#f8bb9e 207.5px,#fcdfcf 208.5px,#f9efe9 209.5px,#f8f2ef 211.5px,#f7f5f4 223.5px)"></div>
<div style="position:absolute;left:0;top:72.00px;width:224px;height:1.60px;background:linear-gradient(90deg,#f3f5f6 0.5px,#ecf2f5 17.5px,#eff3f5 18.5px,#faeae1 19.5px,#e6866a 20.5px,#67001f 21.5px,#bd2d35 22.5px,#f9c4a9 23.5px,#f9ebe3 24.5px,#f8f1ed 25.5px,#f7f6f6 35.5px,#f0f4f6 59.5px,#f3f5f6 61.5px,#fae8de 62.5px,#fbccb4 63.5px,#fae7dc 64.5px,#f9ede5 65.5px,#f8f4f2 75.5px,#f6f7f7 110.5px,#f2f5f6 146.5px,#eaf1f5 153.5px,#d7e8f1 154.5px,#93c6de 155.5px,#cce2ef 156.5px,#f7f6f6 157.5px,#f9f0eb 158.5px,#f7f5f4 170.5px,#f3f5f6 197.5px,#edf2f5 203.5px,#f7f5f4 204.5px,#fce2d2 205.5px,#f4a683 206.5px,#e98b6e 207.5px,#fbccb4 208.5px,#f9eee7 209.5px,#f8f2ef 210.5px,#f7f5f4 223.5px)"></div>
<div style="position:absolute;left:0;top:73.00px;width:224px;height:1.60px;background:linear-gradient(90deg,#f3f5f6 0.5px,#ecf2f5 17.5px,#eff3f5 18.5px,#faeae1 19.5px,#e6866a 20.5px,#67001f 21.5px,#bb2a34 22.5px,#f9c4a9 23.5px,#f9ebe3 24.5px,#f8f1ed 25.5px,#f7f6f6 35.5px,#f0f4f6 59.5px,#f0f4f6 61.5px,#f7f6f6 62.5px,#fce0d0 63.5px,#fae9df 64.5px,#f9f0eb 68.5px,#f7f6f6 82.5px,#f3f5f6 143.5px,#eaf1f5 153.5px,#e0ecf3 154.5px,#c0dceb 155.5px,#eaf1f5 156.5px,#fae9df 157.5px,#f8f1ed 159.5px,#f7f6f6 176.5px,#f2f5f6 199.5px,#edf2f5 203.5px,#f7f5f4 204.5px,#fbe4d6 205.5px,#f8bda1 206.5px,#f8bfa4 207.5px,#fcdfcf 208.5px,#f9efe9 209.5px,#f8f2ef 211.5px,#f7f5f4 223.5px)"></div>
<div style="position:absolute;left:0;top:74.00px;width:224px;height:1.60px;background:linear-gradient(90deg,#f3f5f6 0.5px,#ecf2f5 17.5px,#eff3f5 18.5px,#faeae1 19.5px,#e6866a 20.5px,#67001f 21.5px,#bb2a34 22.5px,#f9c4a9 23.5px,#f9ebe3 24.5px,#f8f1ed 25.5px,#f7f6f6 35.5px,#f0f4f6 58.5px,#eff3f5 62.5px,#fae7dc 63.5px,#f9efe9 67.5px,#f7f5f4 79.5px,#f3f5f6 144.5px,#e9f0f4 154.5px,#e3edf3 155.5px,#faeae1 156.5px,#fddbc7 157.5px,#f9f0eb 159.5px,#f7f5f4 169.5px,#f3f5f6 197.5px,#edf2f5 203.5px,#f7f5f4 204.5px,#fbe6da 205.5px,#fddcc9 206.5px,#f9efe9 207.5px,#f8f2ef 208.5px,#f7f5f4 223.5px)"></div>
<div style="position:absolute;left:0;top:75.00px;width:224px;height:1.60px;background:linear-gradient(90deg,#f3f5f6 0.5px,#ecf2f5 17.5px,#eff3f5 18.5px,#faeae1 19.5px,#e6866a 20.5px,#67001f 21.5px,#bb2a34 22.5px,#f9c4a9 23.5px,#f9ebe3 24.5px,#f8f1ed 25.5px,#f7f6f6 35.5px,#f0f4f6 58.5px,#e7f0f4 60.5px,#f6f7f7 62.5px,#fbe3d4 63.5px,#f9ede5 65.5px,#f7f5f4 76.5px,#f3f5f6 144.5px,#eaf1f5 155.5px,#fbe6da 156.5px,#fdd9c4 157.5px,#fae7dc 158.5px,#f9f0eb 159.5px,#f7f5f4 169.5px,#f3f5f6 197.5px,#edf2f5 203.5px,#f7f5f4 204.5px,#fbe6da 205.5px,#fce2d2 206.5px,#f0f4f6 207.5px,#f5f6f7 208.5px,#f8f2ef 209.5px,#f7f5f4 223.5px)"></div>
<div style="position:absolute;left:0;top:76.00px;width:224px;height:1.60px;background:linear-gradient(90deg,#f3f5f6 0.5px,#ecf2f5 17.5px,#eff3f5 18.5px,#faeae1 19.5px,#e6866a 20.5px,#67001f 21.5px,#bb2a34 22.5px,#f9c4a9 23.5px,#f9ebe3 24.5px,#f8f1ed 25.5px,#f7f6f6 35.5px,#f2f5f6 57.5px,#eff3f5 58.5px,#deebf2 59.5px,#c7e0ed 60.5px,#ecf2f5 61.5px,#fdddcb 62.5px,#f8bda1 63.5px,#fce2d2 64.5px,#f9ebe3 65.5px,#f8f3f0 72.5px,#f7f6f6 91.5px,#f3f5f6 144.5px,#e9f0f4 156.5px,#fae8de 157.5px,#f8f1ed 159.5px,#f7f6f6 177.5px,#f2f5f6 199.5px,#edf2f5 203.5px,#f7f5f4 204.5px,#fbe6da 205.5px,#fbe3d4 206.5px,#edf2f5 207.5px,#f3f5f6 208.5px,#f8f2ef 209.5px,#f7f5f4 223.5px)"></div>
<div style="position:absolute;left:0;top:77.00px;width:224px;height:1.60px;background:linear-gradient(90deg,#f3f5f6 0.5px,#ecf2f5 17.5px,#eff3f5 18.5px,#faeae1 19.5px,#e6866a 20.5px,#67001f 21.5px,#bd2d35 22.5px,#f9c4a9 23.5px,#f9ebe3 24.5px,#f8f1ed 25.5px,#f7f6f6 35.5px,#f2f5f6 57.5px,#ecf2f5 58.5px,#cfe4ef 59.5px,#98c8e0 60.5px,#ecf2f5 61.5px,#f5aa89 62.5px,#e8896c 63.5px,#fddbc7 64.5px,#faeae1 65.5px,#f8f1ed 69.5px,#f7f6f6 83.5px,#f3f5f6 144.5px,#ecf2f5 154.5px,#e4eef4 155.5px,#c2ddec 156.5px,#d5e7f1 157.5px,#eff3f5 158.5px,#f8f2ef 159.5px,#f6f7f7 186.5px,#eff3f5 201.5px,#edf2f5 203.5px,#f7f5f4 204.5px,#fbe6da 205.5px,#fbe3d4 206.5px,#edf2f5 207.5px,#f3f5f6 208.5px,#f8f2ef 209.5px,#f7f5f4 223.5px)"></div>
<div style="position:absolute;left:0;top:78.00px;width:224px;height:1.60px;background:linear-gradient(90deg,#f3f5f6 0.5px,#ecf2f5 17.5px,#eff3f5 18.5px,#faeae1 19.5px,#e98b6e 20.5px,#730421 21.5px,#c2383a 22.5px,#fac8af 23.5px,#f9ebe3 24.5px,#f8f1ed 25.5px,#f7f6f6 35.5px,#f2f5f6 57.5px,#ecf2f5 58.5px,#cae1ee 59.5px,#8ac0db 60.5px,#ecf2f5 61.5px,#f19e7d 62.5px,#e27b62 63.5px,#fcd7c2 64.5px,#faeae1 65.5px,#f8f1ed 69.5px,#f7f6f6 83.5px,#f3f5f6 144.5px,#ecf2f5 154.5px,#e1edf3 155.5px,#a7d0e4 156.5px,#acd2e5 157.5px,#e4eef4 158.5px,#f8f2ef 159.5px,#f6f7f7 186.5px,#eff3f5 201.5px,#edf2f5 203.5px,#f7f5f4 204.5px,#fbe6da 205.5px,#fbe3d4 206.5px,#edf2f5 207.5px,#f3f5f6 208.5px,#f8f2ef 209.5px,#f7f5f4 223.5px)"></div>
<div style="position:absolute;left:0;top:79.00px;width:224px;height:1.60px;background:linear-gradient(90deg,#f3f5f6 0.5px,#ecf2f5 17.5px,#f0f4f6 18.5px,#faeae1 19.5px,#f2a17f 20.5px,#b3192c 21.5px,#df765e 22.5px,#fdd9c4 23.5px,#f9ede5 24.5px,#f8f2ef 26.5px,#f7f6f6 37.5px,#f2f5f6 57.5px,#ecf2f5 58.5px,#cae1ee 59.5px,#8ac0db 60.5px,#ecf2f5 61.5px,#f19e7d 62.5px,#e27b62 63.5px,#fcd7c2 64.5px,#faeae1 65.5px,#f8f1ed 69.5px,#f7f6f6 83.5px,#f3f5f6 145.5px,#ecf2f5 154.5px,#e1edf3 155.5px,#a5cee3 156.5px,#a7d0e4 157.5px,#e3edf3 158.5px,#f8f2ef 159.5px,#f8f4f2 168.5px,#f3f5f6 197.5px,#edf2f5 203.5px,#f7f5f4 204.5px,#fbe6da 205.5px,#fbe3d4 206.5px,#edf2f5 207.5px,#f3f5f6 208.5px,#f8f2ef 209.5px,#f7f5f4 223.5px)"></div>
<div style="position:absolute;left:0;top:80.00px;width:224px;height:1.60px;background:linear-gradient(90deg,#f3f5f6 0.5px,#ecf2f5 17.5px,#f0f4f6 18.5px,#faeae1 19.5px,#f6b394 20.5px,#d25849 21.5px,#f5ac8b 22.5px,#fbe4d6 23.5px,#f9efe9 24.5px,#f7f5f4 31.5px,#f2f5f6 57.5px,#ecf2f5 58.5px,#cae1ee 59.5px,#8ac0db 60.5px,#eaf1f5 61.5px,#f09c7b 62.5px,#e27b62 63.5px,#fcd7c2 64.5px,#faeae1 65.5px,#f8f1ed 69.5px,#f7f6f6 83.5px,#f3f5f6 145.5px,#ecf2f5 154.5px,#e3edf3 155.5px,#a9d1e5 156.5px,#acd2e5 157.5px,#e6eff4 158.5px,#f8f2ef 159.5px,#f8f4f2 168.5px,#f3f5f6 197.5px,#edf2f5 203.5px,#f7f5f4 204.5px,#fbe6da 205.5px,#fbe3d4 206.5px,#edf2f5 207.5px,#f3f5f6 208.5px,#f8f2ef 209.5px,#f7f5f4 223.5px)"></div>
<div style="position:absolute;left:0;top:81.00px;width:224px;height:1.60px;background:linear-gradient(90deg,#f3f5f6 0.5px,#ecf2f5 17.5px,#f0f4f6 18.5px,#faeae1 19.5px,#f7b799 20.5px,#d86551 21.5px,#f7b596 22.5px,#fbe6da 23.5px,#f9efe9 24.5px,#f7f5f4 31.5px,#f2f5f6 57.5px,#ecf2f5 58.5px,#cae1ee 59.5px,#8ac0db 60.5px,#eaf1f5 61.5px,#f19e7d 62.5px,#e27b62 63.5px,#fcd7c2 64.5px,#faeae1 65.5px,#f8f1ed 69.5px,#f7f6f6 83.5px,#f3f5f6 145.5px,#ecf2f5 154.5px,#e6eff4 155.5px,#acd2e5 157.5px,#f2f5f6 158.5px,#f9ede5 159.5px,#f8f2ef 163.5px,#f7f6f6 180.5px,#f0f4f6 200.5px,#edf2f5 203.5px,#f7f5f4 204.5px,#fbe6da 205.5px,#fbe3d4 206.5px,#eff3f5 207.5px,#f5f6f7 208.5px,#f8f2ef 209.5px,#f7f5f4 223.5px)"></div>
<div style="position:absolute;left:0;top:82.00px;width:224px;height:1.60px;background:linear-gradient(90deg,#f3f5f6 0.5px,#ecf2f5 17.5px,#f0f4f6 18.5px,#faeae1 19.5px,#f7b799 20.5px,#da6853 21.5px,#f7b799 22.5px,#fbe6da 23.5px,#f9efe9 24.5px,#f7f5f4 31.5px,#f2f5f6 57.5px,#ecf2f5 58.5px,#cae1ee 59.5px,#8ac0db 60.5px,#eaf1f5 61.5px,#f19e7d 62.5px,#e27b62 63.5px,#fcd7c2 64.5px,#faeae1 65.5px,#f9f0eb 67.5px,#f7f5f4 79.5px,#f3f5f6 145.5px,#eaf1f5 155.5px,#deebf2 157.5px,#fae9df 158.5px,#fcdecd 159.5px,#faeae1 160.5px,#f8f1ed 161.5px,#f7f6f6 177.5px,#f2f5f6 199.5px,#edf2f5 203.5px,#f7f5f4 204.5px,#fbe6da 205.5px,#fce0d0 206.5px,#f7f6f6 207.5px,#f8f2ef 210.5px,#f7f5f4 223.5px)"></div>
<div style="position:absolute;left:0;top:83.00px;width:224px;height:1.60px;background:linear-gradient(90deg,#f3f5f6 0.5px,#ecf2f5 17.5px,#f0f4f6 18.5px,#faeae1 19.5px,#f7b799 20.5px,#da6853 21.5px,#f7b799 22.5px,#fbe6da 23.5px,#f9efe9 24.5px,#f7f5f4 31.5px,#f2f5f6 57.5px,#ecf2f5 58.5px,#cae1ee 59.5px,#8ac0db 60.5px,#eaf1f5 61.5px,#f19e7d 62.5px,#e27b62 63.5px,#fcd7c2 64.5px,#faeae1 65.5px,#f9f0eb 67.5px,#f7f5f4 79.5px,#f3f5f6 145.5px,#e9f0f4 157.5px,#fce2d2 158.5px,#fbd0b9 159.5px,#fae7dc 160.5px,#f9f0eb 161.5px,#f7f5f4 171.5px,#f3f5f6 197.5px,#edf2f5 203.5px,#f7f5f4 204.5px,#fbe6da 205.5px,#fdddcb 206.5px,#f9efe9 207.5px,#f8f2ef 209.5px,#f7f5f4 223.5px)"></div>
<div style="position:absolute;left:0;top:84.00px;width:224px;height:1.60px;background:linear-gradient(90deg,#f3f5f6 0.5px,#ecf2f5 17.5px,#f0f4f6 18.5px,#faeae1 19.5px,#f7b799 20.5px,#db6b55 21.5px,#f7b799 22.5px,#fbe6da 23.5px,#f9efe9 24.5px,#f7f5f4 31.5px,#f0f4f6 57.5px,#ecf2f5 58.5px,#cae1ee 59.5px,#8ac0db 60.5px,#eaf1f5 61.5px,#f19e7d 62.5px,#e27b62 63.5px,#fcd7c2 64.5px,#faeae1 65.5px,#f9f0eb 67.5px,#f7f5f4 79.5px,#f3f5f6 146.5px,#e9f0f4 157.5px,#fae7dc 158.5px,#fdd9c4 159.5px,#fae8de 160.5px,#f9f0eb 161.5px,#f7f5f4 171.5px,#f3f5f6 197.5px,#edf2f5 203.5px,#f7f5f4 204.5px,#fbe6da 205.5px,#fdddcb 206.5px,#f9eee7 207.5px,#f8f2ef 209.5px,#f7f5f4 223.5px)"></div>
<div style="position:absolute;left:0;top:85.00px;width:224px;height:1.60px;background:linear-gradient(90deg,#f3f5f6 0.5px,#ecf2f5 17.5px,#f0f4f6 18.5px,#f9ebe3 19.5px,#f7b799 20.5px,#db6b55 21.5px,#f7b99c 22.5px,#fbe6da 23.5px,#f9f0eb 24.5px,#f7f6f6 33.5px,#f0f4f6 57.5px,#ecf2f5 58.5px,#cae1ee 59.5px,#8ac0db 60.5px,#eaf1f5 61.5px,#f19e7d 62.5px,#e27b62 63.5px,#fcd7c2 64.5px,#faeae1 65.5px,#f9f0eb 67.5px,#f7f5f4 79.5px,#f3f5f6 146.5px,#eaf1f5 156.5px,#e3edf3 157.5px,#f8f4f2 159.5px,#f9eee7 160.5px,#f8f1ed 162.5px,#f7f6f6 178.5px,#f2f5f6 199.5px,#edf2f5 203.5px,#f7f5f4 204.5px,#fbe6da 205.5px,#fdddcb 206.5px,#f9eee7 207.5px,#f8f2ef 209.5px,#f7f5f4 223.5px)"></div>
<div style="position:absolute;left:0;top:86.00px;width:224px;height:1.60px;background:linear-gradient(90deg,#f3f5f6 0.5px,#ecf2f5 17.5px,#f0f4f6 18.5px,#f9ebe3 19.5px,#f7b799 20.5px,#db6b55 21.5px,#f7b99c 22.5px,#fbe6da 23.5px,#f9f0eb 24.5px,#f7f6f6 33.5px,#f0f4f6 57.5px,#ecf2f5 58.5px,#cae1ee 59.5px,#8ac0db 60.5px,#eaf1f5 61.5px,#f19e7d 62.5px,#e27b62 63.5px,#fdd9c4 64.5px,#faeae1 65.5px,#f9f0eb 67.5px,#f7f5f4 79.5px,#f3f5f6 146.5px,#eaf1f5 156.5px,#ddebf2 157.5px,#a2cde3 158.5px,#e0ecf3 159.5px,#f8f2ef 160.5px,#f8f4f2 169.5px,#f3f5f6 197.5px,#edf2f5 203.5px,#f7f5f4 204.5px,#fbe6da 205.5px,#fdddcb 206.5px,#f9eee7 207.5px,#f8f2ef 209.5px,#f7f5f4 223.5px)"></div>
<div style="position:absolute;left:0;top:87.00px;width:224px;height:1.60px;background:linear-gradient(90deg,#f3f5f6 0.5px,#ecf2f5 17.5px,#eff3f5 18.5px,#f9ebe3 19.5px,#f7b99c 20.5px,#db6b55 21.5px,#f7b99c 22.5px,#fbe6da 23.5px,#f9f0eb 24.5px,#f7f6f6 33.5px,#f0f4f6 57.5px,#ecf2f5 58.5px,#cae1ee 59.5px,#8ac0db 60.5px,#eaf1f5 61.5px,#f19e7d 62.5px,#e27b62 63.5px,#fdd9c4 64.5px,#faeae1 65.5px,#f9f0eb 67.5px,#f7f5f4 79.5px,#f3f5f6 146.5px,#eaf1f5 156.5px,#ddebf2 157.5px,#9bc9e0 158.5px,#dbeaf2 159.5px,#f8f3f0 160.5px,#f9f0eb 161.5px,#f7f5f4 173.5px,#f2f5f6 199.5px,#edf2f5 203.5px,#f7f5f4 204.5px,#fbe6da 205.5px,#fdddcb 206.5px,#f9eee7 207.5px,#f8f2ef 209.5px,#f7f5f4 223.5px)"></div>
<div style="position:absolute;left:0;top:88.00px;width:224px;height:1.60px;background:linear-gradient(90deg,#f3f5f6 0.5px,#ecf2f5 17.5px,#eff3f5 18.5px,#f9ede5 19.5px,#f8bb9e 20.5px,#db6b55 21.5px,#f7b99c 22.5px,#fbe6da 23.5px,#f9f0eb 24.5px,#f7f5f4 31.5px,#f0f4f6 57.5px,#ecf2f5 58.5px,#cae1ee 59.5px,#8ac0db 60.5px,#eaf1f5 61.5px,#f19e7d 62.5px,#e27b62 63.5px,#fdd9c4 64.5px,#faeae1 65.5px,#f8f1ed 68.5px,#f7f6f6 84.5px,#f3f5f6 146.5px,#ecf2f5 156.5px,#deebf2 157.5px,#a2cde3 158.5px,#deebf2 159.5px,#f8f2ef 160.5px,#f8f1ed 162.5px,#f7f6f6 178.5px,#f2f5f6 199.5px,#edf2f5 203.5px,#f7f5f4 204.5px,#fbe6da 205.5px,#fdddcb 206.5px,#f9eee7 207.5px,#f8f2ef 209.5px,#f7f5f4 223.5px)"></div>
<div style="position:absolute;left:0;top:89.00px;width:224px;height:1.60px;background:linear-gradient(90deg,#f3f5f6 0.5px,#ecf2f5 16.5px,#e7f0f4 18.5px,#f5f6f7 19.5px,#facab1 20.5px,#dd7059 21.5px,#f7b99c 22.5px,#fae7dc 23.5px,#f9f0eb 24.5px,#f7f5f4 31.5px,#f0f4f6 57.5px,#ecf2f5 58.5px,#cae1ee 59.5px,#8ac0db 60.5px,#eaf1f5 61.5px,#f19e7d 62.5px,#e37e64 63.5px,#fdd9c4 64.5px,#f9ebe3 65.5px,#f8f1ed 69.5px,#f7f6f6 83.5px,#f3f5f6 147.5px,#ecf2f5 156.5px,#e4eef4 157.5px,#cae1ee 158.5px,#eff3f5 159.5px,#f8f1ed 160.5px,#f7f6f6 182.5px,#f0f4f6 200.5px,#edf2f5 203.5px,#f7f5f4 204.5px,#fbe6da 205.5px,#fdddcb 206.5px,#f9eee7 207.5px,#f8f2ef 209.5px,#f7f5f4 223.5px)"></div>
<div style="position:absolute;left:0;top:90.00px;width:224px;height:1.60px;background:linear-gradient(90deg,#f3f5f6 0.5px,#ecf2f5 16.5px,#e7f0f4 17.5px,#c5dfec 18.5px,#90c4dd 19.5px,#f6f7f7 20.5px,#e58368 21.5px,#f8bb9e 22.5px,#fae7dc 23.5px,#f9f0eb 24.5px,#f7f5f4 31.5px,#f0f4f6 57.5px,#ecf2f5 58.5px,#cfe4ef 59.5px,#96c7df 60.5px,#ecf2f5 61.5px,#f5ac8b 62.5px,#e98b6e 63.5px,#fddbc7 64.5px,#f9ebe3 65.5px,#f8f1ed 69.5px,#f7f6f6 83.5px,#f3f5f6 147.5px,#eaf1f5 157.5px,#e4eef4 158.5px,#f9f0eb 159.5px,#f9ede5 160.5px,#f8f3f0 166.5px,#f6f7f7 190.5px,#edf2f5 203.5px,#f7f5f4 204.5px,#fbccb4 205.5px,#f9eee7 207.5px,#f8f2ef 209.5px,#f7f5f4 223.5px)"></div>
<div style="position:absolute;left:0;top:91.00px;width:224px;height:1.60px;background:linear-gradient(90deg,#f3f5f6 0.5px,#ecf2f5 16.5px,#e4eef4 17.5px,#93c6de 18.5px,#1f63a8 19.5px,#aed3e6 20.5px,#f2a17f 21.5px,#f9c2a7 22.5px,#fae8de 23.5px,#f9f0eb 24.5px,#f7f5f4 31.5px,#f2f5f6 57.5px,#eff3f5 58.5px,#c7e0ed 60.5px,#ecf2f5 61.5px,#fdddcb 62.5px,#f8bda1 63.5px,#fbe3d4 64.5px,#f9ebe3 65.5px,#f8f1ed 68.5px,#f7f6f6 84.5px,#f3f5f6 147.5px,#ecf2f5 158.5px,#f2f5f6 159.5px,#fcdecd 160.5px,#fce2d2 161.5px,#f9ede5 162.5px,#f8f2ef 164.5px,#f7f6f6 183.5px,#f0f4f6 200.5px,#edf2f5 203.5px,#f7f5f4 204.5px,#facab1 205.5px,#fddcc9 206.5px,#f9eee7 207.5px,#f8f2ef 209.5px,#f7f5f4 223.5px)"></div>
<div style="position:absolute;left:0;top:92.00px;width:224px;height:1.60px;background:linear-gradient(90deg,#f3f5f6 0.5px,#ecf2f5 16.5px,#e3edf3 17.5px,#84bcd9 18.5px,#0c3d73 19.5px,#a5cee3 20.5px,#fddbc7 21.5px,#fdddcb 22.5px,#f9ebe3 23.5px,#f8f1ed 24.5px,#f7f6f6 34.5px,#f0f4f6 58.5px,#e7f0f4 60.5px,#f5f6f7 62.5px,#fbe4d6 63.5px,#f9ede5 65.5px,#f8f4f2 73.5px,#f6f7f7 120.5px,#f2f5f6 150.5px,#ecf2f5 157.5px,#eff3f5 158.5px,#faeae1 159.5px,#f19e7d 160.5px,#f6b394 161.5px,#fbe4d6 162.5px,#f9f0eb 163.5px,#f7f5f4 173.5px,#f2f5f6 199.5px,#edf2f5 203.5px,#f8f3f0 204.5px,#f8bfa4 205.5px,#fcd7c2 206.5px,#f9ede5 207.5px,#f8f2ef 209.5px,#f7f5f4 223.5px)"></div>
<div style="position:absolute;left:0;top:93.00px;width:224px;height:1.60px;background:linear-gradient(90deg,#f3f5f6 0.5px,#ecf2f5 16.5px,#e4eef4 17.5px,#8ac0db 18.5px,#0d3f76 19.5px,#7bb6d6 20.5px,#f8f4f2 21.5px,#f9ebe3 22.5px,#f8f3f0 26.5px,#f6f7f7 40.5px,#eff3f5 59.5px,#edf2f5 62.5px,#fae9df 63.5px,#f8f2ef 70.5px,#f7f6f6 87.5px,#f3f5f6 147.5px,#ecf2f5 157.5px,#f2f5f6 158.5px,#fbe4d6 159.5px,#e27b62 160.5px,#ef9979 161.5px,#fce0d0 162.5px,#f9efe9 163.5px,#f8f2ef 165.5px,#f7f6f6 182.5px,#f0f4f6 200.5px,#eff3f5 203.5px,#f9ebe3 204.5px,#ee9677 205.5px,#f8bda1 206.5px,#faeae1 207.5px,#f8f1ed 208.5px,#f7f5f4 223.5px)"></div>
<div style="position:absolute;left:0;top:94.00px;width:224px;height:1.60px;background:linear-gradient(90deg,#f3f5f6 0.5px,#ecf2f5 16.5px,#e7f0f4 17.5px,#bddbea 18.5px,#4f9bc7 19.5px,#c7e0ed 20.5px,#f8f3f0 21.5px,#f9eee7 22.5px,#f7f5f4 30.5px,#f0f4f6 58.5px,#ecf2f5 62.5px,#fae9df 63.5px,#f8f2ef 70.5px,#f7f6f6 87.5px,#f3f5f6 147.5px,#ecf2f5 157.5px,#f2f5f6 158.5px,#fbe3d4 159.5px,#df765e 160.5px,#ee9677 161.5px,#fcdfcf 162.5px,#f9efe9 163.5px,#f8f2ef 165.5px,#f6f7f7 187.5px,#eff3f5 201.5px,#eff3f5 203.5px,#faeae1 204.5px,#ea8e70 205.5px,#f7b99c 206.5px,#fae9df 207.5px,#f8f1ed 208.5px,#f7f5f4 223.5px)"></div>
<div style="position:absolute;left:0;top:95.00px;width:224px;height:1.60px;background:linear-gradient(90deg,#f3f5f6 0.5px,#ecf2f5 16.5px,#e3edf3 18.5px,#d5e7f1 19.5px,#f8f2ef 20.5px,#f9eee7 21.5px,#f7f6f6 32.5px,#f0f4f6 58.5px,#ecf2f5 62.5px,#fae9df 63.5px,#f8f2ef 70.5px,#f7f6f6 87.5px,#f3f5f6 148.5px,#ecf2f5 157.5px,#f2f5f6 158.5px,#fbe4d6 159.5px,#e17860 160.5px,#ef9979 161.5px,#fce0d0 162.5px,#f9efe9 163.5px,#f8f3f0 167.5px,#f6f7f7 191.5px,#edf2f5 203.5px,#f7f6f6 204.5px,#fcd3bc 205.5px,#fcdfcf 206.5px,#f9eee7 207.5px,#f8f2ef 209.5px,#f7f5f4 223.5px)"></div>
<div style="position:absolute;left:0;top:96.00px;width:224px;height:1.60px;background:linear-gradient(90deg,#f3f5f6 0.5px,#ecf2f5 16.5px,#e6eff4 19.5px,#faeae1 20.5px,#f8f3f0 27.5px,#f6f7f7 39.5px,#eff3f5 60.5px,#ecf2f5 62.5px,#fae9df 63.5px,#f8f2ef 70.5px,#f7f6f6 87.5px,#f3f5f6 148.5px,#edf2f5 157.5px,#f0f4f6 158.5px,#faeae1 159.5px,#f09c7b 160.5px,#f6b191 161.5px,#fbe4d6 162.5px,#f9efe9 163.5px,#f8f3f0 167.5px,#f6f7f7 191.5px,#ecf2f5 204.5px,#f9ebe3 205.5px,#f8f2ef 209.5px,#f7f5f4 223.5px)"></div>
<div style="position:absolute;left:0;top:97.00px;width:224px;height:1.60px;background:linear-gradient(90deg,#f3f5f6 0.5px,#ecf2f5 16.5px,#e7f0f4 19.5px,#fae9df 20.5px,#f8f3f0 26.5px,#f6f7f7 40.5px,#eff3f5 60.5px,#ecf2f5 62.5px,#fae9df 63.5px,#f8f2ef 70.5px,#f7f6f6 87.5px,#f3f5f6 148.5px,#edf2f5 158.5px,#f5f6f7 159.5px,#f8f1ed 160.5px,#fce0d0 161.5px,#f9ebe3 162.5px,#f8f1ed 164.5px,#f7f6f6 180.5px,#f0f4f6 200.5px,#e9f0f4 204.5px,#f9f0eb 205.5px,#f7f5f4 223.5px)"></div>
</div>
<div class="frame" style="left:33px;top:132.5px;width:224px;height:98px;border-color:#9a9a9a"></div>
<div style="position:absolute;left:271px;top:1px;width:21px;height:39px;background:linear-gradient(180deg,#053061 0.0%,#175290 6.3%,#2a71b2 12.7%,#3f8ec0 19.0%,#6eaed2 25.4%,#9dcbe1 31.7%,#c5dfec 38.1%,#e1edf3 44.4%,#f8f4f2 50.8%,#fbe3d4 57.1%,#fac8af 63.5%,#f4a683 69.8%,#e17860 76.2%,#cc4c44 82.5%,#b61f2e 88.9%,#8a0b25 95.2%)"></div>
<div style="position:absolute;left:271px;top:60px;width:21px;height:38.6px;background:linear-gradient(180deg,#053061 0.0%,#175290 6.3%,#2a71b2 12.7%,#3f8ec0 19.0%,#6eaed2 25.4%,#9dcbe1 31.7%,#c5dfec 38.1%,#e1edf3 44.4%,#f8f4f2 50.8%,#fbe3d4 57.1%,#fac8af 63.5%,#f4a683 69.8%,#e17860 76.2%,#cc4c44 82.5%,#b61f2e 88.9%,#8a0b25 95.2%)"></div>
<div style="position:absolute;left:271px;top:132.5px;width:21.4px;height:96.7px;background:linear-gradient(180deg,#053061 0.0%,#175290 6.3%,#2a71b2 12.7%,#3f8ec0 19.0%,#6eaed2 25.4%,#9dcbe1 31.7%,#c5dfec 38.1%,#e1edf3 44.4%,#f8f4f2 50.8%,#fbe3d4 57.1%,#fac8af 63.5%,#f4a683 69.8%,#e17860 76.2%,#cc4c44 82.5%,#b61f2e 88.9%,#8a0b25 95.2%)"></div>
<svg style="position:absolute;left:0;top:0" width="685" height="259" viewBox="0 0 685 259"><line x1="292" x2="298.7" y1="3.50" y2="3.50" stroke="#666" stroke-width="0.8"/>
<line x1="292" x2="298.7" y1="9.45" y2="9.45" stroke="#666" stroke-width="0.8"/>
<line x1="292" x2="298.7" y1="15.40" y2="15.40" stroke="#666" stroke-width="0.8"/>
<line x1="292" x2="298.7" y1="21.35" y2="21.35" stroke="#666" stroke-width="0.8"/>
<line x1="292" x2="298.7" y1="27.30" y2="27.30" stroke="#666" stroke-width="0.8"/>
<line x1="292" x2="298.7" y1="33.25" y2="33.25" stroke="#666" stroke-width="0.8"/>
<line x1="292" x2="298.7" y1="62.50" y2="62.50" stroke="#666" stroke-width="0.8"/>
<line x1="292" x2="298.7" y1="68.45" y2="68.45" stroke="#666" stroke-width="0.8"/>
<line x1="292" x2="298.7" y1="74.40" y2="74.40" stroke="#666" stroke-width="0.8"/>
<line x1="292" x2="298.7" y1="80.35" y2="80.35" stroke="#666" stroke-width="0.8"/>
<line x1="292" x2="298.7" y1="86.30" y2="86.30" stroke="#666" stroke-width="0.8"/>
<line x1="292" x2="298.7" y1="92.25" y2="92.25" stroke="#666" stroke-width="0.8"/>
<line x1="292.4" x2="297.5" y1="140.70" y2="140.70" stroke="#444" stroke-width="0.7"/>
<line x1="292.4" x2="297.5" y1="150.84" y2="150.84" stroke="#444" stroke-width="0.7"/>
<line x1="292.4" x2="297.5" y1="160.98" y2="160.98" stroke="#444" stroke-width="0.7"/>
<line x1="292.4" x2="297.5" y1="171.12" y2="171.12" stroke="#444" stroke-width="0.7"/>
<line x1="292.4" x2="297.5" y1="181.26" y2="181.26" stroke="#444" stroke-width="0.7"/>
<line x1="292.4" x2="297.5" y1="191.40" y2="191.40" stroke="#444" stroke-width="0.7"/>
<line x1="292.4" x2="297.5" y1="201.54" y2="201.54" stroke="#444" stroke-width="0.7"/>
<line x1="292.4" x2="297.5" y1="211.68" y2="211.68" stroke="#444" stroke-width="0.7"/>
<line x1="292.4" x2="297.5" y1="221.82" y2="221.82" stroke="#444" stroke-width="0.7"/>
<line x1="429.60" x2="429.60" y1="1.50" y2="98.10" stroke="#e6e6e6" stroke-width="0.7"/>
<line x1="483.80" x2="483.80" y1="1.50" y2="98.10" stroke="#e6e6e6" stroke-width="0.7"/>
<line x1="538.00" x2="538.00" y1="1.50" y2="98.10" stroke="#e6e6e6" stroke-width="0.7"/>
<line x1="592.20" x2="592.20" y1="1.50" y2="98.10" stroke="#e6e6e6" stroke-width="0.7"/>
<line x1="646.40" x2="646.40" y1="1.50" y2="98.10" stroke="#e6e6e6" stroke-width="0.7"/>
<line x1="391.50" x2="683.40" y1="82.28" y2="82.28" stroke="#e6e6e6" stroke-width="0.7"/>
<line x1="391.50" x2="683.40" y1="67.56" y2="67.56" stroke="#e6e6e6" stroke-width="0.7"/>
<line x1="391.50" x2="683.40" y1="52.84" y2="52.84" stroke="#e6e6e6" stroke-width="0.7"/>
<line x1="391.50" x2="683.40" y1="38.12" y2="38.12" stroke="#e6e6e6" stroke-width="0.7"/>
<line x1="391.50" x2="683.40" y1="23.40" y2="23.40" stroke="#e6e6e6" stroke-width="0.7"/>
<line x1="391.50" x2="683.40" y1="8.68" y2="8.68" stroke="#e6e6e6" stroke-width="0.7"/>
<line x1="429.60" x2="429.60" y1="98.10" y2="95.60" stroke="#333" stroke-width="0.8"/>
<line x1="429.60" x2="429.60" y1="1.50" y2="4.00" stroke="#333" stroke-width="0.8"/>
<line x1="483.80" x2="483.80" y1="98.10" y2="95.60" stroke="#333" stroke-width="0.8"/>
<line x1="483.80" x2="483.80" y1="1.50" y2="4.00" stroke="#333" stroke-width="0.8"/>
<line x1="538.00" x2="538.00" y1="98.10" y2="95.60" stroke="#333" stroke-width="0.8"/>
<line x1="538.00" x2="538.00" y1="1.50" y2="4.00" stroke="#333" stroke-width="0.8"/>
<line x1="592.20" x2="592.20" y1="98.10" y2="95.60" stroke="#333" stroke-width="0.8"/>
<line x1="592.20" x2="592.20" y1="1.50" y2="4.00" stroke="#333" stroke-width="0.8"/>
<line x1="646.40" x2="646.40" y1="98.10" y2="95.60" stroke="#333" stroke-width="0.8"/>
<line x1="646.40" x2="646.40" y1="1.50" y2="4.00" stroke="#333" stroke-width="0.8"/>
<line x1="391.50" x2="394.00" y1="97.00" y2="97.00" stroke="#333" stroke-width="0.8"/>
<line x1="683.40" x2="680.90" y1="97.00" y2="97.00" stroke="#333" stroke-width="0.8"/>
<line x1="391.50" x2="394.00" y1="82.28" y2="82.28" stroke="#333" stroke-width="0.8"/>
<line x1="683.40" x2="680.90" y1="82.28" y2="82.28" stroke="#333" stroke-width="0.8"/>
<line x1="391.50" x2="394.00" y1="67.56" y2="67.56" stroke="#333" stroke-width="0.8"/>
<line x1="683.40" x2="680.90" y1="67.56" y2="67.56" stroke="#333" stroke-width="0.8"/>
<line x1="391.50" x2="394.00" y1="52.84" y2="52.84" stroke="#333" stroke-width="0.8"/>
<line x1="683.40" x2="680.90" y1="52.84" y2="52.84" stroke="#333" stroke-width="0.8"/>
<line x1="391.50" x2="394.00" y1="38.12" y2="38.12" stroke="#333" stroke-width="0.8"/>
<line x1="683.40" x2="680.90" y1="38.12" y2="38.12" stroke="#333" stroke-width="0.8"/>
<line x1="391.50" x2="394.00" y1="23.40" y2="23.40" stroke="#333" stroke-width="0.8"/>
<line x1="683.40" x2="680.90" y1="23.40" y2="23.40" stroke="#333" stroke-width="0.8"/>
<line x1="391.50" x2="394.00" y1="8.68" y2="8.68" stroke="#333" stroke-width="0.8"/>
<line x1="683.40" x2="680.90" y1="8.68" y2="8.68" stroke="#333" stroke-width="0.8"/>
<polyline points="399.7,84.4 405.0,85.6 410.0,88.0 416.0,91.8 422.5,94.8 427.0,91.5 431.0,87.5 437.0,83.0 443.0,79.0 450.0,75.5 457.0,75.3 463.0,78.5 469.0,83.5 476.0,88.5 483.0,93.4 490.0,81.0 497.0,68.0 504.0,55.5 510.1,45.0 515.0,37.5 520.0,30.5 525.0,25.5 530.0,22.3 537.8,20.8 545.6,22.3 550.6,25.5 555.6,30.5 560.6,37.5 565.5,45.0 571.6,55.5 578.6,68.0 585.6,81.0 592.6,93.4 599.6,88.5 606.6,83.5 612.6,78.5 618.6,75.3 625.6,75.5 632.6,79.0 638.6,83.0 644.6,87.5 648.6,91.5 653.1,94.8 659.6,91.8 665.6,88.0 670.6,85.6 675.9,84.4" fill="none" stroke="#c97be0" stroke-width="0.9" stroke-dasharray="1,1" stroke-linejoin="round"/>
<polyline points="399.7,84.6 405.0,86.5 410.0,89.5 415.0,92.5 419.8,94.5 425.0,89.5 430.0,84.7 436.0,80.0 442.0,76.0 448.0,72.5 455.5,70.5 461.0,71.5 466.0,75.0 470.0,79.3 474.0,85.0 479.3,93.5 486.0,81.5 493.0,68.5 499.0,57.5 504.7,48.0 508.0,42.0 512.0,34.5 517.0,26.5 522.0,20.0 527.0,15.2 532.0,12.3 537.8,10.9 545.6,12.0 550.6,15.0 555.6,19.5 560.6,26.0 565.6,34.5 569.6,43.0 573.4,51.0 577.8,60.0 585.6,74.0 592.6,86.0 597.9,95.5 601.6,93.2 605.6,89.4 610.6,84.5 615.6,81.2 620.9,80.1 627.6,81.5 633.6,84.3 639.6,88.0 645.6,92.5 650.3,95.8 654.6,94.8 659.6,92.2 665.6,88.6 670.6,86.0 675.9,84.6" fill="none" stroke="#3c9e3c" stroke-width="0.9" stroke-dasharray="4,1.5,1,1.5" stroke-linejoin="round"/>
<polyline points="399.7,84.6 405.0,86.0 410.0,88.6 416.0,92.2 421.0,94.8 425.3,95.8 430.0,92.5 436.0,88.0 442.0,84.3 448.0,81.5 454.7,80.1 460.0,81.2 465.0,84.5 470.0,89.4 474.0,93.2 477.7,95.5 483.0,86.0 490.0,74.0 497.8,60.0 502.2,51.0 506.0,43.0 510.0,34.5 515.0,26.0 520.0,19.5 525.0,15.0 530.0,12.0 537.8,10.9 543.6,12.3 548.6,15.2 553.6,20.0 558.6,26.5 563.6,34.5 567.6,42.0 570.9,48.0 576.6,57.5 582.6,68.5 589.6,81.5 596.3,93.5 601.6,85.0 605.6,79.3 609.6,75.0 614.6,71.5 620.1,70.5 627.6,72.5 633.6,76.0 639.6,80.0 645.6,84.7 650.6,89.5 655.8,94.5 660.6,92.5 665.6,89.5 670.6,86.5 675.9,84.6" fill="none" stroke="#ee8a6a" stroke-width="0.9" stroke-dasharray="4,2.5" stroke-linejoin="round"/>
<polyline points="399.7,84.4 405.0,85.8 410.0,88.5 416.0,92.5 422.0,95.4 426.0,92.3 430.0,88.6 436.0,84.3 442.0,80.0 447.8,76.6 453.0,75.9 458.6,77.0 463.0,81.2 468.0,86.5 472.5,91.2 476.5,95.3 482.0,85.2 489.5,71.3 495.5,60.0 501.6,47.0 505.0,39.5 509.0,30.0 513.0,22.5 518.6,15.2 523.0,10.8 528.2,7.0 533.0,4.9 537.8,4.2 542.6,4.9 547.4,7.0 552.6,10.8 557.0,15.2 562.6,22.5 566.6,30.0 570.6,39.5 574.0,47.0 580.1,60.0 586.1,71.3 593.6,85.2 599.1,95.3 603.1,91.2 607.6,86.5 612.6,81.2 617.0,77.0 622.6,75.9 627.8,76.6 633.6,80.0 639.6,84.3 645.6,88.6 649.6,92.3 653.6,95.4 659.6,92.5 665.6,88.5 670.6,85.8 675.9,84.4" fill="none" stroke="#4fb0ee" stroke-width="1.05" stroke-linejoin="round"/>
<rect x="391.50" y="1.50" width="291.90" height="96.60" fill="none" stroke="#333" stroke-width="0.9"/>
<rect x="595.4" y="4.2" width="79.6" height="41.6" fill="#fff" stroke="#555" stroke-width="0.8"/>
<line x1="598.9" x2="619.2" y1="13.2" y2="13.2" stroke="#4fb0ee" stroke-width="1.2"/>
<line x1="598.9" x2="619.2" y1="21.3" y2="21.3" stroke="#ee8a6a" stroke-width="0.9" stroke-dasharray="4,2.5"/>
<line x1="598.9" x2="619.2" y1="29.4" y2="29.4" stroke="#3c9e3c" stroke-width="0.9" stroke-dasharray="4,1.5,1,1.5"/>
<line x1="598.9" x2="619.2" y1="37.5" y2="37.5" stroke="#c97be0" stroke-width="0.9" stroke-dasharray="1,1"/>
<rect x="417.7" y="177.8" width="45" height="18.6" fill="#0a74bc"/>
<rect x="596" y="177.8" width="43.8" height="18.6" fill="#0a74bc"/>
<rect x="462.7" y="160.4" width="133.3" height="53" fill="#0a74bc"/>
<rect x="462.7" y="178.6" width="133.3" height="17.4" fill="#e6e6e6"/>
<circle cx="566.6" cy="187.1" r="4.9" fill="none" stroke="#0a74bc" stroke-width="1.5"/>
<circle cx="566.6" cy="187.1" r="1.6" fill="#0a74bc"/>
<line x1="465" x2="592" y1="216.4" y2="216.4" stroke="#555" stroke-width="0.7"/>
<path d="M463.8,216.4 l3.5,-1.3 l0,2.6 z" fill="#555"/>
<path d="M593.5,216.4 l-3.5,-1.3 l0,2.6 z" fill="#555"/></svg>
<div class="t" style="font-size:11.00px;transform:translate(4.30px,4.40px) translate(-50%,-50%);font-style:italic;">a)</div>
<div class="t" style="font-size:11.00px;transform:translate(354.50px,2.60px) translate(-50%,-50%);font-style:italic;">b)</div>
<div class="t" style="font-size:11.00px;transform:translate(3.40px,136.40px) translate(-50%,-50%);font-style:italic;">c)</div>
<div class="t" style="font-size:11.00px;transform:translate(356.00px,136.90px) translate(-50%,-50%);font-style:italic;">d)</div>
<div class="t" style="font-size:10.50px;transform:translate(5.10px,21.70px) translate(-50%,-50%) rotate(-90deg);font-style:italic;">θ</div>
<div class="t" style="font-size:10.50px;transform:translate(5.10px,80.30px) translate(-50%,-50%) rotate(-90deg);font-style:italic;">θ</div>
<div class="t" style="font-size:10.50px;transform:translate(4.70px,181.70px) translate(-50%,-50%) rotate(-90deg);font-style:italic;">θ</div>
<div class="t" style="font-size:8.50px;transform:translate(21.25px,39.00px) translate(-50%,-50%);">0</div>
<div class="t" style="font-size:8.50px;transform:translate(21.25px,33.20px) translate(-50%,-50%);">1</div>
<div class="t" style="font-size:8.50px;transform:translate(21.25px,27.40px) translate(-50%,-50%);">2</div>
<div class="t" style="font-size:8.50px;transform:translate(21.25px,20.60px) translate(-50%,-50%);">3</div>
<div class="t" style="font-size:8.50px;transform:translate(21.25px,14.80px) translate(-50%,-50%);">4</div>
<div class="t" style="font-size:8.50px;transform:translate(21.25px,9.00px) translate(-50%,-50%);">5</div>
<div class="t" style="font-size:8.50px;transform:translate(21.25px,2.70px) translate(-50%,-50%);">6</div>
<div class="t" style="font-size:8.50px;transform:translate(21.25px,97.60px) translate(-50%,-50%);">0</div>
<div class="t" style="font-size:8.50px;transform:translate(21.25px,91.80px) translate(-50%,-50%);">1</div>
<div class="t" style="font-size:8.50px;transform:translate(21.25px,86.00px) translate(-50%,-50%);">2</div>
<div class="t" style="font-size:8.50px;transform:translate(21.25px,79.20px) translate(-50%,-50%);">3</div>
<div class="t" style="font-size:8.50px;transform:translate(21.25px,73.40px) translate(-50%,-50%);">4</div>
<div class="t" style="font-size:8.50px;transform:translate(21.25px,67.60px) translate(-50%,-50%);">5</div>
<div class="t" style="font-size:8.50px;transform:translate(21.25px,61.80px) translate(-50%,-50%);">6</div>
<div class="t" style="font-size:8.50px;transform:translate(21.30px,230.40px) translate(-50%,-50%);">0</div>
<div class="t" style="font-size:8.50px;transform:translate(20.80px,214.40px) translate(-50%,-50%);">1</div>
<div class="t" style="font-size:8.50px;transform:translate(21.30px,199.40px) translate(-50%,-50%);">2</div>
<div class="t" style="font-size:8.50px;transform:translate(20.80px,184.40px) translate(-50%,-50%);">3</div>
<div class="t" style="font-size:8.50px;transform:translate(21.30px,169.40px) translate(-50%,-50%);">4</div>
<div class="t" style="font-size:8.50px;transform:translate(20.80px,153.40px) translate(-50%,-50%);">5</div>
<div class="t" style="font-size:8.50px;transform:translate(20.80px,138.40px) translate(-50%,-50%);">6</div>
<div class="t" style="font-size:8.50px;transform:translate(58.30px,109.80px) translate(-50%,-50%);">&minus;2</div>
<div class="t" style="font-size:8.50px;transform:translate(58.30px,240.00px) translate(-50%,-50%);">&minus;2</div>
<div class="t" style="font-size:8.50px;transform:translate(102.10px,109.80px) translate(-50%,-50%);">&minus;1</div>
<div class="t" style="font-size:8.50px;transform:translate(102.10px,240.00px) translate(-50%,-50%);">&minus;1</div>
<div class="t" style="font-size:8.50px;transform:translate(145.00px,109.80px) translate(-50%,-50%);">0</div>
<div class="t" style="font-size:8.50px;transform:translate(145.00px,240.00px) translate(-50%,-50%);">0</div>
<div class="t" style="font-size:8.50px;transform:translate(187.80px,109.80px) translate(-50%,-50%);">1</div>
<div class="t" style="font-size:8.50px;transform:translate(187.80px,240.00px) translate(-50%,-50%);">1</div>
<div class="t" style="font-size:8.50px;transform:translate(231.10px,109.80px) translate(-50%,-50%);">2</div>
<div class="t" style="font-size:8.50px;transform:translate(231.10px,240.00px) translate(-50%,-50%);">2</div>
<div class="t" style="font-size:8.50px;transform:translate(429.60px,109.20px) translate(-50%,-50%);">&minus;2</div>
<div class="t" style="font-size:8.50px;transform:translate(484.00px,109.20px) translate(-50%,-50%);">&minus;1</div>
<div class="t" style="font-size:8.50px;transform:translate(537.90px,109.20px) translate(-50%,-50%);">0</div>
<div class="t" style="font-size:8.50px;transform:translate(591.80px,109.20px) translate(-50%,-50%);">1</div>
<div class="t" style="font-size:8.50px;transform:translate(646.20px,109.20px) translate(-50%,-50%);">2</div>
<div class="t" style="font-size:11.46px;transform:translate(144.50px,122.40px) translate(-50%,-50%);">Φ/Φ<span class="sb0">0</span></div>
<div class="t" style="font-size:10.88px;transform:translate(144.70px,252.40px) translate(-50%,-50%);">Φ/Φ<span class="sb0">0</span></div>
<div class="t" style="font-size:11.12px;transform:translate(537.30px,121.70px) translate(-50%,-50%);">Φ/Φ<span class="sb0">0</span></div>
<div class="t" style="font-size:8.50px;transform:translate(307.30px,4.00px) translate(-50%,-50%);">0.6</div>
<div class="t" style="font-size:8.50px;transform:translate(307.30px,9.20px) translate(-50%,-50%);">0.5</div>
<div class="t" style="font-size:8.50px;transform:translate(307.30px,15.40px) translate(-50%,-50%);">0.4</div>
<div class="t" style="font-size:8.50px;transform:translate(307.30px,21.60px) translate(-50%,-50%);">0.3</div>
<div class="t" style="font-size:8.50px;transform:translate(307.30px,27.80px) translate(-50%,-50%);">0.2</div>
<div class="t" style="font-size:8.50px;transform:translate(307.80px,33.00px) translate(-50%,-50%);">0.1</div>
<div class="t" style="font-size:8.50px;transform:translate(307.30px,63.00px) translate(-50%,-50%);">0.6</div>
<div class="t" style="font-size:8.50px;transform:translate(307.30px,68.20px) translate(-50%,-50%);">0.5</div>
<div class="t" style="font-size:8.50px;transform:translate(307.30px,74.40px) translate(-50%,-50%);">0.4</div>
<div class="t" style="font-size:8.50px;transform:translate(307.30px,80.60px) translate(-50%,-50%);">0.3</div>
<div class="t" style="font-size:8.50px;transform:translate(307.30px,86.80px) translate(-50%,-50%);">0.2</div>
<div class="t" style="font-size:8.50px;transform:translate(307.80px,92.00px) translate(-50%,-50%);">0.1</div>
<div class="t" style="font-size:11.50px;transform:translate(333.50px,19.30px) translate(-50%,-50%) rotate(-90deg);letter-spacing:2.97px;"><i>I</i><span class="ss"><span class="sp">+</span><span class="sb"><i>c</i></span></span>/<i>I</i><span class="sb0">0</span></div>
<div class="t" style="font-size:11.50px;transform:translate(333.60px,78.30px) translate(-50%,-50%) rotate(-90deg);letter-spacing:3.34px;">|<i>I</i><span class="ss"><span class="sp">&minus;</span><span class="sb"><i>c</i></span></span>|/<i>I</i><span class="sb0">0</span></div>
<div class="t" style="font-size:8.50px;transform:translate(376.00px,97.00px) translate(-50%,-50%);">0.0</div>
<div class="t" style="font-size:8.50px;transform:translate(376.50px,82.88px) translate(-50%,-50%);">0.1</div>
<div class="t" style="font-size:8.50px;transform:translate(376.00px,67.76px) translate(-50%,-50%);">0.2</div>
<div class="t" style="font-size:8.50px;transform:translate(376.00px,52.64px) translate(-50%,-50%);">0.3</div>
<div class="t" style="font-size:8.50px;transform:translate(376.00px,38.52px) translate(-50%,-50%);">0.4</div>
<div class="t" style="font-size:8.50px;transform:translate(376.00px,23.40px) translate(-50%,-50%);">0.5</div>
<div class="t" style="font-size:8.50px;transform:translate(376.00px,9.28px) translate(-50%,-50%);">0.6</div>
<div class="t" style="font-size:11.50px;transform:translate(355.20px,49.10px) translate(-50%,-50%) rotate(-90deg);letter-spacing:1.46px;"><i>I</i><span class="sb"><i>c</i></span>/<i>I</i><span class="sb0">0</span></div>
<div class="t" style="font-size:7.60px;transform:translate(639.50px,11.90px) translate(-50%,-50%) scale(1,0.9);color:#222;letter-spacing:0.98px;">|<i>I</i><span class="ss"><span class="sp">±</span><span class="sb"><i>c</i></span></span>|,&thinsp;<i>θ</i><span style="margin-left:0.22em"></span>=<span style="margin-left:0.22em"></span>0</div>
<div class="t" style="font-size:7.60px;transform:translate(643.00px,20.20px) translate(-50%,-50%) scale(1,0.9);color:#222;letter-spacing:0.88px;">|<i>I</i><span class="ss"><span class="sp">±</span><span class="sb"><i>c</i></span></span>|,&thinsp;<i>θ</i><span style="margin-left:0.22em"></span>=<span style="margin-left:0.22em"></span><i>π</i>/2</div>
<div class="t" style="font-size:7.60px;transform:translate(647.50px,28.00px) translate(-50%,-50%) scale(1,0.9);color:#222;letter-spacing:0.89px;">|<i>I</i><span class="ss"><span class="sp">±</span><span class="sb"><i>c</i></span></span>|,&thinsp;<i>θ</i><span style="margin-left:0.22em"></span>=<span style="margin-left:0.22em"></span>&minus;&thinsp;<i>π</i>/2</div>
<div class="t" style="font-size:7.60px;transform:translate(639.40px,36.30px) translate(-50%,-50%) scale(1,0.9);color:#222;letter-spacing:1.00px;">|<i>I</i><span class="ss"><span class="sp">±</span><span class="sb"><i>c</i></span></span>|,&thinsp;<i>θ</i><span style="margin-left:0.22em"></span>=<span style="margin-left:0.22em"></span><i>π</i></div>
<div class="t" style="font-size:8.50px;transform:translate(311.00px,140.60px) translate(-50%,-50%);">0.100</div>
<div class="t" style="font-size:8.50px;transform:translate(311.00px,150.64px) translate(-50%,-50%);">0.075</div>
<div class="t" style="font-size:8.50px;transform:translate(311.00px,160.68px) translate(-50%,-50%);">0.050</div>
<div class="t" style="font-size:8.50px;transform:translate(311.00px,171.72px) translate(-50%,-50%);">0.025</div>
<div class="t" style="font-size:8.50px;transform:translate(303.60px,181.76px) translate(-50%,-50%);">0</div>
<div class="t" style="font-size:8.50px;transform:translate(314.10px,191.80px) translate(-50%,-50%);">&minus;0.025</div>
<div class="t" style="font-size:8.50px;transform:translate(314.10px,201.84px) translate(-50%,-50%);">&minus;0.050</div>
<div class="t" style="font-size:8.50px;transform:translate(314.10px,211.88px) translate(-50%,-50%);">&minus;0.075</div>
<div class="t" style="font-size:8.50px;transform:translate(314.10px,221.92px) translate(-50%,-50%);">&minus;0.100</div>
<div class="t" style="font-size:10.50px;transform:translate(331.50px,181.40px) translate(-50%,-50%) rotate(-90deg);font-style:italic;">η</div>
<div class="t" style="font-size:8.00px;transform:translate(528.60px,167.80px) translate(-50%,-50%);font-style:italic;color:#fff;">φ</div>
<div class="t" style="font-size:8.00px;transform:translate(528.40px,204.00px) translate(-50%,-50%);color:#fff;">0</div>
<div class="t" style="font-size:8.00px;transform:translate(439.80px,187.60px) translate(-50%,-50%);font-style:italic;color:#fff;">θ</div>
<div class="t" style="font-size:8.00px;transform:translate(618.00px,187.60px) translate(-50%,-50%);color:#fff;">&minus;<i>θ</i></div>
<div class="t" style="font-size:8.50px;transform:translate(582.70px,186.80px) translate(-50%,-50%);font-style:italic;color:#666;">B</div>
<div class="t" style="font-size:8.00px;transform:translate(528.60px,222.80px) translate(-50%,-50%);font-style:italic;color:#666;">W</div>
</body></html>
